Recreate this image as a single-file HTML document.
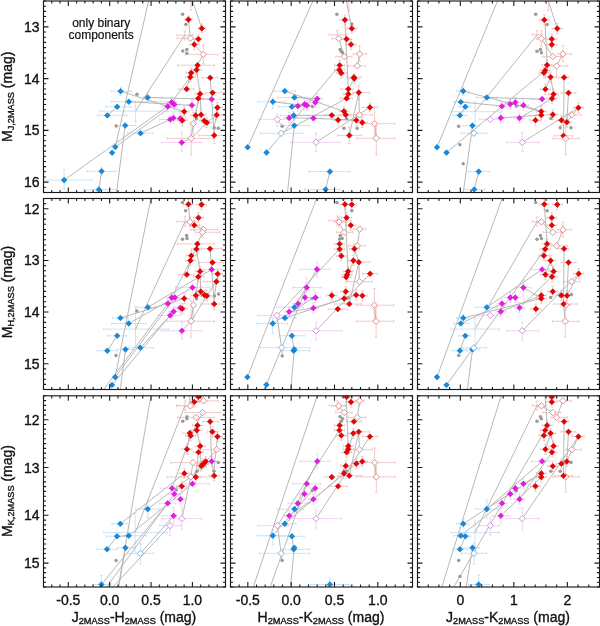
<!DOCTYPE html>
<html><head><meta charset="utf-8"><style>
html,body{margin:0;padding:0;background:#fff;}
body{width:600px;height:626px;overflow:hidden;font-family:"Liberation Sans",sans-serif;}
svg{display:block;will-change:transform;filter:blur(0.3px);}
</style></head><body>
<svg width="600" height="626" viewBox="0 0 600 626">
<rect width="600" height="626" fill="#fff"/>
<clipPath id="c00"><rect x="43.5" y="1" width="182" height="191.5"/></clipPath>
<g clip-path="url(#c00)">
<path d="M191 0V10M189.7 0h2.6M189.7 10h2.6" stroke="#f3c4c4" stroke-width="0.9" fill="none"/>
<path d="M43 180.1H92M43 178.8v2.6M92 178.8v2.6M64.1 169.6V188.5M62.8 169.6h2.6M62.8 188.5h2.6" stroke="#c4e2f7" stroke-width="0.9" fill="none"/>
<path d="M84 189.6H116M84 188.3v2.6M116 188.3v2.6" stroke="#c4e2f7" stroke-width="0.9" fill="none"/>
<path d="M87 171.3H116M87 170v2.6M116 170v2.6M101.6 167V176M100.3 167h2.6M100.3 176h2.6" stroke="#c4e2f7" stroke-width="0.9" fill="none"/>
<path d="M116 125.5H136M116 124.2v2.6M136 124.2v2.6" stroke="#c4e2f7" stroke-width="0.9" fill="none"/>
<path d="M127.5 133.2H152.7M127.5 131.9v2.6M152.7 131.9v2.6" stroke="#c4e2f7" stroke-width="0.9" fill="none"/>
<path d="M98 115.4H127M98 114.1v2.6M127 114.1v2.6" stroke="#c4e2f7" stroke-width="0.9" fill="none"/>
<path d="M105.5 106.8H131M105.5 105.5v2.6M131 105.5v2.6" stroke="#c4e2f7" stroke-width="0.9" fill="none"/>
<path d="M111 101.7H175M111 100.4v2.6M175 100.4v2.6" stroke="#c4e2f7" stroke-width="0.9" fill="none"/>
<path d="M111.6 91.2H131.4M111.6 89.9v2.6M131.4 89.9v2.6M120.6 87V95M119.3 87h2.6M119.3 95h2.6" stroke="#c4e2f7" stroke-width="0.9" fill="none"/>
<path d="M143 97.5H163M143 96.2v2.6M163 96.2v2.6M147.7 93V102M146.4 93h2.6M146.4 102h2.6" stroke="#c4e2f7" stroke-width="0.9" fill="none"/>
<path d="M100 111.2H185M100 109.9v2.6M185 109.9v2.6M135.6 101.5V121.8M134.3 101.5h2.6M134.3 121.8h2.6" stroke="#c4e2f7" stroke-width="0.9" fill="none"/>
<path d="M185 19.6H192M185 18.3v2.6M192 18.3v2.6M188.4 16V23M187.1 16h2.6M187.1 23h2.6" stroke="#f3c4c4" stroke-width="0.9" fill="none"/>
<path d="M198 28.4H206M198 27.1v2.6M206 27.1v2.6M201.8 24V33M200.5 24h2.6M200.5 33h2.6" stroke="#f3c4c4" stroke-width="0.9" fill="none"/>
<path d="M177 38.3H197M177 37v2.6M197 37v2.6" stroke="#f3c4c4" stroke-width="0.9" fill="none"/>
<path d="M177 35.3H193M177 34v2.6M193 34v2.6M184.6 31V40M183.3 31h2.6M183.3 40h2.6" stroke="#f3c4c4" stroke-width="0.9" fill="none"/>
<path d="M195 39.1H202M195 37.8v2.6M202 37.8v2.6M198.4 35V43M197.1 35h2.6M197.1 43h2.6" stroke="#f3c4c4" stroke-width="0.9" fill="none"/>
<path d="M189.3 44.5H199.3M189.3 43.2v2.6M199.3 43.2v2.6M194.3 39.5V49.5M193 39.5h2.6M193 49.5h2.6" stroke="#f3c4c4" stroke-width="0.9" fill="none"/>
<path d="M185.4 54.4H218M185.4 53.1v2.6M218 53.1v2.6M203.3 45V64M202 45h2.6M202 64h2.6" stroke="#f3c4c4" stroke-width="0.9" fill="none"/>
<path d="M177.7 65.2H214.5M177.7 63.9v2.6M214.5 63.9v2.6" stroke="#f3c4c4" stroke-width="0.9" fill="none"/>
<path d="M191.6 69.9H201.6M191.6 68.6v2.6M201.6 68.6v2.6M196.6 64.9V74.9M195.3 64.9h2.6M195.3 74.9h2.6" stroke="#f3c4c4" stroke-width="0.9" fill="none"/>
<path d="M186.1 72.9H196.1M186.1 71.6v2.6M196.1 71.6v2.6M191.1 67.9V77.9M189.8 67.9h2.6M189.8 77.9h2.6" stroke="#f3c4c4" stroke-width="0.9" fill="none"/>
<path d="M185.3 77.1H195.3M185.3 75.8v2.6M195.3 75.8v2.6M190.3 72.1V82.1M189 72.1h2.6M189 82.1h2.6" stroke="#f3c4c4" stroke-width="0.9" fill="none"/>
<path d="M202 77.8H218M202 76.5v2.6M218 76.5v2.6" stroke="#f3c4c4" stroke-width="0.9" fill="none"/>
<path d="M178.5 89.1H194M178.5 87.8v2.6M194 87.8v2.6" stroke="#f3c4c4" stroke-width="0.9" fill="none"/>
<path d="M195.1 93.9H205.1M195.1 92.6v2.6M205.1 92.6v2.6M200.1 88.9V98.9M198.8 88.9h2.6M198.8 98.9h2.6" stroke="#f3c4c4" stroke-width="0.9" fill="none"/>
<path d="M206 92.7H226M206 91.4v2.6M226 91.4v2.6" stroke="#f3c4c4" stroke-width="0.9" fill="none"/>
<path d="M193.3 98.4H203.3M193.3 97.1v2.6M203.3 97.1v2.6M198.3 93.4V103.4M197 93.4h2.6M197 103.4h2.6" stroke="#f3c4c4" stroke-width="0.9" fill="none"/>
<path d="M202.4 99.3H226M202.4 98v2.6M226 98v2.6" stroke="#f4cdf4" stroke-width="0.9" fill="none"/>
<path d="M166.6 102.3H176.6M166.6 101v2.6M176.6 101v2.6M171.6 97.3V107.3M170.3 97.3h2.6M170.3 107.3h2.6" stroke="#f4cdf4" stroke-width="0.9" fill="none"/>
<path d="M169.3 104.5H179.3M169.3 103.2v2.6M179.3 103.2v2.6M174.3 99.5V109.5M173 99.5h2.6M173 109.5h2.6" stroke="#f4cdf4" stroke-width="0.9" fill="none"/>
<path d="M162.7 106.4H172.7M162.7 105.1v2.6M172.7 105.1v2.6M167.7 101.4V111.4M166.4 101.4h2.6M166.4 111.4h2.6" stroke="#f4cdf4" stroke-width="0.9" fill="none"/>
<path d="M186.9 105.3H196.9M186.9 104v2.6M196.9 104v2.6M191.9 100.3V110.3M190.6 100.3h2.6M190.6 110.3h2.6" stroke="#f4cdf4" stroke-width="0.9" fill="none"/>
<path d="M212.4 107.6H222.4M212.4 106.3v2.6M222.4 106.3v2.6M217.4 102.6V112.6M216.1 102.6h2.6M216.1 112.6h2.6" stroke="#f3c4c4" stroke-width="0.9" fill="none"/>
<path d="M179.2 111.6H189.2M179.2 110.3v2.6M189.2 110.3v2.6M184.2 106.6V116.6M182.9 106.6h2.6M182.9 116.6h2.6" stroke="#f3c4c4" stroke-width="0.9" fill="none"/>
<path d="M190.7 115.4H200.7M190.7 114.1v2.6M200.7 114.1v2.6M195.7 110.4V120.4M194.4 110.4h2.6M194.4 120.4h2.6" stroke="#f3c4c4" stroke-width="0.9" fill="none"/>
<path d="M196.1 114.8H206.1M196.1 113.5v2.6M206.1 113.5v2.6M201.1 109.8V119.8M199.8 109.8h2.6M199.8 119.8h2.6" stroke="#f3c4c4" stroke-width="0.9" fill="none"/>
<path d="M211.7 115H221.7M211.7 113.7v2.6M221.7 113.7v2.6M216.7 110V120M215.4 110h2.6M215.4 120h2.6" stroke="#f3c4c4" stroke-width="0.9" fill="none"/>
<path d="M159.6 119.5H185.8M159.6 118.2v2.6M185.8 118.2v2.6" stroke="#f4cdf4" stroke-width="0.9" fill="none"/>
<path d="M168.4 118H178.4M168.4 116.7v2.6M178.4 116.7v2.6M173.4 113V123M172.1 113h2.6M172.1 123h2.6" stroke="#f4cdf4" stroke-width="0.9" fill="none"/>
<path d="M175.3 118.5H185.3M175.3 117.2v2.6M185.3 117.2v2.6M180.3 113.5V123.5M179 113.5h2.6M179 123.5h2.6" stroke="#f4cdf4" stroke-width="0.9" fill="none"/>
<path d="M177.2 120.5H187.2M177.2 119.2v2.6M187.2 119.2v2.6M182.2 115.5V125.5M180.9 115.5h2.6M180.9 125.5h2.6" stroke="#f3c4c4" stroke-width="0.9" fill="none"/>
<path d="M199.3 120.8H209.3M199.3 119.5v2.6M209.3 119.5v2.6M204.3 115.8V125.8M203 115.8h2.6M203 125.8h2.6" stroke="#f3c4c4" stroke-width="0.9" fill="none"/>
<path d="M201.8 122.7H211.8M201.8 121.4v2.6M211.8 121.4v2.6M206.8 117.7V127.7M205.5 117.7h2.6M205.5 127.7h2.6" stroke="#f3c4c4" stroke-width="0.9" fill="none"/>
<path d="M193.4 112.5V138.6M192.1 112.5h2.6M192.1 138.6h2.6" stroke="#f3c4c4" stroke-width="0.9" fill="none"/>
<path d="M199 135.4H226M199 134.1v2.6M226 134.1v2.6M214.2 129V143.7M212.9 129h2.6M212.9 143.7h2.6" stroke="#f3c4c4" stroke-width="0.9" fill="none"/>
<path d="M167.2 138.4H213.9M167.2 137.1v2.6M213.9 137.1v2.6M191.1 123.3V155.2M189.8 123.3h2.6M189.8 155.2h2.6" stroke="#f3c4c4" stroke-width="0.9" fill="none"/>
<path d="M161.5 142.5H201.7M161.5 141.2v2.6M201.7 141.2v2.6M181.7 132.3V151.4M180.4 132.3h2.6M180.4 151.4h2.6" stroke="#f4cdf4" stroke-width="0.9" fill="none"/>
<path d="M148.8 0L115.3 147M125.2 125.5L116.5 193M64.1 180.1L167.6 106.3M115.3 147L174.3 104.5M171.6 102.3L190.3 77.1M140.5 133.2L170.2 119.5M135.6 111.2L184.6 35.3M120.6 91.2L184.2 111.6M147.7 97.5L211.7 99.3M128.8 101.7L192.5 105.4M101.6 171.3L98.8 189.6M107.3 115.4L117.2 106.8M192.3 0L201.8 28.4M188.4 19.6L190.4 38.3M194.3 44.5L203.3 54.4M203.3 54.4L190.3 77.1M191.1 72.9L186.6 89.1M196.6 69.9L200.1 93.9M210.2 77.8L211.7 99.3M211.7 99.3L214.2 135.4M193.4 123.6L191.1 138.4M191.1 138.4L206.8 122.7M181.7 142.5L191.1 138.4M200.1 93.9L201.1 114.8M198.3 98.4L195.7 115.4M216.7 115L206.8 122.7M217.4 107.6L214.2 127.8" stroke="#b4b4b4" stroke-width="0.95" fill="none"/>
<circle cx="137" cy="94.3" r="1.75" fill="#9a9a9a"/>
<circle cx="116.2" cy="126" r="1.75" fill="#9a9a9a"/>
<circle cx="182.6" cy="14.3" r="1.75" fill="#9a9a9a"/>
<circle cx="185.8" cy="24.5" r="1.75" fill="#9a9a9a"/>
<circle cx="182.8" cy="50.9" r="1.75" fill="#9a9a9a"/>
<circle cx="186.9" cy="49.4" r="1.75" fill="#9a9a9a"/>
<circle cx="186.9" cy="53.2" r="1.75" fill="#9a9a9a"/>
<circle cx="196.4" cy="118.8" r="1.75" fill="#9a9a9a"/>
<circle cx="214.2" cy="127.8" r="1.75" fill="#9a9a9a"/>
<circle cx="218.3" cy="128.2" r="1.75" fill="#9a9a9a"/>
<polygon points="64.1,177.3 66.9,180.1 64.1,182.9 61.3,180.1" fill="#0d8ce6" stroke="#0a6fc0" stroke-width="0.6"/>
<polygon points="98.8,186.8 101.6,189.6 98.8,192.4 96,189.6" fill="#0d8ce6" stroke="#0a6fc0" stroke-width="0.6"/>
<polygon points="101.6,168.5 104.4,171.3 101.6,174.1 98.8,171.3" fill="#0d8ce6" stroke="#0a6fc0" stroke-width="0.6"/>
<polygon points="112.1,149.9 114.9,152.7 112.1,155.5 109.3,152.7" fill="#0d8ce6" stroke="#0a6fc0" stroke-width="0.6"/>
<polygon points="115.3,144.2 118.1,147 115.3,149.8 112.5,147" fill="#0d8ce6" stroke="#0a6fc0" stroke-width="0.6"/>
<polygon points="125.2,122.7 128,125.5 125.2,128.3 122.4,125.5" fill="#0d8ce6" stroke="#0a6fc0" stroke-width="0.6"/>
<polygon points="140.5,130.4 143.3,133.2 140.5,136 137.7,133.2" fill="#0d8ce6" stroke="#0a6fc0" stroke-width="0.6"/>
<polygon points="107.3,112.6 110.1,115.4 107.3,118.2 104.5,115.4" fill="#0d8ce6" stroke="#0a6fc0" stroke-width="0.6"/>
<polygon points="117.2,104 120,106.8 117.2,109.6 114.4,106.8" fill="#0d8ce6" stroke="#0a6fc0" stroke-width="0.6"/>
<polygon points="128.8,98.9 131.6,101.7 128.8,104.5 126,101.7" fill="#0d8ce6" stroke="#0a6fc0" stroke-width="0.6"/>
<polygon points="120.6,88.4 123.4,91.2 120.6,94 117.8,91.2" fill="#0d8ce6" stroke="#0a6fc0" stroke-width="0.6"/>
<polygon points="147.7,94.7 150.5,97.5 147.7,100.3 144.9,97.5" fill="#0d8ce6" stroke="#0a6fc0" stroke-width="0.6"/>
<polygon points="188.4,16.8 191.2,19.6 188.4,22.4 185.6,19.6" fill="#ee0000" stroke="#b80000" stroke-width="0.6"/>
<polygon points="201.8,25.6 204.6,28.4 201.8,31.2 199,28.4" fill="#ee0000" stroke="#b80000" stroke-width="0.6"/>
<polygon points="190.4,35.1 193.6,38.3 190.4,41.5 187.2,38.3" fill="#fff" stroke="#e28e8e" stroke-width="1"/>
<polygon points="198.4,36.3 201.2,39.1 198.4,41.9 195.6,39.1" fill="#ee0000" stroke="#b80000" stroke-width="0.6"/>
<polygon points="194.3,41.7 197.1,44.5 194.3,47.3 191.5,44.5" fill="#ee0000" stroke="#b80000" stroke-width="0.6"/>
<polygon points="203.3,51.2 206.5,54.4 203.3,57.6 200.1,54.4" fill="#fff" stroke="#e28e8e" stroke-width="1"/>
<polygon points="197.6,62.4 200.4,65.2 197.6,68 194.8,65.2" fill="#ee0000" stroke="#b80000" stroke-width="0.6"/>
<polygon points="196.6,67.1 199.4,69.9 196.6,72.7 193.8,69.9" fill="#ee0000" stroke="#b80000" stroke-width="0.6"/>
<polygon points="191.1,70.1 193.9,72.9 191.1,75.7 188.3,72.9" fill="#ee0000" stroke="#b80000" stroke-width="0.6"/>
<polygon points="190.3,74.3 193.1,77.1 190.3,79.9 187.5,77.1" fill="#ee0000" stroke="#b80000" stroke-width="0.6"/>
<polygon points="210.2,75 213,77.8 210.2,80.6 207.4,77.8" fill="#ee0000" stroke="#b80000" stroke-width="0.6"/>
<polygon points="186.6,86.3 189.4,89.1 186.6,91.9 183.8,89.1" fill="#ee0000" stroke="#b80000" stroke-width="0.6"/>
<polygon points="200.1,91.1 202.9,93.9 200.1,96.7 197.3,93.9" fill="#ee0000" stroke="#b80000" stroke-width="0.6"/>
<polygon points="212.6,89.9 215.4,92.7 212.6,95.5 209.8,92.7" fill="#ee0000" stroke="#b80000" stroke-width="0.6"/>
<polygon points="198.3,95.6 201.1,98.4 198.3,101.2 195.5,98.4" fill="#ee0000" stroke="#b80000" stroke-width="0.6"/>
<polygon points="211.7,96.5 214.5,99.3 211.7,102.1 208.9,99.3" fill="#ee14ee" stroke="#c010c0" stroke-width="0.6"/>
<polygon points="171.6,99.5 174.4,102.3 171.6,105.1 168.8,102.3" fill="#ee14ee" stroke="#c010c0" stroke-width="0.6"/>
<polygon points="174.3,101.7 177.1,104.5 174.3,107.3 171.5,104.5" fill="#ee14ee" stroke="#c010c0" stroke-width="0.6"/>
<polygon points="167.7,103.6 170.5,106.4 167.7,109.2 164.9,106.4" fill="#ee14ee" stroke="#c010c0" stroke-width="0.6"/>
<polygon points="191.9,102.5 194.7,105.3 191.9,108.1 189.1,105.3" fill="#ee14ee" stroke="#c010c0" stroke-width="0.6"/>
<polygon points="217.4,104.8 220.2,107.6 217.4,110.4 214.6,107.6" fill="#ee0000" stroke="#b80000" stroke-width="0.6"/>
<polygon points="184.2,108.8 187,111.6 184.2,114.4 181.4,111.6" fill="#ee0000" stroke="#b80000" stroke-width="0.6"/>
<polygon points="195.7,112.6 198.5,115.4 195.7,118.2 192.9,115.4" fill="#ee0000" stroke="#b80000" stroke-width="0.6"/>
<polygon points="201.1,112 203.9,114.8 201.1,117.6 198.3,114.8" fill="#ee0000" stroke="#b80000" stroke-width="0.6"/>
<polygon points="216.7,112.2 219.5,115 216.7,117.8 213.9,115" fill="#ee0000" stroke="#b80000" stroke-width="0.6"/>
<polygon points="170.2,116.7 173,119.5 170.2,122.3 167.4,119.5" fill="#ee14ee" stroke="#c010c0" stroke-width="0.6"/>
<polygon points="173.4,115.2 176.2,118 173.4,120.8 170.6,118" fill="#ee14ee" stroke="#c010c0" stroke-width="0.6"/>
<polygon points="180.3,115.7 183.1,118.5 180.3,121.3 177.5,118.5" fill="#ee14ee" stroke="#c010c0" stroke-width="0.6"/>
<polygon points="182.2,117.7 185,120.5 182.2,123.3 179.4,120.5" fill="#ee0000" stroke="#b80000" stroke-width="0.6"/>
<polygon points="204.3,118 207.1,120.8 204.3,123.6 201.5,120.8" fill="#ee0000" stroke="#b80000" stroke-width="0.6"/>
<polygon points="206.8,119.9 209.6,122.7 206.8,125.5 204,122.7" fill="#ee0000" stroke="#b80000" stroke-width="0.6"/>
<polygon points="193.4,120.4 196.6,123.6 193.4,126.8 190.2,123.6" fill="#fff" stroke="#e28e8e" stroke-width="1"/>
<polygon points="214.2,132.6 217,135.4 214.2,138.2 211.4,135.4" fill="#ee0000" stroke="#b80000" stroke-width="0.6"/>
<polygon points="191.1,135.2 194.3,138.4 191.1,141.6 187.9,138.4" fill="#fff" stroke="#e28e8e" stroke-width="1"/>
<polygon points="181.7,139.7 184.5,142.5 181.7,145.3 178.9,142.5" fill="#ee14ee" stroke="#c010c0" stroke-width="0.6"/>
</g>
<clipPath id="c01"><rect x="230.5" y="1" width="182" height="191.5"/></clipPath>
<g clip-path="url(#c01)">
<path d="M348.9 1V10.5M347.6 1h2.6M347.6 10.5h2.6" stroke="#f3c4c4" stroke-width="0.9" fill="none"/>
<path d="M274 91.1H295.5M274 89.8v2.6M295.5 89.8v2.6" stroke="#c4e2f7" stroke-width="0.9" fill="none"/>
<path d="M277.6 97.5H307M277.6 96.2v2.6M307 96.2v2.6" stroke="#c4e2f7" stroke-width="0.9" fill="none"/>
<path d="M258 101.8H285.7M258 100.5v2.6M285.7 100.5v2.6M272.8 97.9V108.6M271.5 97.9h2.6M271.5 108.6h2.6" stroke="#c4e2f7" stroke-width="0.9" fill="none"/>
<path d="M278.5 106.8H307M278.5 105.5v2.6M307 105.5v2.6" stroke="#c4e2f7" stroke-width="0.9" fill="none"/>
<path d="M280.3 115.4H309M280.3 114.1v2.6M309 114.1v2.6M293.7 111.3V120M292.4 111.3h2.6M292.4 120h2.6" stroke="#c4e2f7" stroke-width="0.9" fill="none"/>
<path d="M283.9 125.6H309.8M283.9 124.3v2.6M309.8 124.3v2.6" stroke="#c4e2f7" stroke-width="0.9" fill="none"/>
<path d="M260.3 133.3H302.7M260.3 132v2.6M302.7 132v2.6" stroke="#c4e2f7" stroke-width="0.9" fill="none"/>
<path d="M308.9 171.6H350M308.9 170.3v2.6M350 170.3v2.6" stroke="#c4e2f7" stroke-width="0.9" fill="none"/>
<path d="M304.5 189.5H340M304.5 188.2v2.6M340 188.2v2.6" stroke="#c4e2f7" stroke-width="0.9" fill="none"/>
<path d="M312.3 98.8H322.3M312.3 97.5v2.6M322.3 97.5v2.6M317.3 93.8V103.8M316 93.8h2.6M316 103.8h2.6" stroke="#f4cdf4" stroke-width="0.9" fill="none"/>
<path d="M310.2 102.4H320.2M310.2 101.1v2.6M320.2 101.1v2.6M315.2 97.4V107.4M313.9 97.4h2.6M313.9 107.4h2.6" stroke="#f4cdf4" stroke-width="0.9" fill="none"/>
<path d="M292.8 106.1H302.8M292.8 104.8v2.6M302.8 104.8v2.6M297.8 101.1V111.1M296.5 101.1h2.6M296.5 111.1h2.6" stroke="#f4cdf4" stroke-width="0.9" fill="none"/>
<path d="M299.5 104.2H309.5M299.5 102.9v2.6M309.5 102.9v2.6M304.5 99.2V109.2M303.2 99.2h2.6M303.2 109.2h2.6" stroke="#f4cdf4" stroke-width="0.9" fill="none"/>
<path d="M301.8 105.4H311.8M301.8 104.1v2.6M311.8 104.1v2.6M306.8 100.4V110.4M305.5 100.4h2.6M305.5 110.4h2.6" stroke="#f4cdf4" stroke-width="0.9" fill="none"/>
<path d="M284.2 117.9H294.2M284.2 116.6v2.6M294.2 116.6v2.6M289.2 112.9V122.9M287.9 112.9h2.6M287.9 122.9h2.6" stroke="#f4cdf4" stroke-width="0.9" fill="none"/>
<path d="M307 118.3H321.4M307 117v2.6M321.4 117v2.6" stroke="#f4cdf4" stroke-width="0.9" fill="none"/>
<path d="M258.8 119.4H289.2M258.8 118.1v2.6M289.2 118.1v2.6M277.3 114.3V126.5M276 114.3h2.6M276 126.5h2.6" stroke="#f4cdf4" stroke-width="0.9" fill="none"/>
<path d="M291 142.3H340M291 141v2.6M340 141v2.6M316.1 132.8V151.6M314.8 132.8h2.6M314.8 151.6h2.6" stroke="#f4cdf4" stroke-width="0.9" fill="none"/>
<path d="M339.9 19.9H349.9M339.9 18.6v2.6M349.9 18.6v2.6M344.9 14.9V24.9M343.6 14.9h2.6M343.6 24.9h2.6" stroke="#f3c4c4" stroke-width="0.9" fill="none"/>
<path d="M346.8 28.5H356.8M346.8 27.2v2.6M356.8 27.2v2.6M351.8 23.5V33.5M350.5 23.5h2.6M350.5 33.5h2.6" stroke="#f3c4c4" stroke-width="0.9" fill="none"/>
<path d="M329.1 34.8H345.7M329.1 33.5v2.6M345.7 33.5v2.6M337.3 30.6V38.8M336 30.6h2.6M336 38.8h2.6" stroke="#f3c4c4" stroke-width="0.9" fill="none"/>
<path d="M331.9 38.6H345.1M331.9 37.3v2.6M345.1 37.3v2.6" stroke="#f3c4c4" stroke-width="0.9" fill="none"/>
<path d="M341.6 39.1H351.6M341.6 37.8v2.6M351.6 37.8v2.6M346.6 34.1V44.1M345.3 34.1h2.6M345.3 44.1h2.6" stroke="#f3c4c4" stroke-width="0.9" fill="none"/>
<path d="M346 44.5H356M346 43.2v2.6M356 43.2v2.6M351 39.5V49.5M349.7 39.5h2.6M349.7 49.5h2.6" stroke="#f3c4c4" stroke-width="0.9" fill="none"/>
<path d="M335.7 56.7H352M335.7 55.4v2.6M352 55.4v2.6" stroke="#f3c4c4" stroke-width="0.9" fill="none"/>
<path d="M353.3 54H366.5M353.3 52.7v2.6M366.5 52.7v2.6M359.6 45.8V61.5M358.3 45.8h2.6M358.3 61.5h2.6" stroke="#f3c4c4" stroke-width="0.9" fill="none"/>
<path d="M348.3 65.9H365.7M348.3 64.6v2.6M365.7 64.6v2.6" stroke="#f3c4c4" stroke-width="0.9" fill="none"/>
<path d="M334.7 65.3H344.7M334.7 64v2.6M344.7 64v2.6M339.7 60.3V70.3M338.4 60.3h2.6M338.4 70.3h2.6" stroke="#f3c4c4" stroke-width="0.9" fill="none"/>
<path d="M334.4 70.1H344.4M334.4 68.8v2.6M344.4 68.8v2.6M339.4 65.1V75.1M338.1 65.1h2.6M338.1 75.1h2.6" stroke="#f3c4c4" stroke-width="0.9" fill="none"/>
<path d="M336.3 73.1H346.3M336.3 71.8v2.6M346.3 71.8v2.6M341.3 68.1V78.1M340 68.1h2.6M340 78.1h2.6" stroke="#f3c4c4" stroke-width="0.9" fill="none"/>
<path d="M346.4 77.3H361.5M346.4 76v2.6M361.5 76v2.6" stroke="#f3c4c4" stroke-width="0.9" fill="none"/>
<path d="M349.2 78.6H359.2M349.2 77.3v2.6M359.2 77.3v2.6M354.2 73.6V83.6M352.9 73.6h2.6M352.9 83.6h2.6" stroke="#f3c4c4" stroke-width="0.9" fill="none"/>
<path d="M340.8 89.1H353M340.8 87.8v2.6M353 87.8v2.6" stroke="#f3c4c4" stroke-width="0.9" fill="none"/>
<path d="M353 92.6H369.3M353 91.3v2.6M369.3 91.3v2.6M358.8 85.6V99.6M357.5 85.6h2.6M357.5 99.6h2.6" stroke="#f3c4c4" stroke-width="0.9" fill="none"/>
<path d="M343.3 94.1H353.3M343.3 92.8v2.6M353.3 92.8v2.6M348.3 89.1V99.1M347 89.1h2.6M347 99.1h2.6" stroke="#f3c4c4" stroke-width="0.9" fill="none"/>
<path d="M340.2 98.4H352.4M340.2 97.1v2.6M352.4 97.1v2.6" stroke="#f3c4c4" stroke-width="0.9" fill="none"/>
<path d="M362.3 107.4H377.5M362.3 106.1v2.6M377.5 106.1v2.6M369.9 103V111.8M368.6 103h2.6M368.6 111.8h2.6" stroke="#f3c4c4" stroke-width="0.9" fill="none"/>
<path d="M338.9 111.3H348.9M338.9 110v2.6M348.9 110v2.6M343.9 106.3V116.3M342.6 106.3h2.6M342.6 116.3h2.6" stroke="#f3c4c4" stroke-width="0.9" fill="none"/>
<path d="M340.8 114.8H350.8M340.8 113.5v2.6M350.8 113.5v2.6M345.8 109.8V119.8M344.5 109.8h2.6M344.5 119.8h2.6" stroke="#f3c4c4" stroke-width="0.9" fill="none"/>
<path d="M325 115.3H341.3M325 114v2.6M341.3 114v2.6" stroke="#f3c4c4" stroke-width="0.9" fill="none"/>
<path d="M349.5 114.8H372.3M349.5 113.5v2.6M372.3 113.5v2.6" stroke="#f3c4c4" stroke-width="0.9" fill="none"/>
<path d="M333.1 120H343.1M333.1 118.7v2.6M343.1 118.7v2.6M338.1 115V125M336.8 115h2.6M336.8 125h2.6" stroke="#f3c4c4" stroke-width="0.9" fill="none"/>
<path d="M351.3 120.2H361.3M351.3 118.9v2.6M361.3 118.9v2.6M356.3 115.2V125.2M355 115.2h2.6M355 125.2h2.6" stroke="#f3c4c4" stroke-width="0.9" fill="none"/>
<path d="M357.3 122.6H367.3M357.3 121.3v2.6M367.3 121.3v2.6M362.3 117.6V127.6M361 117.6h2.6M361 127.6h2.6" stroke="#f3c4c4" stroke-width="0.9" fill="none"/>
<path d="M365.8 123.7H395M365.8 122.4v2.6M395 122.4v2.6M374.6 107V138M373.3 107h2.6M373.3 138h2.6" stroke="#f3c4c4" stroke-width="0.9" fill="none"/>
<path d="M337.3 135.4H361.8M337.3 134.1v2.6M361.8 134.1v2.6M349.3 127V143.3M348 127h2.6M348 143.3h2.6" stroke="#f3c4c4" stroke-width="0.9" fill="none"/>
<path d="M356.5 138.3H395M356.5 137v2.6M395 137v2.6M376.3 126V155M375 126h2.6M375 155h2.6" stroke="#f3c4c4" stroke-width="0.9" fill="none"/>
<path d="M247.6 147.3L312.9 1M266.5 152.6L339.7 65.3M287.5 193L294.3 125.6M325.6 189.5L329.9 171.6M284.8 91.1L343.9 111.3M272.8 101.8L312.5 106.5M294.4 97.5L317.3 98.8M293.7 115.4L331.8 115.3M291.9 106.8L304.5 104.2M281.2 133.3L346.6 98.4M316.1 142.3L369.9 107.4M277.3 119.4L282.1 126.2M289.2 117.9L313.4 118.3M346.4 1L351.8 28.5M344.9 19.9L348.3 89.1M338.8 38.6L344.2 56.7M359.6 54L357.3 65.9M354.2 78.6L348.3 89.1M358.8 92.6L349.3 135.4M358.8 92.6L359.4 114.8M374.6 123.7L376.3 138.3M313.4 118.3L356.3 120.2" stroke="#b4b4b4" stroke-width="0.95" fill="none"/>
<circle cx="312.5" cy="106.5" r="1.75" fill="#9a9a9a"/>
<circle cx="282.1" cy="126.2" r="1.75" fill="#9a9a9a"/>
<circle cx="336.9" cy="14.2" r="1.75" fill="#9a9a9a"/>
<circle cx="351.8" cy="24.1" r="1.75" fill="#9a9a9a"/>
<circle cx="340.1" cy="49.5" r="1.75" fill="#9a9a9a"/>
<circle cx="341.3" cy="51.4" r="1.75" fill="#9a9a9a"/>
<circle cx="342.6" cy="52.7" r="1.75" fill="#9a9a9a"/>
<circle cx="346.6" cy="118.8" r="1.75" fill="#9a9a9a"/>
<circle cx="343.9" cy="128.2" r="1.75" fill="#9a9a9a"/>
<circle cx="357.1" cy="128.2" r="1.75" fill="#9a9a9a"/>
<polygon points="284.8,88.3 287.6,91.1 284.8,93.9 282,91.1" fill="#0d8ce6" stroke="#0a6fc0" stroke-width="0.6"/>
<polygon points="294.4,94.7 297.2,97.5 294.4,100.3 291.6,97.5" fill="#0d8ce6" stroke="#0a6fc0" stroke-width="0.6"/>
<polygon points="272.8,99 275.6,101.8 272.8,104.6 270,101.8" fill="#0d8ce6" stroke="#0a6fc0" stroke-width="0.6"/>
<polygon points="291.9,104 294.7,106.8 291.9,109.6 289.1,106.8" fill="#0d8ce6" stroke="#0a6fc0" stroke-width="0.6"/>
<polygon points="293.7,112.6 296.5,115.4 293.7,118.2 290.9,115.4" fill="#0d8ce6" stroke="#0a6fc0" stroke-width="0.6"/>
<polygon points="294.3,122.8 297.1,125.6 294.3,128.4 291.5,125.6" fill="#0d8ce6" stroke="#0a6fc0" stroke-width="0.6"/>
<polygon points="281.2,130.1 284.4,133.3 281.2,136.5 278,133.3" fill="#fff" stroke="#7fb4de" stroke-width="1"/>
<polygon points="247.6,144.5 250.4,147.3 247.6,150.1 244.8,147.3" fill="#0d8ce6" stroke="#0a6fc0" stroke-width="0.6"/>
<polygon points="266.5,149.8 269.3,152.6 266.5,155.4 263.7,152.6" fill="#0d8ce6" stroke="#0a6fc0" stroke-width="0.6"/>
<polygon points="329.9,168.8 332.7,171.6 329.9,174.4 327.1,171.6" fill="#0d8ce6" stroke="#0a6fc0" stroke-width="0.6"/>
<polygon points="325.6,186.7 328.4,189.5 325.6,192.3 322.8,189.5" fill="#0d8ce6" stroke="#0a6fc0" stroke-width="0.6"/>
<polygon points="317.3,96 320.1,98.8 317.3,101.6 314.5,98.8" fill="#ee14ee" stroke="#c010c0" stroke-width="0.6"/>
<polygon points="315.2,99.6 318,102.4 315.2,105.2 312.4,102.4" fill="#ee14ee" stroke="#c010c0" stroke-width="0.6"/>
<polygon points="297.8,103.3 300.6,106.1 297.8,108.9 295,106.1" fill="#ee14ee" stroke="#c010c0" stroke-width="0.6"/>
<polygon points="304.5,101.4 307.3,104.2 304.5,107 301.7,104.2" fill="#ee14ee" stroke="#c010c0" stroke-width="0.6"/>
<polygon points="306.8,102.6 309.6,105.4 306.8,108.2 304,105.4" fill="#ee14ee" stroke="#c010c0" stroke-width="0.6"/>
<polygon points="289.2,115.1 292,117.9 289.2,120.7 286.4,117.9" fill="#ee14ee" stroke="#c010c0" stroke-width="0.6"/>
<polygon points="313.4,115.5 316.2,118.3 313.4,121.1 310.6,118.3" fill="#ee14ee" stroke="#c010c0" stroke-width="0.6"/>
<polygon points="277.3,116.2 280.5,119.4 277.3,122.6 274.1,119.4" fill="#fff" stroke="#d890e2" stroke-width="1"/>
<polygon points="316.1,139.1 319.3,142.3 316.1,145.5 312.9,142.3" fill="#fff" stroke="#d890e2" stroke-width="1"/>
<polygon points="344.9,17.1 347.7,19.9 344.9,22.7 342.1,19.9" fill="#ee0000" stroke="#b80000" stroke-width="0.6"/>
<polygon points="351.8,25.7 354.6,28.5 351.8,31.3 349,28.5" fill="#ee0000" stroke="#b80000" stroke-width="0.6"/>
<polygon points="338.8,35.4 342,38.6 338.8,41.8 335.6,38.6" fill="#fff" stroke="#e28e8e" stroke-width="1"/>
<polygon points="346.6,36.3 349.4,39.1 346.6,41.9 343.8,39.1" fill="#ee0000" stroke="#b80000" stroke-width="0.6"/>
<polygon points="351,41.7 353.8,44.5 351,47.3 348.2,44.5" fill="#ee0000" stroke="#b80000" stroke-width="0.6"/>
<polygon points="344.2,53.5 347.4,56.7 344.2,59.9 341,56.7" fill="#fff" stroke="#e28e8e" stroke-width="1"/>
<polygon points="359.6,50.8 362.8,54 359.6,57.2 356.4,54" fill="#fff" stroke="#e28e8e" stroke-width="1"/>
<polygon points="357.3,62.7 360.5,65.9 357.3,69.1 354.1,65.9" fill="#fff" stroke="#e28e8e" stroke-width="1"/>
<polygon points="339.7,62.5 342.5,65.3 339.7,68.1 336.9,65.3" fill="#ee0000" stroke="#b80000" stroke-width="0.6"/>
<polygon points="339.4,67.3 342.2,70.1 339.4,72.9 336.6,70.1" fill="#ee0000" stroke="#b80000" stroke-width="0.6"/>
<polygon points="341.3,70.3 344.1,73.1 341.3,75.9 338.5,73.1" fill="#ee0000" stroke="#b80000" stroke-width="0.6"/>
<polygon points="353.9,74.5 356.7,77.3 353.9,80.1 351.1,77.3" fill="#ee0000" stroke="#b80000" stroke-width="0.6"/>
<polygon points="354.2,75.8 357,78.6 354.2,81.4 351.4,78.6" fill="#ee0000" stroke="#b80000" stroke-width="0.6"/>
<polygon points="348.3,86.3 351.1,89.1 348.3,91.9 345.5,89.1" fill="#ee0000" stroke="#b80000" stroke-width="0.6"/>
<polygon points="358.8,89.8 361.6,92.6 358.8,95.4 356,92.6" fill="#ee0000" stroke="#b80000" stroke-width="0.6"/>
<polygon points="348.3,91.3 351.1,94.1 348.3,96.9 345.5,94.1" fill="#ee0000" stroke="#b80000" stroke-width="0.6"/>
<polygon points="346.6,95.6 349.4,98.4 346.6,101.2 343.8,98.4" fill="#ee0000" stroke="#b80000" stroke-width="0.6"/>
<polygon points="369.9,104.6 372.7,107.4 369.9,110.2 367.1,107.4" fill="#ee0000" stroke="#b80000" stroke-width="0.6"/>
<polygon points="343.9,108.5 346.7,111.3 343.9,114.1 341.1,111.3" fill="#ee0000" stroke="#b80000" stroke-width="0.6"/>
<polygon points="345.8,112 348.6,114.8 345.8,117.6 343,114.8" fill="#ee0000" stroke="#b80000" stroke-width="0.6"/>
<polygon points="331.8,112.5 334.6,115.3 331.8,118.1 329,115.3" fill="#ee0000" stroke="#b80000" stroke-width="0.6"/>
<polygon points="359.4,111.6 362.6,114.8 359.4,118 356.2,114.8" fill="#fff" stroke="#e28e8e" stroke-width="1"/>
<polygon points="338.1,117.2 340.9,120 338.1,122.8 335.3,120" fill="#ee0000" stroke="#b80000" stroke-width="0.6"/>
<polygon points="356.3,117.4 359.1,120.2 356.3,123 353.5,120.2" fill="#ee0000" stroke="#b80000" stroke-width="0.6"/>
<polygon points="362.3,119.8 365.1,122.6 362.3,125.4 359.5,122.6" fill="#ee0000" stroke="#b80000" stroke-width="0.6"/>
<polygon points="374.6,120.5 377.8,123.7 374.6,126.9 371.4,123.7" fill="#fff" stroke="#e28e8e" stroke-width="1"/>
<polygon points="349.3,132.6 352.1,135.4 349.3,138.2 346.5,135.4" fill="#ee0000" stroke="#b80000" stroke-width="0.6"/>
<polygon points="376.3,135.1 379.5,138.3 376.3,141.5 373.1,138.3" fill="#fff" stroke="#e28e8e" stroke-width="1"/>
</g>
<clipPath id="c02"><rect x="417.5" y="1" width="182" height="191.5"/></clipPath>
<g clip-path="url(#c02)">
<path d="M548.4 1V10.5M547.1 1h2.6M547.1 10.5h2.6" stroke="#f3c4c4" stroke-width="0.9" fill="none"/>
<path d="M456.7 91.1H468.9M456.7 89.8v2.6M468.9 89.8v2.6M463.2 87.2V95.2M461.9 87.2h2.6M461.9 95.2h2.6" stroke="#c4e2f7" stroke-width="0.9" fill="none"/>
<path d="M476 97.5H497.5M476 96.2v2.6M497.5 96.2v2.6" stroke="#c4e2f7" stroke-width="0.9" fill="none"/>
<path d="M453.7 102H468.9M453.7 100.7v2.6M468.9 100.7v2.6" stroke="#c4e2f7" stroke-width="0.9" fill="none"/>
<path d="M458.5 106.8H470.7M458.5 105.5v2.6M470.7 105.5v2.6" stroke="#c4e2f7" stroke-width="0.9" fill="none"/>
<path d="M452.8 115.4H467.1M452.8 114.1v2.6M467.1 114.1v2.6" stroke="#c4e2f7" stroke-width="0.9" fill="none"/>
<path d="M451 111.7H499.3M451 110.4v2.6M499.3 110.4v2.6M475.1 101.5V122M473.8 101.5h2.6M473.8 122h2.6" stroke="#c4e2f7" stroke-width="0.9" fill="none"/>
<path d="M463.5 125.6H479.6M463.5 124.3v2.6M479.6 124.3v2.6" stroke="#c4e2f7" stroke-width="0.9" fill="none"/>
<path d="M461.4 133.3H486.4M461.4 132v2.6M486.4 132v2.6" stroke="#c4e2f7" stroke-width="0.9" fill="none"/>
<path d="M468.5 171.6H489.5M468.5 170.3v2.6M489.5 170.3v2.6" stroke="#c4e2f7" stroke-width="0.9" fill="none"/>
<path d="M465.3 189.5H485M465.3 188.2v2.6M485 188.2v2.6" stroke="#c4e2f7" stroke-width="0.9" fill="none"/>
<path d="M497 106.3H507M497 105v2.6M507 105v2.6M502 101.3V111.3M500.7 101.3h2.6M500.7 111.3h2.6" stroke="#f4cdf4" stroke-width="0.9" fill="none"/>
<path d="M505.2 104.1H515.2M505.2 102.8v2.6M515.2 102.8v2.6M510.2 99.1V109.1M508.9 99.1h2.6M508.9 109.1h2.6" stroke="#f4cdf4" stroke-width="0.9" fill="none"/>
<path d="M510.3 102.4H520.3M510.3 101.1v2.6M520.3 101.1v2.6M515.3 97.4V107.4M514 97.4h2.6M514 107.4h2.6" stroke="#f4cdf4" stroke-width="0.9" fill="none"/>
<path d="M518.4 105.2H528.4M518.4 103.9v2.6M528.4 103.9v2.6M523.4 100.2V110.2M522.1 100.2h2.6M522.1 110.2h2.6" stroke="#f4cdf4" stroke-width="0.9" fill="none"/>
<path d="M531.4 99.1H549.5M531.4 97.8v2.6M549.5 97.8v2.6" stroke="#f4cdf4" stroke-width="0.9" fill="none"/>
<path d="M495.8 117.9H505.8M495.8 116.6v2.6M505.8 116.6v2.6M500.8 112.9V122.9M499.5 112.9h2.6M499.5 122.9h2.6" stroke="#f4cdf4" stroke-width="0.9" fill="none"/>
<path d="M514.5 118.1H524.5M514.5 116.8v2.6M524.5 116.8v2.6M519.5 113.1V123.1M518.2 113.1h2.6M518.2 123.1h2.6" stroke="#f4cdf4" stroke-width="0.9" fill="none"/>
<path d="M479.6 119.4H499.3M479.6 118.1v2.6M499.3 118.1v2.6" stroke="#f4cdf4" stroke-width="0.9" fill="none"/>
<path d="M506.6 142.4H538.8M506.6 141.1v2.6M538.8 141.1v2.6M522.3 132.5V151.4M521 132.5h2.6M521 151.4h2.6" stroke="#f4cdf4" stroke-width="0.9" fill="none"/>
<path d="M539.3 19.9H549.3M539.3 18.6v2.6M549.3 18.6v2.6M544.3 14.9V24.9M543 14.9h2.6M543 24.9h2.6" stroke="#f3c4c4" stroke-width="0.9" fill="none"/>
<path d="M552.2 28.5H562.2M552.2 27.2v2.6M562.2 27.2v2.6M557.2 23.5V33.5M555.9 23.5h2.6M555.9 33.5h2.6" stroke="#f3c4c4" stroke-width="0.9" fill="none"/>
<path d="M532.6 34.8H542M532.6 33.5v2.6M542 33.5v2.6M537 30.7V38.9M535.7 30.7h2.6M535.7 38.9h2.6" stroke="#f3c4c4" stroke-width="0.9" fill="none"/>
<path d="M537 38.6H545.8M537 37.3v2.6M545.8 37.3v2.6M541.4 30.7V46.5M540.1 30.7h2.6M540.1 46.5h2.6" stroke="#f3c4c4" stroke-width="0.9" fill="none"/>
<path d="M546.8 39.1H556.8M546.8 37.8v2.6M556.8 37.8v2.6M551.8 34.1V44.1M550.5 34.1h2.6M550.5 44.1h2.6" stroke="#f3c4c4" stroke-width="0.9" fill="none"/>
<path d="M546.8 44.6H556.8M546.8 43.3v2.6M556.8 43.3v2.6M551.8 39.6V49.6M550.5 39.6h2.6M550.5 49.6h2.6" stroke="#f3c4c4" stroke-width="0.9" fill="none"/>
<path d="M542.7 56.6H560.4M542.7 55.3v2.6M560.4 55.3v2.6" stroke="#f3c4c4" stroke-width="0.9" fill="none"/>
<path d="M557.2 54H571.7M557.2 52.7v2.6M571.7 52.7v2.6M562.9 45.8V61.6M561.6 45.8h2.6M561.6 61.6h2.6" stroke="#f3c4c4" stroke-width="0.9" fill="none"/>
<path d="M550.9 66H567.3M550.9 64.7v2.6M567.3 64.7v2.6M556.6 66V78M555.3 66h2.6M555.3 78h2.6" stroke="#f3c4c4" stroke-width="0.9" fill="none"/>
<path d="M542.1 65.1H552.1M542.1 63.8v2.6M552.1 63.8v2.6M547.1 60.1V70.1M545.8 60.1h2.6M545.8 70.1h2.6" stroke="#f3c4c4" stroke-width="0.9" fill="none"/>
<path d="M540.2 70.4H550.2M540.2 69.1v2.6M550.2 69.1v2.6M545.2 65.4V75.4M543.9 65.4h2.6M543.9 75.4h2.6" stroke="#f3c4c4" stroke-width="0.9" fill="none"/>
<path d="M538.9 72.7H548.9M538.9 71.4v2.6M548.9 71.4v2.6M543.9 67.7V77.7M542.6 67.7h2.6M542.6 77.7h2.6" stroke="#f3c4c4" stroke-width="0.9" fill="none"/>
<path d="M545.6 77.1H555.6M545.6 75.8v2.6M555.6 75.8v2.6M550.6 72.1V82.1M549.3 72.1h2.6M549.3 82.1h2.6" stroke="#f3c4c4" stroke-width="0.9" fill="none"/>
<path d="M558.5 77.4H568.6M558.5 76.1v2.6M568.6 76.1v2.6" stroke="#f3c4c4" stroke-width="0.9" fill="none"/>
<path d="M540.4 89.2H550.4M540.4 87.9v2.6M550.4 87.9v2.6M545.4 84.2V94.2M544.1 84.2h2.6M544.1 94.2h2.6" stroke="#f3c4c4" stroke-width="0.9" fill="none"/>
<path d="M561 92.9H575.9M561 91.6v2.6M575.9 91.6v2.6" stroke="#f3c4c4" stroke-width="0.9" fill="none"/>
<path d="M548.6 94.2H558.6M548.6 92.9v2.6M558.6 92.9v2.6M553.6 89.2V99.2M552.3 89.2h2.6M552.3 99.2h2.6" stroke="#f3c4c4" stroke-width="0.9" fill="none"/>
<path d="M547 98.6H557M547 97.3v2.6M557 97.3v2.6M552 93.6V103.6M550.7 93.6h2.6M550.7 103.6h2.6" stroke="#f3c4c4" stroke-width="0.9" fill="none"/>
<path d="M573.4 107.7H583.4M573.4 106.4v2.6M583.4 106.4v2.6M578.4 102.7V112.7M577.1 102.7h2.6M577.1 112.7h2.6" stroke="#f3c4c4" stroke-width="0.9" fill="none"/>
<path d="M536.3 111.5H546.3M536.3 110.2v2.6M546.3 110.2v2.6M541.3 106.5V116.5M540 106.5h2.6M540 116.5h2.6" stroke="#f3c4c4" stroke-width="0.9" fill="none"/>
<path d="M536.3 115.1H546.3M536.3 113.8v2.6M546.3 113.8v2.6M541.3 110.1V120.1M540 110.1h2.6M540 120.1h2.6" stroke="#f3c4c4" stroke-width="0.9" fill="none"/>
<path d="M547.8 114.6H557.8M547.8 113.3v2.6M557.8 113.3v2.6M552.8 109.6V119.6M551.5 109.6h2.6M551.5 119.6h2.6" stroke="#f3c4c4" stroke-width="0.9" fill="none"/>
<path d="M566 114.8H580.9M566 113.5v2.6M580.9 113.5v2.6" stroke="#f3c4c4" stroke-width="0.9" fill="none"/>
<path d="M530.5 120.2H540.5M530.5 118.9v2.6M540.5 118.9v2.6M535.5 115.2V125.2M534.2 115.2h2.6M534.2 125.2h2.6" stroke="#f3c4c4" stroke-width="0.9" fill="none"/>
<path d="M556.4 120.2H566.4M556.4 118.9v2.6M566.4 118.9v2.6M561.4 115.2V125.2M560.1 115.2h2.6M560.1 125.2h2.6" stroke="#f3c4c4" stroke-width="0.9" fill="none"/>
<path d="M561.8 122.2H571.8M561.8 120.9v2.6M571.8 120.9v2.6M566.8 117.2V127.2M565.5 117.2h2.6M565.5 127.2h2.6" stroke="#f3c4c4" stroke-width="0.9" fill="none"/>
<path d="M554.5 135.8H572.6M554.5 134.5v2.6M572.6 134.5v2.6" stroke="#f3c4c4" stroke-width="0.9" fill="none"/>
<path d="M552.8 138.7H579.2M552.8 137.4v2.6M579.2 137.4v2.6M565.7 125.9V154.7M564.4 125.9h2.6M564.4 154.7h2.6" stroke="#f3c4c4" stroke-width="0.9" fill="none"/>
<path d="M437 147.3L497.5 1M446.5 152.6L545.2 70.4M475.1 111.7L537 34.8M474.2 189.5L478.7 171.6M463.2 193L472.5 125.6M463.2 91.1L541.3 111.5M460.8 102L502 106M486.8 97.5L542.1 99.1M459.9 115.4L465.3 106.8M500.8 117.9L541.3 115.1M519.5 118.1L552 98.6M522.3 142.4L578.4 107.7M523.4 105.2L541.3 111.5M548.4 1L557.2 28.5M545.2 23.7L547.1 65.1M541.4 38.6L552.8 56.6M562.9 54L556.6 66M550.6 77.1L553.6 94.2M545.4 89.2L550.6 77.1M564.1 77.4L563.5 135.8M568.5 92.9L566.8 122.2M578.4 107.7L566.8 122.2M563.5 135.8L565.7 138.7" stroke="#b4b4b4" stroke-width="0.95" fill="none"/>
<circle cx="458.7" cy="126.2" r="1.75" fill="#9a9a9a"/>
<circle cx="459.9" cy="144.8" r="1.75" fill="#9a9a9a"/>
<circle cx="463.2" cy="163.7" r="1.75" fill="#9a9a9a"/>
<circle cx="516.5" cy="106" r="1.75" fill="#9a9a9a"/>
<circle cx="535.7" cy="14.3" r="1.75" fill="#9a9a9a"/>
<circle cx="547.1" cy="24.4" r="1.75" fill="#9a9a9a"/>
<circle cx="537" cy="51.3" r="1.75" fill="#9a9a9a"/>
<circle cx="540.4" cy="49.4" r="1.75" fill="#9a9a9a"/>
<circle cx="541.4" cy="52.8" r="1.75" fill="#9a9a9a"/>
<circle cx="550.8" cy="118.4" r="1.75" fill="#9a9a9a"/>
<circle cx="560.2" cy="127.8" r="1.75" fill="#9a9a9a"/>
<circle cx="571" cy="127.8" r="1.75" fill="#9a9a9a"/>
<polygon points="463.2,88.3 466,91.1 463.2,93.9 460.4,91.1" fill="#0d8ce6" stroke="#0a6fc0" stroke-width="0.6"/>
<polygon points="486.8,94.7 489.6,97.5 486.8,100.3 484,97.5" fill="#0d8ce6" stroke="#0a6fc0" stroke-width="0.6"/>
<polygon points="460.8,99.2 463.6,102 460.8,104.8 458,102" fill="#0d8ce6" stroke="#0a6fc0" stroke-width="0.6"/>
<polygon points="465.3,104 468.1,106.8 465.3,109.6 462.5,106.8" fill="#0d8ce6" stroke="#0a6fc0" stroke-width="0.6"/>
<polygon points="459.9,112.6 462.7,115.4 459.9,118.2 457.1,115.4" fill="#0d8ce6" stroke="#0a6fc0" stroke-width="0.6"/>
<polygon points="472.5,122.8 475.3,125.6 472.5,128.4 469.7,125.6" fill="#0d8ce6" stroke="#0a6fc0" stroke-width="0.6"/>
<polygon points="473.9,130.1 477.1,133.3 473.9,136.5 470.7,133.3" fill="#fff" stroke="#7fb4de" stroke-width="1"/>
<polygon points="437,144.5 439.8,147.3 437,150.1 434.2,147.3" fill="#0d8ce6" stroke="#0a6fc0" stroke-width="0.6"/>
<polygon points="446.5,149.8 449.3,152.6 446.5,155.4 443.7,152.6" fill="#0d8ce6" stroke="#0a6fc0" stroke-width="0.6"/>
<polygon points="478.7,168.8 481.5,171.6 478.7,174.4 475.9,171.6" fill="#0d8ce6" stroke="#0a6fc0" stroke-width="0.6"/>
<polygon points="474.2,186.7 477,189.5 474.2,192.3 471.4,189.5" fill="#0d8ce6" stroke="#0a6fc0" stroke-width="0.6"/>
<polygon points="502,103.5 504.8,106.3 502,109.1 499.2,106.3" fill="#ee14ee" stroke="#c010c0" stroke-width="0.6"/>
<polygon points="510.2,101.3 513,104.1 510.2,106.9 507.4,104.1" fill="#ee14ee" stroke="#c010c0" stroke-width="0.6"/>
<polygon points="515.3,99.6 518.1,102.4 515.3,105.2 512.5,102.4" fill="#ee14ee" stroke="#c010c0" stroke-width="0.6"/>
<polygon points="523.4,102.4 526.2,105.2 523.4,108 520.6,105.2" fill="#ee14ee" stroke="#c010c0" stroke-width="0.6"/>
<polygon points="542.1,96.3 544.9,99.1 542.1,101.9 539.3,99.1" fill="#ee14ee" stroke="#c010c0" stroke-width="0.6"/>
<polygon points="500.8,115.1 503.6,117.9 500.8,120.7 498,117.9" fill="#ee14ee" stroke="#c010c0" stroke-width="0.6"/>
<polygon points="519.5,115.3 522.3,118.1 519.5,120.9 516.7,118.1" fill="#ee14ee" stroke="#c010c0" stroke-width="0.6"/>
<polygon points="490.3,116.2 493.5,119.4 490.3,122.6 487.1,119.4" fill="#fff" stroke="#d890e2" stroke-width="1"/>
<polygon points="522.3,139.2 525.5,142.4 522.3,145.6 519.1,142.4" fill="#fff" stroke="#d890e2" stroke-width="1"/>
<polygon points="544.3,17.1 547.1,19.9 544.3,22.7 541.5,19.9" fill="#ee0000" stroke="#b80000" stroke-width="0.6"/>
<polygon points="557.2,25.7 560,28.5 557.2,31.3 554.4,28.5" fill="#ee0000" stroke="#b80000" stroke-width="0.6"/>
<polygon points="541.4,35.4 544.6,38.6 541.4,41.8 538.2,38.6" fill="#fff" stroke="#e28e8e" stroke-width="1"/>
<polygon points="551.8,36.3 554.6,39.1 551.8,41.9 549,39.1" fill="#ee0000" stroke="#b80000" stroke-width="0.6"/>
<polygon points="551.8,41.8 554.6,44.6 551.8,47.4 549,44.6" fill="#ee0000" stroke="#b80000" stroke-width="0.6"/>
<polygon points="552.8,53.4 556,56.6 552.8,59.8 549.6,56.6" fill="#fff" stroke="#e28e8e" stroke-width="1"/>
<polygon points="562.9,50.8 566.1,54 562.9,57.2 559.7,54" fill="#fff" stroke="#e28e8e" stroke-width="1"/>
<polygon points="556.6,62.8 559.8,66 556.6,69.2 553.4,66" fill="#fff" stroke="#e28e8e" stroke-width="1"/>
<polygon points="547.1,62.3 549.9,65.1 547.1,67.9 544.3,65.1" fill="#ee0000" stroke="#b80000" stroke-width="0.6"/>
<polygon points="545.2,67.6 548,70.4 545.2,73.2 542.4,70.4" fill="#ee0000" stroke="#b80000" stroke-width="0.6"/>
<polygon points="543.9,69.9 546.7,72.7 543.9,75.5 541.1,72.7" fill="#ee0000" stroke="#b80000" stroke-width="0.6"/>
<polygon points="550.6,74.3 553.4,77.1 550.6,79.9 547.8,77.1" fill="#ee0000" stroke="#b80000" stroke-width="0.6"/>
<polygon points="564.1,74.6 566.9,77.4 564.1,80.2 561.3,77.4" fill="#ee0000" stroke="#b80000" stroke-width="0.6"/>
<polygon points="545.4,86.4 548.2,89.2 545.4,92 542.6,89.2" fill="#ee0000" stroke="#b80000" stroke-width="0.6"/>
<polygon points="568.5,90.1 571.3,92.9 568.5,95.7 565.7,92.9" fill="#ee0000" stroke="#b80000" stroke-width="0.6"/>
<polygon points="553.6,91.4 556.4,94.2 553.6,97 550.8,94.2" fill="#ee0000" stroke="#b80000" stroke-width="0.6"/>
<polygon points="552,95.8 554.8,98.6 552,101.4 549.2,98.6" fill="#ee0000" stroke="#b80000" stroke-width="0.6"/>
<polygon points="578.4,104.9 581.2,107.7 578.4,110.5 575.6,107.7" fill="#ee0000" stroke="#b80000" stroke-width="0.6"/>
<polygon points="541.3,108.7 544.1,111.5 541.3,114.3 538.5,111.5" fill="#ee0000" stroke="#b80000" stroke-width="0.6"/>
<polygon points="541.3,112.3 544.1,115.1 541.3,117.9 538.5,115.1" fill="#ee0000" stroke="#b80000" stroke-width="0.6"/>
<polygon points="552.8,111.8 555.6,114.6 552.8,117.4 550,114.6" fill="#ee0000" stroke="#b80000" stroke-width="0.6"/>
<polygon points="571.8,111.6 575,114.8 571.8,118 568.6,114.8" fill="#fff" stroke="#e28e8e" stroke-width="1"/>
<polygon points="535.5,117.4 538.3,120.2 535.5,123 532.7,120.2" fill="#ee0000" stroke="#b80000" stroke-width="0.6"/>
<polygon points="561.4,117.4 564.2,120.2 561.4,123 558.6,120.2" fill="#ee0000" stroke="#b80000" stroke-width="0.6"/>
<polygon points="566.8,119.4 569.6,122.2 566.8,125 564,122.2" fill="#ee0000" stroke="#b80000" stroke-width="0.6"/>
<polygon points="563.5,133 566.3,135.8 563.5,138.6 560.7,135.8" fill="#ee0000" stroke="#b80000" stroke-width="0.6"/>
<polygon points="565.7,135.5 568.9,138.7 565.7,141.9 562.5,138.7" fill="#fff" stroke="#e28e8e" stroke-width="1"/>
</g>
<clipPath id="c10"><rect x="43.5" y="198.5" width="182" height="191"/></clipPath>
<g clip-path="url(#c10)">
<path d="M136.3 307.3H154.7M136.3 306v2.6M154.7 306v2.6" stroke="#c4e2f7" stroke-width="0.9" fill="none"/>
<path d="M112.4 318H128.3M112.4 316.7v2.6M128.3 316.7v2.6" stroke="#c4e2f7" stroke-width="0.9" fill="none"/>
<path d="M111.6 323.5H145.9M111.6 322.2v2.6M145.9 322.2v2.6" stroke="#c4e2f7" stroke-width="0.9" fill="none"/>
<path d="M107.6 335.8H126.7M107.6 334.5v2.6M126.7 334.5v2.6" stroke="#c4e2f7" stroke-width="0.9" fill="none"/>
<path d="M97.2 350.7H117.2M97.2 349.4v2.6M117.2 349.4v2.6" stroke="#c4e2f7" stroke-width="0.9" fill="none"/>
<path d="M117.2 349.4H133.1M117.2 348.1v2.6M133.1 348.1v2.6" stroke="#c4e2f7" stroke-width="0.9" fill="none"/>
<path d="M128.3 347.8H153.1M128.3 346.5v2.6M153.1 346.5v2.6" stroke="#c4e2f7" stroke-width="0.9" fill="none"/>
<path d="M103.6 329.1H168.3M103.6 327.8v2.6M168.3 327.8v2.6M135.5 306.8V347.5M134.2 306.8h2.6M134.2 347.5h2.6" stroke="#c4e2f7" stroke-width="0.9" fill="none"/>
<path d="M183.4 204.3H193.4M183.4 203v2.6M193.4 203v2.6M188.4 199.3V209.3M187.1 199.3h2.6M187.1 209.3h2.6" stroke="#f3c4c4" stroke-width="0.9" fill="none"/>
<path d="M196.5 204.6H206.5M196.5 203.3v2.6M206.5 203.3v2.6M201.5 199.6V209.6M200.2 199.6h2.6M200.2 209.6h2.6" stroke="#f3c4c4" stroke-width="0.9" fill="none"/>
<path d="M193.5 217.7H203.5M193.5 216.4v2.6M203.5 216.4v2.6M198.5 212.7V222.7M197.2 212.7h2.6M197.2 222.7h2.6" stroke="#f3c4c4" stroke-width="0.9" fill="none"/>
<path d="M176.9 221.6H189.3M176.9 220.3v2.6M189.3 220.3v2.6M185.1 216.3V226.2M183.8 216.3h2.6M183.8 226.2h2.6" stroke="#f3c4c4" stroke-width="0.9" fill="none"/>
<path d="M185 221.9H195M185 220.6v2.6M195 220.6v2.6M190 216.9V226.9M188.7 216.9h2.6M188.7 226.9h2.6" stroke="#f3c4c4" stroke-width="0.9" fill="none"/>
<path d="M189.3 225.3H199.3M189.3 224v2.6M199.3 224v2.6M194.3 220.3V230.3M193 220.3h2.6M193 230.3h2.6" stroke="#f3c4c4" stroke-width="0.9" fill="none"/>
<path d="M190.6 229.7H218.2M190.6 228.4v2.6M218.2 228.4v2.6" stroke="#f3c4c4" stroke-width="0.9" fill="none"/>
<path d="M195.2 232.3H220.1M195.2 231v2.6M220.1 231v2.6M202.4 226.2V237.3M201.1 226.2h2.6M201.1 237.3h2.6" stroke="#f3c4c4" stroke-width="0.9" fill="none"/>
<path d="M177.5 243.9H214.2M177.5 242.6v2.6M214.2 242.6v2.6" stroke="#f3c4c4" stroke-width="0.9" fill="none"/>
<path d="M191.5 249.1H201.5M191.5 247.8v2.6M201.5 247.8v2.6M196.5 244.1V254.1M195.2 244.1h2.6M195.2 254.1h2.6" stroke="#f3c4c4" stroke-width="0.9" fill="none"/>
<path d="M201.1 248.7H222.1M201.1 247.4v2.6M222.1 247.4v2.6" stroke="#f3c4c4" stroke-width="0.9" fill="none"/>
<path d="M186.3 255.7H196.3M186.3 254.4v2.6M196.3 254.4v2.6M191.3 250.7V260.7M190 250.7h2.6M190 260.7h2.6" stroke="#f3c4c4" stroke-width="0.9" fill="none"/>
<path d="M185.4 260.6H195.4M185.4 259.3v2.6M195.4 259.3v2.6M190.4 255.6V265.6M189.1 255.6h2.6M189.1 265.6h2.6" stroke="#f3c4c4" stroke-width="0.9" fill="none"/>
<path d="M199.1 262.5H223.4M199.1 261.2v2.6M223.4 261.2v2.6" stroke="#f3c4c4" stroke-width="0.9" fill="none"/>
<path d="M203.7 269.5H226M203.7 268.2v2.6M226 268.2v2.6" stroke="#f4cdf4" stroke-width="0.9" fill="none"/>
<path d="M195.1 271.4H205.1M195.1 270.1v2.6M205.1 270.1v2.6M200.1 266.4V276.4M198.8 266.4h2.6M198.8 276.4h2.6" stroke="#f3c4c4" stroke-width="0.9" fill="none"/>
<path d="M178.7 274.6H194.1M178.7 273.3v2.6M194.1 273.3v2.6" stroke="#f3c4c4" stroke-width="0.9" fill="none"/>
<path d="M193.3 276.7H203.3M193.3 275.4v2.6M203.3 275.4v2.6M198.3 271.7V281.7M197 271.7h2.6M197 281.7h2.6" stroke="#f3c4c4" stroke-width="0.9" fill="none"/>
<path d="M212.7 273.9H222.7M212.7 272.6v2.6M222.7 272.6v2.6M217.7 268.9V278.9M216.4 268.9h2.6M216.4 278.9h2.6" stroke="#f3c4c4" stroke-width="0.9" fill="none"/>
<path d="M203 281.6H224M203 280.3v2.6M224 280.3v2.6" stroke="#f3c4c4" stroke-width="0.9" fill="none"/>
<path d="M175.5 287.6H210M175.5 286.3v2.6M210 286.3v2.6" stroke="#f4cdf4" stroke-width="0.9" fill="none"/>
<path d="M195.8 291.6H205.8M195.8 290.3v2.6M205.8 290.3v2.6M200.8 286.6V296.6M199.5 286.6h2.6M199.5 296.6h2.6" stroke="#f3c4c4" stroke-width="0.9" fill="none"/>
<path d="M191 295.4H201M191 294.1v2.6M201 294.1v2.6M196 290.4V300.4M194.7 290.4h2.6M194.7 300.4h2.6" stroke="#f3c4c4" stroke-width="0.9" fill="none"/>
<path d="M199.3 295H209.3M199.3 293.7v2.6M209.3 293.7v2.6M204.3 290V300M203 290h2.6M203 300h2.6" stroke="#f3c4c4" stroke-width="0.9" fill="none"/>
<path d="M201.8 295.9H211.8M201.8 294.6v2.6M211.8 294.6v2.6M206.8 290.9V300.9M205.5 290.9h2.6M205.5 300.9h2.6" stroke="#f3c4c4" stroke-width="0.9" fill="none"/>
<path d="M166.7 297.6H176.7M166.7 296.3v2.6M176.7 296.3v2.6M171.7 292.6V302.6M170.4 292.6h2.6M170.4 302.6h2.6" stroke="#f4cdf4" stroke-width="0.9" fill="none"/>
<path d="M169.9 297.6H179.9M169.9 296.3v2.6M179.9 296.3v2.6M174.9 292.6V302.6M173.6 292.6h2.6M173.6 302.6h2.6" stroke="#f4cdf4" stroke-width="0.9" fill="none"/>
<path d="M179.2 298.5H189.2M179.2 297.2v2.6M189.2 297.2v2.6M184.2 293.5V303.5M182.9 293.5h2.6M182.9 303.5h2.6" stroke="#f3c4c4" stroke-width="0.9" fill="none"/>
<path d="M162.9 303.6H172.9M162.9 302.3v2.6M172.9 302.3v2.6M167.9 298.6V308.6M166.6 298.6h2.6M166.6 308.6h2.6" stroke="#f4cdf4" stroke-width="0.9" fill="none"/>
<path d="M193.4 294V318M192.1 294h2.6M192.1 318h2.6" stroke="#f3c4c4" stroke-width="0.9" fill="none"/>
<path d="M201 304H224M201 302.7v2.6M224 302.7v2.6M214.2 298V309.7M212.9 298h2.6M212.9 309.7h2.6" stroke="#f3c4c4" stroke-width="0.9" fill="none"/>
<path d="M175.3 307.8H185.3M175.3 306.5v2.6M185.3 306.5v2.6M180.3 302.8V312.8M179 302.8h2.6M179 312.8h2.6" stroke="#f4cdf4" stroke-width="0.9" fill="none"/>
<path d="M177.2 308.8H187.2M177.2 307.5v2.6M187.2 307.5v2.6M182.2 303.8V313.8M180.9 303.8h2.6M180.9 313.8h2.6" stroke="#f3c4c4" stroke-width="0.9" fill="none"/>
<path d="M168.6 311.6H178.6M168.6 310.3v2.6M178.6 310.3v2.6M173.6 306.6V316.6M172.3 306.6h2.6M172.3 316.6h2.6" stroke="#f4cdf4" stroke-width="0.9" fill="none"/>
<path d="M158.3 315.4H180.7M158.3 314.1v2.6M180.7 314.1v2.6" stroke="#f4cdf4" stroke-width="0.9" fill="none"/>
<path d="M167.2 321.2H214.5M167.2 319.9v2.6M214.5 319.9v2.6M191.1 300.8V337.8M189.8 300.8h2.6M189.8 337.8h2.6" stroke="#f3c4c4" stroke-width="0.9" fill="none"/>
<path d="M161.5 330.8H201.7M161.5 329.5v2.6M201.7 329.5v2.6M181.9 322.5V339.1M180.6 322.5h2.6M180.6 339.1h2.6" stroke="#f4cdf4" stroke-width="0.9" fill="none"/>
<path d="M104 389L167.9 303.6M115.2 377.1L174.9 297.6M112 385L170.2 315.4M140.3 347.8L173.6 311.6M151 198L115.2 377.1M125.5 349.4L120 392M135.5 329.1L185.1 221.6M120.4 318L184.2 298.5M147.8 307.3L211.7 269.5M128.7 323.5L192.5 287.6M107.3 350.7L117.2 335.8M171.7 297.6L190.4 260.6M188.4 204.3L190 221.9M194.3 225.3L203.5 229.7M202.4 232.3L190.4 260.6M191.3 255.7L186.8 274.6M196.5 249.1L200.1 271.4M210 248.7L211.7 269.5M211.7 269.5L214.2 304M193.4 305.2L191.1 321.2M191.1 321.2L206.8 295.9M181.9 330.8L191.1 321.2M200.1 271.4L200.8 291.6M198.3 276.7L196 295.4M216.4 281.6L206.8 295.9M217.7 273.9L214.5 296" stroke="#b4b4b4" stroke-width="0.95" fill="none"/>
<circle cx="136.8" cy="311.1" r="1.75" fill="#9a9a9a"/>
<circle cx="116" cy="355.5" r="1.75" fill="#9a9a9a"/>
<circle cx="182.5" cy="202.6" r="1.75" fill="#9a9a9a"/>
<circle cx="185.6" cy="210.7" r="1.75" fill="#9a9a9a"/>
<circle cx="186.7" cy="235.4" r="1.75" fill="#9a9a9a"/>
<circle cx="187" cy="238.4" r="1.75" fill="#9a9a9a"/>
<circle cx="182.5" cy="239.3" r="1.75" fill="#9a9a9a"/>
<circle cx="214.5" cy="296" r="1.75" fill="#9a9a9a"/>
<circle cx="218.6" cy="294.1" r="1.75" fill="#9a9a9a"/>
<circle cx="196.6" cy="298.5" r="1.75" fill="#9a9a9a"/>
<polygon points="147.8,304.5 150.6,307.3 147.8,310.1 145,307.3" fill="#0d8ce6" stroke="#0a6fc0" stroke-width="0.6"/>
<polygon points="120.4,315.2 123.2,318 120.4,320.8 117.6,318" fill="#0d8ce6" stroke="#0a6fc0" stroke-width="0.6"/>
<polygon points="128.7,320.7 131.5,323.5 128.7,326.3 125.9,323.5" fill="#0d8ce6" stroke="#0a6fc0" stroke-width="0.6"/>
<polygon points="117.2,333 120,335.8 117.2,338.6 114.4,335.8" fill="#0d8ce6" stroke="#0a6fc0" stroke-width="0.6"/>
<polygon points="107.3,347.9 110.1,350.7 107.3,353.5 104.5,350.7" fill="#0d8ce6" stroke="#0a6fc0" stroke-width="0.6"/>
<polygon points="125.5,346.6 128.3,349.4 125.5,352.2 122.7,349.4" fill="#0d8ce6" stroke="#0a6fc0" stroke-width="0.6"/>
<polygon points="140.3,345 143.1,347.8 140.3,350.6 137.5,347.8" fill="#0d8ce6" stroke="#0a6fc0" stroke-width="0.6"/>
<polygon points="115.2,374.3 118,377.1 115.2,379.9 112.4,377.1" fill="#0d8ce6" stroke="#0a6fc0" stroke-width="0.6"/>
<polygon points="112,382.2 114.8,385 112,387.8 109.2,385" fill="#0d8ce6" stroke="#0a6fc0" stroke-width="0.6"/>
<polygon points="188.4,201.5 191.2,204.3 188.4,207.1 185.6,204.3" fill="#ee0000" stroke="#b80000" stroke-width="0.6"/>
<polygon points="201.5,201.8 204.3,204.6 201.5,207.4 198.7,204.6" fill="#ee0000" stroke="#b80000" stroke-width="0.6"/>
<polygon points="198.5,214.9 201.3,217.7 198.5,220.5 195.7,217.7" fill="#ee0000" stroke="#b80000" stroke-width="0.6"/>
<polygon points="190,218.7 193.2,221.9 190,225.1 186.8,221.9" fill="#fff" stroke="#e28e8e" stroke-width="1"/>
<polygon points="194.3,222.5 197.1,225.3 194.3,228.1 191.5,225.3" fill="#ee0000" stroke="#b80000" stroke-width="0.6"/>
<polygon points="203.5,226.5 206.7,229.7 203.5,232.9 200.3,229.7" fill="#fff" stroke="#e28e8e" stroke-width="1"/>
<polygon points="202.4,229.1 205.6,232.3 202.4,235.5 199.2,232.3" fill="#fff" stroke="#e28e8e" stroke-width="1"/>
<polygon points="197.4,241.1 200.2,243.9 197.4,246.7 194.6,243.9" fill="#ee0000" stroke="#b80000" stroke-width="0.6"/>
<polygon points="196.5,246.3 199.3,249.1 196.5,251.9 193.7,249.1" fill="#ee0000" stroke="#b80000" stroke-width="0.6"/>
<polygon points="210,245.9 212.8,248.7 210,251.5 207.2,248.7" fill="#ee0000" stroke="#b80000" stroke-width="0.6"/>
<polygon points="191.3,252.9 194.1,255.7 191.3,258.5 188.5,255.7" fill="#ee0000" stroke="#b80000" stroke-width="0.6"/>
<polygon points="190.4,257.8 193.2,260.6 190.4,263.4 187.6,260.6" fill="#ee0000" stroke="#b80000" stroke-width="0.6"/>
<polygon points="212.5,259.7 215.3,262.5 212.5,265.3 209.7,262.5" fill="#ee0000" stroke="#b80000" stroke-width="0.6"/>
<polygon points="211.7,266.7 214.5,269.5 211.7,272.3 208.9,269.5" fill="#ee14ee" stroke="#c010c0" stroke-width="0.6"/>
<polygon points="200.1,268.6 202.9,271.4 200.1,274.2 197.3,271.4" fill="#ee0000" stroke="#b80000" stroke-width="0.6"/>
<polygon points="186.8,271.8 189.6,274.6 186.8,277.4 184,274.6" fill="#ee0000" stroke="#b80000" stroke-width="0.6"/>
<polygon points="198.3,273.9 201.1,276.7 198.3,279.5 195.5,276.7" fill="#ee0000" stroke="#b80000" stroke-width="0.6"/>
<polygon points="217.7,271.1 220.5,273.9 217.7,276.7 214.9,273.9" fill="#ee0000" stroke="#b80000" stroke-width="0.6"/>
<polygon points="216.4,278.8 219.2,281.6 216.4,284.4 213.6,281.6" fill="#ee0000" stroke="#b80000" stroke-width="0.6"/>
<polygon points="192.5,284.8 195.3,287.6 192.5,290.4 189.7,287.6" fill="#ee14ee" stroke="#c010c0" stroke-width="0.6"/>
<polygon points="200.8,288.8 203.6,291.6 200.8,294.4 198,291.6" fill="#ee0000" stroke="#b80000" stroke-width="0.6"/>
<polygon points="196,292.6 198.8,295.4 196,298.2 193.2,295.4" fill="#ee0000" stroke="#b80000" stroke-width="0.6"/>
<polygon points="204.3,292.2 207.1,295 204.3,297.8 201.5,295" fill="#ee0000" stroke="#b80000" stroke-width="0.6"/>
<polygon points="206.8,293.1 209.6,295.9 206.8,298.7 204,295.9" fill="#ee0000" stroke="#b80000" stroke-width="0.6"/>
<polygon points="171.7,294.8 174.5,297.6 171.7,300.4 168.9,297.6" fill="#ee14ee" stroke="#c010c0" stroke-width="0.6"/>
<polygon points="174.9,294.8 177.7,297.6 174.9,300.4 172.1,297.6" fill="#ee14ee" stroke="#c010c0" stroke-width="0.6"/>
<polygon points="184.2,295.7 187,298.5 184.2,301.3 181.4,298.5" fill="#ee0000" stroke="#b80000" stroke-width="0.6"/>
<polygon points="167.9,300.8 170.7,303.6 167.9,306.4 165.1,303.6" fill="#ee14ee" stroke="#c010c0" stroke-width="0.6"/>
<polygon points="193.4,302 196.6,305.2 193.4,308.4 190.2,305.2" fill="#fff" stroke="#e28e8e" stroke-width="1"/>
<polygon points="214.2,301.2 217,304 214.2,306.8 211.4,304" fill="#ee0000" stroke="#b80000" stroke-width="0.6"/>
<polygon points="180.3,305 183.1,307.8 180.3,310.6 177.5,307.8" fill="#ee14ee" stroke="#c010c0" stroke-width="0.6"/>
<polygon points="182.2,306 185,308.8 182.2,311.6 179.4,308.8" fill="#ee0000" stroke="#b80000" stroke-width="0.6"/>
<polygon points="173.6,308.8 176.4,311.6 173.6,314.4 170.8,311.6" fill="#ee14ee" stroke="#c010c0" stroke-width="0.6"/>
<polygon points="170.2,312.6 173,315.4 170.2,318.2 167.4,315.4" fill="#ee14ee" stroke="#c010c0" stroke-width="0.6"/>
<polygon points="191.1,318 194.3,321.2 191.1,324.4 187.9,321.2" fill="#fff" stroke="#e28e8e" stroke-width="1"/>
<polygon points="181.9,328 184.7,330.8 181.9,333.6 179.1,330.8" fill="#ee14ee" stroke="#c010c0" stroke-width="0.6"/>
</g>
<clipPath id="c11"><rect x="230.5" y="198.5" width="182" height="191"/></clipPath>
<g clip-path="url(#c11)">
<path d="M276.9 307.3H303.3M276.9 306v2.6M303.3 306v2.6" stroke="#c4e2f7" stroke-width="0.9" fill="none"/>
<path d="M276 318H296M276 316.7v2.6M296 316.7v2.6" stroke="#c4e2f7" stroke-width="0.9" fill="none"/>
<path d="M256.9 323.5H287.5M256.9 322.2v2.6M287.5 322.2v2.6M272.7 318V333.8M271.4 318h2.6M271.4 333.8h2.6" stroke="#c4e2f7" stroke-width="0.9" fill="none"/>
<path d="M279 335.8H304.3M279 334.5v2.6M304.3 334.5v2.6" stroke="#c4e2f7" stroke-width="0.9" fill="none"/>
<path d="M282.2 350.7H309.6M282.2 349.4v2.6M309.6 349.4v2.6" stroke="#c4e2f7" stroke-width="0.9" fill="none"/>
<path d="M260 347.6H309.6M260 346.3v2.6M309.6 346.3v2.6" stroke="#c4e2f7" stroke-width="0.9" fill="none"/>
<path d="M300.1 269.3H329.7M300.1 268v2.6M329.7 268v2.6M317 262.1V276.9M315.7 262.1h2.6M315.7 276.9h2.6" stroke="#f4cdf4" stroke-width="0.9" fill="none"/>
<path d="M292.7 287.5H321.2M292.7 286.2v2.6M321.2 286.2v2.6M306.7 277.9V295.9M305.4 277.9h2.6M305.4 295.9h2.6" stroke="#f4cdf4" stroke-width="0.9" fill="none"/>
<path d="M300 297.6H310M300 296.3v2.6M310 296.3v2.6M305 292.6V302.6M303.7 292.6h2.6M303.7 302.6h2.6" stroke="#f4cdf4" stroke-width="0.9" fill="none"/>
<path d="M310.5 297.6H320.5M310.5 296.3v2.6M320.5 296.3v2.6M315.5 292.6V302.6M314.2 292.6h2.6M314.2 302.6h2.6" stroke="#f4cdf4" stroke-width="0.9" fill="none"/>
<path d="M293 303.7H303M293 302.4v2.6M303 302.4v2.6M298 298.7V308.7M296.7 298.7h2.6M296.7 308.7h2.6" stroke="#f4cdf4" stroke-width="0.9" fill="none"/>
<path d="M308.4 308.1H318.4M308.4 306.8v2.6M318.4 306.8v2.6M313.4 303.1V313.1M312.1 303.1h2.6M312.1 313.1h2.6" stroke="#f4cdf4" stroke-width="0.9" fill="none"/>
<path d="M284.2 311.7H294.2M284.2 310.4v2.6M294.2 310.4v2.6M289.2 306.7V316.7M287.9 306.7h2.6M287.9 316.7h2.6" stroke="#f4cdf4" stroke-width="0.9" fill="none"/>
<path d="M257.9 315.5H288.5M257.9 314.2v2.6M288.5 314.2v2.6" stroke="#f4cdf4" stroke-width="0.9" fill="none"/>
<path d="M290.6 330.8H341.6M290.6 329.5v2.6M341.6 329.5v2.6M316.1 322.2V339.7M314.8 322.2h2.6M314.8 339.7h2.6" stroke="#f4cdf4" stroke-width="0.9" fill="none"/>
<path d="M339.9 204.3H349.9M339.9 203v2.6M349.9 203v2.6M344.9 199.3V209.3M343.6 199.3h2.6M343.6 209.3h2.6" stroke="#f3c4c4" stroke-width="0.9" fill="none"/>
<path d="M346.8 204.6H356.8M346.8 203.3v2.6M356.8 203.3v2.6M351.8 199.6V209.6M350.5 199.6h2.6M350.5 209.6h2.6" stroke="#f3c4c4" stroke-width="0.9" fill="none"/>
<path d="M341.6 217.7H351.6M341.6 216.4v2.6M351.6 216.4v2.6M346.6 212.7V222.7M345.3 212.7h2.6M345.3 222.7h2.6" stroke="#f3c4c4" stroke-width="0.9" fill="none"/>
<path d="M329.1 220.5H345M329.1 219.2v2.6M345 219.2v2.6M337.3 216V225M336 216h2.6M336 225h2.6" stroke="#f3c4c4" stroke-width="0.9" fill="none"/>
<path d="M334 221.9H344M334 220.6v2.6M344 220.6v2.6M339 216.9V226.9M337.7 216.9h2.6M337.7 226.9h2.6" stroke="#f3c4c4" stroke-width="0.9" fill="none"/>
<path d="M345.8 225.3H355.8M345.8 224v2.6M355.8 224v2.6M350.8 220.3V230.3M349.5 220.3h2.6M349.5 230.3h2.6" stroke="#f3c4c4" stroke-width="0.9" fill="none"/>
<path d="M353.4 229.2H365.8M353.4 227.9v2.6M365.8 227.9v2.6" stroke="#f3c4c4" stroke-width="0.9" fill="none"/>
<path d="M336.3 232.3H352.7M336.3 231v2.6M352.7 231v2.6" stroke="#f3c4c4" stroke-width="0.9" fill="none"/>
<path d="M334.6 243.9H344.6M334.6 242.6v2.6M344.6 242.6v2.6M339.6 238.9V248.9M338.3 238.9h2.6M338.3 248.9h2.6" stroke="#f3c4c4" stroke-width="0.9" fill="none"/>
<path d="M334.6 249.1H344.6M334.6 247.8v2.6M344.6 247.8v2.6M339.6 244.1V254.1M338.3 244.1h2.6M338.3 254.1h2.6" stroke="#f3c4c4" stroke-width="0.9" fill="none"/>
<path d="M348.8 245.8H365.2M348.8 244.5v2.6M365.2 244.5v2.6" stroke="#f3c4c4" stroke-width="0.9" fill="none"/>
<path d="M349.4 248.9H359.4M349.4 247.6v2.6M359.4 247.6v2.6M354.4 243.9V253.9M353.1 243.9h2.6M353.1 253.9h2.6" stroke="#f3c4c4" stroke-width="0.9" fill="none"/>
<path d="M336.3 255.9H346.3M336.3 254.6v2.6M346.3 254.6v2.6M341.3 250.9V260.9M340 250.9h2.6M340 260.9h2.6" stroke="#f3c4c4" stroke-width="0.9" fill="none"/>
<path d="M348.4 260.6H358.4M348.4 259.3v2.6M358.4 259.3v2.6M353.4 255.6V265.6M352.1 255.6h2.6M352.1 265.6h2.6" stroke="#f3c4c4" stroke-width="0.9" fill="none"/>
<path d="M363.9 262.2H369.8M363.9 260.9v2.6M369.8 260.9v2.6" stroke="#f3c4c4" stroke-width="0.9" fill="none"/>
<path d="M343.1 271.4H353.1M343.1 270.1v2.6M353.1 270.1v2.6M348.1 266.4V276.4M346.8 266.4h2.6M346.8 276.4h2.6" stroke="#f3c4c4" stroke-width="0.9" fill="none"/>
<path d="M342.1 274.8H352.1M342.1 273.5v2.6M352.1 273.5v2.6M347.1 269.8V279.8M345.8 269.8h2.6M345.8 279.8h2.6" stroke="#f3c4c4" stroke-width="0.9" fill="none"/>
<path d="M341.2 277.1H351.2M341.2 275.8v2.6M351.2 275.8v2.6M346.2 272.1V282.1M344.9 272.1h2.6M344.9 282.1h2.6" stroke="#f3c4c4" stroke-width="0.9" fill="none"/>
<path d="M362.7 273.7H377.4M362.7 272.4v2.6M377.4 272.4v2.6" stroke="#f3c4c4" stroke-width="0.9" fill="none"/>
<path d="M347.4 281.6H372.3M347.4 280.3v2.6M372.3 280.3v2.6" stroke="#f3c4c4" stroke-width="0.9" fill="none"/>
<path d="M340.8 291.6H350.8M340.8 290.3v2.6M350.8 290.3v2.6M345.8 286.6V296.6M344.5 286.6h2.6M344.5 296.6h2.6" stroke="#f3c4c4" stroke-width="0.9" fill="none"/>
<path d="M326.8 295.4H336.8M326.8 294.1v2.6M336.8 294.1v2.6M331.8 290.4V300.4M330.5 290.4h2.6M330.5 300.4h2.6" stroke="#f3c4c4" stroke-width="0.9" fill="none"/>
<path d="M351.1 295H361.1M351.1 293.7v2.6M361.1 293.7v2.6M356.1 290V300M354.8 290h2.6M354.8 300h2.6" stroke="#f3c4c4" stroke-width="0.9" fill="none"/>
<path d="M357.4 295.7H367.4M357.4 294.4v2.6M367.4 294.4v2.6M362.4 290.7V300.7M361.1 290.7h2.6M361.1 300.7h2.6" stroke="#f3c4c4" stroke-width="0.9" fill="none"/>
<path d="M339.2 298.5H349.2M339.2 297.2v2.6M349.2 297.2v2.6M344.2 293.5V303.5M342.9 293.5h2.6M342.9 303.5h2.6" stroke="#f3c4c4" stroke-width="0.9" fill="none"/>
<path d="M334.6 304H361.4M334.6 302.7v2.6M361.4 302.7v2.6" stroke="#f3c4c4" stroke-width="0.9" fill="none"/>
<path d="M328.2 309.1H347.4M328.2 307.8v2.6M347.4 307.8v2.6" stroke="#f3c4c4" stroke-width="0.9" fill="none"/>
<path d="M356.3 305.2H394M356.3 303.9v2.6M394 303.9v2.6M374.4 288.6V321.8M373.1 288.6h2.6M373.1 321.8h2.6" stroke="#f3c4c4" stroke-width="0.9" fill="none"/>
<path d="M356.3 321.2H394M356.3 319.9v2.6M394 319.9v2.6M376.1 307.1V337.2M374.8 307.1h2.6M374.8 337.2h2.6" stroke="#f3c4c4" stroke-width="0.9" fill="none"/>
<path d="M247.4 377.1L316.9 198M266.4 384.8L306.7 287.5M294.3 349.4L290.6 392M291.9 335.8L294.2 350.3M284.9 318L343.9 298.5M272.7 323.5L312.4 298.6M294.4 307.3L317 269.3M276.9 315.5L281.6 347.6M281.6 347.6L282.2 356M276.9 315.5L339.6 249.1M289.2 311.7L313.4 308.1M316.1 330.8L370.1 273.7M344.9 204.3L348.3 274.6M338.8 221.9L344.2 232.3M359.7 229.2L357.3 245.8M353.4 260.6L348.3 274.6M358.9 262.2L349.3 304M358.9 262.2L359.4 281.6M374.4 305.2L376.1 321.2M313.4 308.1L356.3 295M354.4 248.9L358.9 262.2" stroke="#b4b4b4" stroke-width="0.95" fill="none"/>
<circle cx="282.2" cy="356" r="1.75" fill="#9a9a9a"/>
<circle cx="312.4" cy="298.6" r="1.75" fill="#9a9a9a"/>
<circle cx="337" cy="202.6" r="1.75" fill="#9a9a9a"/>
<circle cx="351.8" cy="210.7" r="1.75" fill="#9a9a9a"/>
<circle cx="340.3" cy="235.4" r="1.75" fill="#9a9a9a"/>
<circle cx="339.6" cy="238.9" r="1.75" fill="#9a9a9a"/>
<circle cx="342.2" cy="238.4" r="1.75" fill="#9a9a9a"/>
<circle cx="348" cy="298" r="1.75" fill="#9a9a9a"/>
<polygon points="294.4,304.5 297.2,307.3 294.4,310.1 291.6,307.3" fill="#0d8ce6" stroke="#0a6fc0" stroke-width="0.6"/>
<polygon points="284.9,315.2 287.7,318 284.9,320.8 282.1,318" fill="#0d8ce6" stroke="#0a6fc0" stroke-width="0.6"/>
<polygon points="272.7,320.7 275.5,323.5 272.7,326.3 269.9,323.5" fill="#0d8ce6" stroke="#0a6fc0" stroke-width="0.6"/>
<polygon points="291.9,333 294.7,335.8 291.9,338.6 289.1,335.8" fill="#0d8ce6" stroke="#0a6fc0" stroke-width="0.6"/>
<polygon points="293.7,347.9 296.5,350.7 293.7,353.5 290.9,350.7" fill="#0d8ce6" stroke="#0a6fc0" stroke-width="0.6"/>
<polygon points="294.3,346.6 297.1,349.4 294.3,352.2 291.5,349.4" fill="#0d8ce6" stroke="#0a6fc0" stroke-width="0.6"/>
<polygon points="281.6,344.4 284.8,347.6 281.6,350.8 278.4,347.6" fill="#fff" stroke="#7fb4de" stroke-width="1"/>
<polygon points="247.4,374.3 250.2,377.1 247.4,379.9 244.6,377.1" fill="#0d8ce6" stroke="#0a6fc0" stroke-width="0.6"/>
<polygon points="266.4,382 269.2,384.8 266.4,387.6 263.6,384.8" fill="#0d8ce6" stroke="#0a6fc0" stroke-width="0.6"/>
<polygon points="317,266.5 319.8,269.3 317,272.1 314.2,269.3" fill="#ee14ee" stroke="#c010c0" stroke-width="0.6"/>
<polygon points="306.7,284.7 309.5,287.5 306.7,290.3 303.9,287.5" fill="#ee14ee" stroke="#c010c0" stroke-width="0.6"/>
<polygon points="305,294.8 307.8,297.6 305,300.4 302.2,297.6" fill="#ee14ee" stroke="#c010c0" stroke-width="0.6"/>
<polygon points="315.5,294.8 318.3,297.6 315.5,300.4 312.7,297.6" fill="#ee14ee" stroke="#c010c0" stroke-width="0.6"/>
<polygon points="298,300.9 300.8,303.7 298,306.5 295.2,303.7" fill="#ee14ee" stroke="#c010c0" stroke-width="0.6"/>
<polygon points="313.4,305.3 316.2,308.1 313.4,310.9 310.6,308.1" fill="#ee14ee" stroke="#c010c0" stroke-width="0.6"/>
<polygon points="289.2,308.9 292,311.7 289.2,314.5 286.4,311.7" fill="#ee14ee" stroke="#c010c0" stroke-width="0.6"/>
<polygon points="276.9,312.3 280.1,315.5 276.9,318.7 273.7,315.5" fill="#fff" stroke="#d890e2" stroke-width="1"/>
<polygon points="316.1,327.6 319.3,330.8 316.1,334 312.9,330.8" fill="#fff" stroke="#d890e2" stroke-width="1"/>
<polygon points="344.9,201.5 347.7,204.3 344.9,207.1 342.1,204.3" fill="#ee0000" stroke="#b80000" stroke-width="0.6"/>
<polygon points="351.8,201.8 354.6,204.6 351.8,207.4 349,204.6" fill="#ee0000" stroke="#b80000" stroke-width="0.6"/>
<polygon points="346.6,214.9 349.4,217.7 346.6,220.5 343.8,217.7" fill="#ee0000" stroke="#b80000" stroke-width="0.6"/>
<polygon points="339,218.7 342.2,221.9 339,225.1 335.8,221.9" fill="#fff" stroke="#e28e8e" stroke-width="1"/>
<polygon points="350.8,222.5 353.6,225.3 350.8,228.1 348,225.3" fill="#ee0000" stroke="#b80000" stroke-width="0.6"/>
<polygon points="359.7,226 362.9,229.2 359.7,232.4 356.5,229.2" fill="#fff" stroke="#e28e8e" stroke-width="1"/>
<polygon points="344.2,229.1 347.4,232.3 344.2,235.5 341,232.3" fill="#fff" stroke="#e28e8e" stroke-width="1"/>
<polygon points="339.6,241.1 342.4,243.9 339.6,246.7 336.8,243.9" fill="#ee0000" stroke="#b80000" stroke-width="0.6"/>
<polygon points="339.6,246.3 342.4,249.1 339.6,251.9 336.8,249.1" fill="#ee0000" stroke="#b80000" stroke-width="0.6"/>
<polygon points="357.3,242.6 360.5,245.8 357.3,249 354.1,245.8" fill="#fff" stroke="#e28e8e" stroke-width="1"/>
<polygon points="354.4,246.1 357.2,248.9 354.4,251.7 351.6,248.9" fill="#ee0000" stroke="#b80000" stroke-width="0.6"/>
<polygon points="341.3,253.1 344.1,255.9 341.3,258.7 338.5,255.9" fill="#ee0000" stroke="#b80000" stroke-width="0.6"/>
<polygon points="353.4,257.8 356.2,260.6 353.4,263.4 350.6,260.6" fill="#ee0000" stroke="#b80000" stroke-width="0.6"/>
<polygon points="358.9,259.4 361.7,262.2 358.9,265 356.1,262.2" fill="#ee0000" stroke="#b80000" stroke-width="0.6"/>
<polygon points="348.1,268.6 350.9,271.4 348.1,274.2 345.3,271.4" fill="#ee0000" stroke="#b80000" stroke-width="0.6"/>
<polygon points="347.1,272 349.9,274.8 347.1,277.6 344.3,274.8" fill="#ee0000" stroke="#b80000" stroke-width="0.6"/>
<polygon points="346.2,274.3 349,277.1 346.2,279.9 343.4,277.1" fill="#ee0000" stroke="#b80000" stroke-width="0.6"/>
<polygon points="370.1,270.9 372.9,273.7 370.1,276.5 367.3,273.7" fill="#ee0000" stroke="#b80000" stroke-width="0.6"/>
<polygon points="359.5,278.4 362.7,281.6 359.5,284.8 356.3,281.6" fill="#fff" stroke="#e28e8e" stroke-width="1"/>
<polygon points="345.8,288.8 348.6,291.6 345.8,294.4 343,291.6" fill="#ee0000" stroke="#b80000" stroke-width="0.6"/>
<polygon points="331.8,292.6 334.6,295.4 331.8,298.2 329,295.4" fill="#ee0000" stroke="#b80000" stroke-width="0.6"/>
<polygon points="356.1,292.2 358.9,295 356.1,297.8 353.3,295" fill="#ee0000" stroke="#b80000" stroke-width="0.6"/>
<polygon points="362.4,292.9 365.2,295.7 362.4,298.5 359.6,295.7" fill="#ee0000" stroke="#b80000" stroke-width="0.6"/>
<polygon points="344.2,295.7 347,298.5 344.2,301.3 341.4,298.5" fill="#ee0000" stroke="#b80000" stroke-width="0.6"/>
<polygon points="349.3,301.2 352.1,304 349.3,306.8 346.5,304" fill="#ee0000" stroke="#b80000" stroke-width="0.6"/>
<polygon points="337.8,306.3 340.6,309.1 337.8,311.9 335,309.1" fill="#ee0000" stroke="#b80000" stroke-width="0.6"/>
<polygon points="374.4,302 377.6,305.2 374.4,308.4 371.2,305.2" fill="#fff" stroke="#e28e8e" stroke-width="1"/>
<polygon points="376.1,318 379.3,321.2 376.1,324.4 372.9,321.2" fill="#fff" stroke="#e28e8e" stroke-width="1"/>
</g>
<clipPath id="c12"><rect x="417.5" y="198.5" width="182" height="191"/></clipPath>
<g clip-path="url(#c12)">
<path d="M456.7 318H468.9M456.7 316.7v2.6M468.9 316.7v2.6M463.2 314V322M461.9 314h2.6M461.9 322h2.6" stroke="#c4e2f7" stroke-width="0.9" fill="none"/>
<path d="M476 307.3H497.5M476 306v2.6M497.5 306v2.6" stroke="#c4e2f7" stroke-width="0.9" fill="none"/>
<path d="M453.7 323.5H468.9M453.7 322.2v2.6M468.9 322.2v2.6" stroke="#c4e2f7" stroke-width="0.9" fill="none"/>
<path d="M458.5 335.8H470.7M458.5 334.5v2.6M470.7 334.5v2.6" stroke="#c4e2f7" stroke-width="0.9" fill="none"/>
<path d="M452.8 350.7H467.1M452.8 349.4v2.6M467.1 349.4v2.6" stroke="#c4e2f7" stroke-width="0.9" fill="none"/>
<path d="M451 329.1H499.3M451 327.8v2.6M499.3 327.8v2.6M475.1 318V348M473.8 318h2.6M473.8 348h2.6" stroke="#c4e2f7" stroke-width="0.9" fill="none"/>
<path d="M463.5 349.4H479.6M463.5 348.1v2.6M479.6 348.1v2.6" stroke="#c4e2f7" stroke-width="0.9" fill="none"/>
<path d="M461.4 347.8H486.4M461.4 346.5v2.6M486.4 346.5v2.6" stroke="#c4e2f7" stroke-width="0.9" fill="none"/>
<path d="M497 303.6H507M497 302.3v2.6M507 302.3v2.6M502 298.6V308.6M500.7 298.6h2.6M500.7 308.6h2.6" stroke="#f4cdf4" stroke-width="0.9" fill="none"/>
<path d="M505.2 297.6H515.2M505.2 296.3v2.6M515.2 296.3v2.6M510.2 292.6V302.6M508.9 292.6h2.6M508.9 302.6h2.6" stroke="#f4cdf4" stroke-width="0.9" fill="none"/>
<path d="M510.3 297.6H520.3M510.3 296.3v2.6M520.3 296.3v2.6M515.3 292.6V302.6M514 292.6h2.6M514 302.6h2.6" stroke="#f4cdf4" stroke-width="0.9" fill="none"/>
<path d="M515 287.6H531M515 286.3v2.6M531 286.3v2.6M523.4 280V296M522.1 280h2.6M522.1 296h2.6" stroke="#f4cdf4" stroke-width="0.9" fill="none"/>
<path d="M531.4 269.5H549.5M531.4 268.2v2.6M549.5 268.2v2.6" stroke="#f4cdf4" stroke-width="0.9" fill="none"/>
<path d="M495.8 311.6H505.8M495.8 310.3v2.6M505.8 310.3v2.6M500.8 306.6V316.6M499.5 306.6h2.6M499.5 316.6h2.6" stroke="#f4cdf4" stroke-width="0.9" fill="none"/>
<path d="M514.5 307.8H524.5M514.5 306.5v2.6M524.5 306.5v2.6M519.5 302.8V312.8M518.2 302.8h2.6M518.2 312.8h2.6" stroke="#f4cdf4" stroke-width="0.9" fill="none"/>
<path d="M479.6 315.4H499.3M479.6 314.1v2.6M499.3 314.1v2.6" stroke="#f4cdf4" stroke-width="0.9" fill="none"/>
<path d="M506.6 330.8H538.8M506.6 329.5v2.6M538.8 329.5v2.6M522.3 322V340M521 322h2.6M521 340h2.6" stroke="#f4cdf4" stroke-width="0.9" fill="none"/>
<path d="M539.3 204.3H549.3M539.3 203v2.6M549.3 203v2.6M544.3 199.3V209.3M543 199.3h2.6M543 209.3h2.6" stroke="#f3c4c4" stroke-width="0.9" fill="none"/>
<path d="M552.2 204.6H562.2M552.2 203.3v2.6M562.2 203.3v2.6M557.2 199.6V209.6M555.9 199.6h2.6M555.9 209.6h2.6" stroke="#f3c4c4" stroke-width="0.9" fill="none"/>
<path d="M532.6 221.6H542M532.6 220.3v2.6M542 220.3v2.6M537 217V226M535.7 217h2.6M535.7 226h2.6" stroke="#f3c4c4" stroke-width="0.9" fill="none"/>
<path d="M537 221.9H545.8M537 220.6v2.6M545.8 220.6v2.6" stroke="#f3c4c4" stroke-width="0.9" fill="none"/>
<path d="M546.8 217.7H556.8M546.8 216.4v2.6M556.8 216.4v2.6M551.8 212.7V222.7M550.5 212.7h2.6M550.5 222.7h2.6" stroke="#f3c4c4" stroke-width="0.9" fill="none"/>
<path d="M546.8 225.3H556.8M546.8 224v2.6M556.8 224v2.6M551.8 220.3V230.3M550.5 220.3h2.6M550.5 230.3h2.6" stroke="#f3c4c4" stroke-width="0.9" fill="none"/>
<path d="M557.2 229.7H571.7M557.2 228.4v2.6M571.7 228.4v2.6M562.9 222V237M561.6 222h2.6M561.6 237h2.6" stroke="#f3c4c4" stroke-width="0.9" fill="none"/>
<path d="M542.7 232.3H560.4M542.7 231v2.6M560.4 231v2.6" stroke="#f3c4c4" stroke-width="0.9" fill="none"/>
<path d="M550.9 245.8H567.3M550.9 244.5v2.6M567.3 244.5v2.6" stroke="#f3c4c4" stroke-width="0.9" fill="none"/>
<path d="M542.1 243.9H552.1M542.1 242.6v2.6M552.1 242.6v2.6M547.1 238.9V248.9M545.8 238.9h2.6M545.8 248.9h2.6" stroke="#f3c4c4" stroke-width="0.9" fill="none"/>
<path d="M540.2 249.1H550.2M540.2 247.8v2.6M550.2 247.8v2.6M545.2 244.1V254.1M543.9 244.1h2.6M543.9 254.1h2.6" stroke="#f3c4c4" stroke-width="0.9" fill="none"/>
<path d="M538.9 255.7H548.9M538.9 254.4v2.6M548.9 254.4v2.6M543.9 250.7V260.7M542.6 250.7h2.6M542.6 260.7h2.6" stroke="#f3c4c4" stroke-width="0.9" fill="none"/>
<path d="M545.6 260.6H555.6M545.6 259.3v2.6M555.6 259.3v2.6M550.6 255.6V265.6M549.3 255.6h2.6M549.3 265.6h2.6" stroke="#f3c4c4" stroke-width="0.9" fill="none"/>
<path d="M558.5 248.7H568.6M558.5 247.4v2.6M568.6 247.4v2.6" stroke="#f3c4c4" stroke-width="0.9" fill="none"/>
<path d="M540.4 274.6H550.4M540.4 273.3v2.6M550.4 273.3v2.6M545.4 269.6V279.6M544.1 269.6h2.6M544.1 279.6h2.6" stroke="#f3c4c4" stroke-width="0.9" fill="none"/>
<path d="M561 262.5H575.9M561 261.2v2.6M575.9 261.2v2.6" stroke="#f3c4c4" stroke-width="0.9" fill="none"/>
<path d="M548.6 271.4H558.6M548.6 270.1v2.6M558.6 270.1v2.6M553.6 266.4V276.4M552.3 266.4h2.6M552.3 276.4h2.6" stroke="#f3c4c4" stroke-width="0.9" fill="none"/>
<path d="M547 276.7H557M547 275.4v2.6M557 275.4v2.6M552 271.7V281.7M550.7 271.7h2.6M550.7 281.7h2.6" stroke="#f3c4c4" stroke-width="0.9" fill="none"/>
<path d="M573.7 273.7H583.7M573.7 272.4v2.6M583.7 272.4v2.6M578.7 268.7V278.7M577.4 268.7h2.6M577.4 278.7h2.6" stroke="#f3c4c4" stroke-width="0.9" fill="none"/>
<path d="M536.3 298.5H546.3M536.3 297.2v2.6M546.3 297.2v2.6M541.3 293.5V303.5M540 293.5h2.6M540 303.5h2.6" stroke="#f3c4c4" stroke-width="0.9" fill="none"/>
<path d="M547.8 291.6H557.8M547.8 290.3v2.6M557.8 290.3v2.6M552.8 286.6V296.6M551.5 286.6h2.6M551.5 296.6h2.6" stroke="#f3c4c4" stroke-width="0.9" fill="none"/>
<path d="M563.4 281.6H580M563.4 280.3v2.6M580 280.3v2.6" stroke="#f3c4c4" stroke-width="0.9" fill="none"/>
<path d="M536.3 295.4H546.3M536.3 294.1v2.6M546.3 294.1v2.6M541.3 290.4V300.4M540 290.4h2.6M540 300.4h2.6" stroke="#f3c4c4" stroke-width="0.9" fill="none"/>
<path d="M530.9 308.9H540.9M530.9 307.6v2.6M540.9 307.6v2.6M535.9 303.9V313.9M534.6 303.9h2.6M534.6 313.9h2.6" stroke="#f3c4c4" stroke-width="0.9" fill="none"/>
<path d="M556.4 295.3H566.4M556.4 294v2.6M566.4 294v2.6M561.4 290.3V300.3M560.1 290.3h2.6M560.1 300.3h2.6" stroke="#f3c4c4" stroke-width="0.9" fill="none"/>
<path d="M562 295.7H572M562 294.4v2.6M572 294.4v2.6M567 290.7V300.7M565.7 290.7h2.6M565.7 300.7h2.6" stroke="#f3c4c4" stroke-width="0.9" fill="none"/>
<path d="M560.9 304.9H570.9M560.9 303.6v2.6M570.9 303.6v2.6M565.9 299.9V309.9M564.6 299.9h2.6M564.6 309.9h2.6" stroke="#f3c4c4" stroke-width="0.9" fill="none"/>
<path d="M553.8 304H577.4M553.8 302.7v2.6M577.4 302.7v2.6" stroke="#f3c4c4" stroke-width="0.9" fill="none"/>
<path d="M552.5 321.3H578.7M552.5 320v2.6M578.7 320v2.6M565.3 303.4V337.2M564 303.4h2.6M564 337.2h2.6" stroke="#f3c4c4" stroke-width="0.9" fill="none"/>
<path d="M437 377.1L502.4 198M446.5 385L545.2 249.1M475.1 329.1L537 221.6M472.5 349.4L467 392M463.2 318L541.3 298.5M460.8 323.5L502 303.6M486.8 307.3L542.1 269.5M459.9 350.7L465.3 335.8M500.8 311.6L541.3 295.4M519.5 307.8L552 276.7M522.3 330.8L578.7 273.7M523.4 287.6L541.3 298.5M544.3 204.3L547.1 243.9M541.4 221.9L552.8 232.3M562.9 229.7L556.6 245.8M550.6 260.6L553.6 271.4M545.4 274.6L550.6 260.6M564.1 248.7L563.5 304M568.5 262.5L566.8 295.9M578.7 273.7L566.8 295.9M563.5 304L565.3 321.3" stroke="#b4b4b4" stroke-width="0.95" fill="none"/>
<circle cx="458.7" cy="355.5" r="1.75" fill="#9a9a9a"/>
<circle cx="535.7" cy="202.6" r="1.75" fill="#9a9a9a"/>
<circle cx="547.1" cy="210.7" r="1.75" fill="#9a9a9a"/>
<circle cx="540.4" cy="235.4" r="1.75" fill="#9a9a9a"/>
<circle cx="537" cy="239.3" r="1.75" fill="#9a9a9a"/>
<circle cx="541.4" cy="238.4" r="1.75" fill="#9a9a9a"/>
<circle cx="550.6" cy="297.6" r="1.75" fill="#9a9a9a"/>
<circle cx="560.2" cy="296" r="1.75" fill="#9a9a9a"/>
<circle cx="571.3" cy="294.4" r="1.75" fill="#9a9a9a"/>
<polygon points="463.2,315.2 466,318 463.2,320.8 460.4,318" fill="#0d8ce6" stroke="#0a6fc0" stroke-width="0.6"/>
<polygon points="486.8,304.5 489.6,307.3 486.8,310.1 484,307.3" fill="#0d8ce6" stroke="#0a6fc0" stroke-width="0.6"/>
<polygon points="460.8,320.7 463.6,323.5 460.8,326.3 458,323.5" fill="#0d8ce6" stroke="#0a6fc0" stroke-width="0.6"/>
<polygon points="465.3,333 468.1,335.8 465.3,338.6 462.5,335.8" fill="#0d8ce6" stroke="#0a6fc0" stroke-width="0.6"/>
<polygon points="459.9,347.9 462.7,350.7 459.9,353.5 457.1,350.7" fill="#0d8ce6" stroke="#0a6fc0" stroke-width="0.6"/>
<polygon points="472.5,346.6 475.3,349.4 472.5,352.2 469.7,349.4" fill="#0d8ce6" stroke="#0a6fc0" stroke-width="0.6"/>
<polygon points="473.9,344.6 477.1,347.8 473.9,351 470.7,347.8" fill="#fff" stroke="#7fb4de" stroke-width="1"/>
<polygon points="437,374.3 439.8,377.1 437,379.9 434.2,377.1" fill="#0d8ce6" stroke="#0a6fc0" stroke-width="0.6"/>
<polygon points="446.5,382.2 449.3,385 446.5,387.8 443.7,385" fill="#0d8ce6" stroke="#0a6fc0" stroke-width="0.6"/>
<polygon points="502,300.8 504.8,303.6 502,306.4 499.2,303.6" fill="#ee14ee" stroke="#c010c0" stroke-width="0.6"/>
<polygon points="510.2,294.8 513,297.6 510.2,300.4 507.4,297.6" fill="#ee14ee" stroke="#c010c0" stroke-width="0.6"/>
<polygon points="515.3,294.8 518.1,297.6 515.3,300.4 512.5,297.6" fill="#ee14ee" stroke="#c010c0" stroke-width="0.6"/>
<polygon points="523.4,284.8 526.2,287.6 523.4,290.4 520.6,287.6" fill="#ee14ee" stroke="#c010c0" stroke-width="0.6"/>
<polygon points="542.1,266.7 544.9,269.5 542.1,272.3 539.3,269.5" fill="#ee14ee" stroke="#c010c0" stroke-width="0.6"/>
<polygon points="500.8,308.8 503.6,311.6 500.8,314.4 498,311.6" fill="#ee14ee" stroke="#c010c0" stroke-width="0.6"/>
<polygon points="519.5,305 522.3,307.8 519.5,310.6 516.7,307.8" fill="#ee14ee" stroke="#c010c0" stroke-width="0.6"/>
<polygon points="490.3,312.2 493.5,315.4 490.3,318.6 487.1,315.4" fill="#fff" stroke="#d890e2" stroke-width="1"/>
<polygon points="522.3,327.6 525.5,330.8 522.3,334 519.1,330.8" fill="#fff" stroke="#d890e2" stroke-width="1"/>
<polygon points="544.3,201.5 547.1,204.3 544.3,207.1 541.5,204.3" fill="#ee0000" stroke="#b80000" stroke-width="0.6"/>
<polygon points="557.2,201.8 560,204.6 557.2,207.4 554.4,204.6" fill="#ee0000" stroke="#b80000" stroke-width="0.6"/>
<polygon points="541.4,218.7 544.6,221.9 541.4,225.1 538.2,221.9" fill="#fff" stroke="#e28e8e" stroke-width="1"/>
<polygon points="551.8,214.9 554.6,217.7 551.8,220.5 549,217.7" fill="#ee0000" stroke="#b80000" stroke-width="0.6"/>
<polygon points="551.8,222.5 554.6,225.3 551.8,228.1 549,225.3" fill="#ee0000" stroke="#b80000" stroke-width="0.6"/>
<polygon points="562.9,226.5 566.1,229.7 562.9,232.9 559.7,229.7" fill="#fff" stroke="#e28e8e" stroke-width="1"/>
<polygon points="552.8,229.1 556,232.3 552.8,235.5 549.6,232.3" fill="#fff" stroke="#e28e8e" stroke-width="1"/>
<polygon points="556.6,242.6 559.8,245.8 556.6,249 553.4,245.8" fill="#fff" stroke="#e28e8e" stroke-width="1"/>
<polygon points="547.1,241.1 549.9,243.9 547.1,246.7 544.3,243.9" fill="#ee0000" stroke="#b80000" stroke-width="0.6"/>
<polygon points="545.2,246.3 548,249.1 545.2,251.9 542.4,249.1" fill="#ee0000" stroke="#b80000" stroke-width="0.6"/>
<polygon points="543.9,252.9 546.7,255.7 543.9,258.5 541.1,255.7" fill="#ee0000" stroke="#b80000" stroke-width="0.6"/>
<polygon points="550.6,257.8 553.4,260.6 550.6,263.4 547.8,260.6" fill="#ee0000" stroke="#b80000" stroke-width="0.6"/>
<polygon points="564.1,245.9 566.9,248.7 564.1,251.5 561.3,248.7" fill="#ee0000" stroke="#b80000" stroke-width="0.6"/>
<polygon points="545.4,271.8 548.2,274.6 545.4,277.4 542.6,274.6" fill="#ee0000" stroke="#b80000" stroke-width="0.6"/>
<polygon points="568.5,259.7 571.3,262.5 568.5,265.3 565.7,262.5" fill="#ee0000" stroke="#b80000" stroke-width="0.6"/>
<polygon points="553.6,268.6 556.4,271.4 553.6,274.2 550.8,271.4" fill="#ee0000" stroke="#b80000" stroke-width="0.6"/>
<polygon points="552,273.9 554.8,276.7 552,279.5 549.2,276.7" fill="#ee0000" stroke="#b80000" stroke-width="0.6"/>
<polygon points="578.7,270.9 581.5,273.7 578.7,276.5 575.9,273.7" fill="#ee0000" stroke="#b80000" stroke-width="0.6"/>
<polygon points="541.3,295.7 544.1,298.5 541.3,301.3 538.5,298.5" fill="#ee0000" stroke="#b80000" stroke-width="0.6"/>
<polygon points="552.8,288.8 555.6,291.6 552.8,294.4 550,291.6" fill="#ee0000" stroke="#b80000" stroke-width="0.6"/>
<polygon points="571.7,278.4 574.9,281.6 571.7,284.8 568.5,281.6" fill="#fff" stroke="#e28e8e" stroke-width="1"/>
<polygon points="541.3,292.6 544.1,295.4 541.3,298.2 538.5,295.4" fill="#ee0000" stroke="#b80000" stroke-width="0.6"/>
<polygon points="535.9,306.1 538.7,308.9 535.9,311.7 533.1,308.9" fill="#ee0000" stroke="#b80000" stroke-width="0.6"/>
<polygon points="561.4,292.5 564.2,295.3 561.4,298.1 558.6,295.3" fill="#ee0000" stroke="#b80000" stroke-width="0.6"/>
<polygon points="567,292.9 569.8,295.7 567,298.5 564.2,295.7" fill="#ee0000" stroke="#b80000" stroke-width="0.6"/>
<polygon points="565.9,301.7 569.1,304.9 565.9,308.1 562.7,304.9" fill="#fff" stroke="#e28e8e" stroke-width="1"/>
<polygon points="563.6,301.2 566.4,304 563.6,306.8 560.8,304" fill="#ee0000" stroke="#b80000" stroke-width="0.6"/>
<polygon points="565.3,318.1 568.5,321.3 565.3,324.5 562.1,321.3" fill="#fff" stroke="#e28e8e" stroke-width="1"/>
</g>
<clipPath id="c20"><rect x="43.5" y="395.8" width="182" height="191.2"/></clipPath>
<g clip-path="url(#c20)">
<path d="M135.5 509.1H159M135.5 507.8v2.6M159 507.8v2.6M147.7 499.6V517.8M146.4 499.6h2.6M146.4 517.8h2.6" stroke="#c4e2f7" stroke-width="0.9" fill="none"/>
<path d="M112 523.8H127.2M112 522.5v2.6M127.2 522.5v2.6" stroke="#c4e2f7" stroke-width="0.9" fill="none"/>
<path d="M106.7 536.3H127.2M106.7 535v2.6M127.2 535v2.6" stroke="#c4e2f7" stroke-width="0.9" fill="none"/>
<path d="M124.1 535.7H146.1M124.1 534.4v2.6M146.1 534.4v2.6" stroke="#c4e2f7" stroke-width="0.9" fill="none"/>
<path d="M96.8 549.3H117.3M96.8 548v2.6M117.3 548v2.6" stroke="#c4e2f7" stroke-width="0.9" fill="none"/>
<path d="M117.3 547.8H134M117.3 546.5v2.6M134 546.5v2.6" stroke="#c4e2f7" stroke-width="0.9" fill="none"/>
<path d="M127.9 553.4H153M127.9 552.1v2.6M153 552.1v2.6M140.4 543.6V564M139.1 543.6h2.6M139.1 564h2.6" stroke="#c4e2f7" stroke-width="0.9" fill="none"/>
<path d="M92 584.5H111M92 583.2v2.6M111 583.2v2.6M101.4 575.4V590M100.1 575.4h2.6M100.1 590h2.6" stroke="#c4e2f7" stroke-width="0.9" fill="none"/>
<path d="M103.7 532.6H167.4M103.7 531.3v2.6M167.4 531.3v2.6M135.2 513.2V551.9M133.9 513.2h2.6M133.9 551.9h2.6" stroke="#c4e2f7" stroke-width="0.9" fill="none"/>
<path d="M160.2 488.3H185M160.2 487v2.6M185 487v2.6" stroke="#f4cdf4" stroke-width="0.9" fill="none"/>
<path d="M169.3 494H179.3M169.3 492.7v2.6M179.3 492.7v2.6M174.3 489V499M173 489h2.6M173 499h2.6" stroke="#f4cdf4" stroke-width="0.9" fill="none"/>
<path d="M185 483.8H209.4M185 482.5v2.6M209.4 482.5v2.6" stroke="#f4cdf4" stroke-width="0.9" fill="none"/>
<path d="M175.4 499.2H185.4M175.4 497.9v2.6M185.4 497.9v2.6M180.4 494.2V504.2M179.1 494.2h2.6M179.1 504.2h2.6" stroke="#f4cdf4" stroke-width="0.9" fill="none"/>
<path d="M159.6 503.3H175.5M159.6 502v2.6M175.5 502v2.6" stroke="#f4cdf4" stroke-width="0.9" fill="none"/>
<path d="M161.5 515.8H176.8M161.5 514.5v2.6M176.8 514.5v2.6M173.6 507.5V523.4M172.3 507.5h2.6M172.3 523.4h2.6" stroke="#f4cdf4" stroke-width="0.9" fill="none"/>
<path d="M162.1 518.6H201.7M162.1 517.3v2.6M201.7 517.3v2.6M181.9 506.8V529.8M180.6 506.8h2.6M180.6 529.8h2.6" stroke="#f4cdf4" stroke-width="0.9" fill="none"/>
<path d="M159.6 525.6H181.3M159.6 524.3v2.6M181.3 524.3v2.6M170 518.3V535.6M168.7 518.3h2.6M168.7 535.6h2.6" stroke="#f4cdf4" stroke-width="0.9" fill="none"/>
<path d="M176.8 486.3H186.8M176.8 485v2.6M186.8 485v2.6M181.8 481.3V491.3M180.5 481.3h2.6M180.5 491.3h2.6" stroke="#f3c4c4" stroke-width="0.9" fill="none"/>
<path d="M193.4 396.9H203.4M193.4 395.6v2.6M203.4 395.6v2.6M198.4 391.9V401.9M197.1 391.9h2.6M197.1 401.9h2.6" stroke="#f3c4c4" stroke-width="0.9" fill="none"/>
<path d="M189.3 402H199.3M189.3 400.7v2.6M199.3 400.7v2.6M194.3 397V407M193 397h2.6M193 407h2.6" stroke="#f3c4c4" stroke-width="0.9" fill="none"/>
<path d="M193.2 400.8H218.2M193.2 399.5v2.6M218.2 399.5v2.6" stroke="#f3c4c4" stroke-width="0.9" fill="none"/>
<path d="M176.6 405.5H191M176.6 404.2v2.6M191 404.2v2.6M185 401V410M183.7 401h2.6M183.7 410h2.6" stroke="#f3c4c4" stroke-width="0.9" fill="none"/>
<path d="M176.6 405.9H190.7M176.6 404.6v2.6M190.7 404.6v2.6" stroke="#f3c4c4" stroke-width="0.9" fill="none"/>
<path d="M185 412.5H220.1M185 411.2v2.6M220.1 411.2v2.6" stroke="#f3c4c4" stroke-width="0.9" fill="none"/>
<path d="M177.9 417.4H214.3M177.9 416.1v2.6M214.3 416.1v2.6" stroke="#f3c4c4" stroke-width="0.9" fill="none"/>
<path d="M202.8 421.6H218.2M202.8 420.3v2.6M218.2 420.3v2.6" stroke="#f3c4c4" stroke-width="0.9" fill="none"/>
<path d="M192.5 425.4H202.5M192.5 424.1v2.6M202.5 424.1v2.6M197.5 420.4V430.4M196.2 420.4h2.6M196.2 430.4h2.6" stroke="#f3c4c4" stroke-width="0.9" fill="none"/>
<path d="M191.7 430.2H201.7M191.7 428.9v2.6M201.7 428.9v2.6M196.7 425.2V435.2M195.4 425.2h2.6M195.4 435.2h2.6" stroke="#f3c4c4" stroke-width="0.9" fill="none"/>
<path d="M207.4 431.8H217.4M207.4 430.5v2.6M217.4 430.5v2.6M212.4 426.8V436.8M211.1 426.8h2.6M211.1 436.8h2.6" stroke="#f3c4c4" stroke-width="0.9" fill="none"/>
<path d="M182.4 433.1H198.4M182.4 431.8v2.6M198.4 431.8v2.6" stroke="#f3c4c4" stroke-width="0.9" fill="none"/>
<path d="M185.7 435.7H195.7M185.7 434.4v2.6M195.7 434.4v2.6M190.7 430.7V440.7M189.4 430.7h2.6M189.4 440.7h2.6" stroke="#f3c4c4" stroke-width="0.9" fill="none"/>
<path d="M212.5 436.6H222.5M212.5 435.3v2.6M222.5 435.3v2.6M217.5 431.6V441.6M216.2 431.6h2.6M216.2 441.6h2.6" stroke="#f3c4c4" stroke-width="0.9" fill="none"/>
<path d="M195.2 446.1H205.2M195.2 444.8v2.6M205.2 444.8v2.6M200.2 441.1V451.1M198.9 441.1h2.6M198.9 451.1h2.6" stroke="#f3c4c4" stroke-width="0.9" fill="none"/>
<path d="M182 449.2H192M182 447.9v2.6M192 447.9v2.6M187 444.2V454.2M185.7 444.2h2.6M185.7 454.2h2.6" stroke="#f3c4c4" stroke-width="0.9" fill="none"/>
<path d="M193.5 452.2H203.5M193.5 450.9v2.6M203.5 450.9v2.6M198.5 447.2V457.2M197.2 447.2h2.6M197.2 457.2h2.6" stroke="#f3c4c4" stroke-width="0.9" fill="none"/>
<path d="M202.2 449.6H223.9M202.2 448.3v2.6M223.9 448.3v2.6" stroke="#f3c4c4" stroke-width="0.9" fill="none"/>
<path d="M200.7 461.5H210.7M200.7 460.2v2.6M210.7 460.2v2.6M205.7 456.5V466.5M204.4 456.5h2.6M204.4 466.5h2.6" stroke="#f3c4c4" stroke-width="0.9" fill="none"/>
<path d="M198.5 463.7H208.5M198.5 462.4v2.6M208.5 462.4v2.6M203.5 458.7V468.7M202.2 458.7h2.6M202.2 468.7h2.6" stroke="#f3c4c4" stroke-width="0.9" fill="none"/>
<path d="M196.3 465.9H206.3M196.3 464.6v2.6M206.3 464.6v2.6M201.3 460.9V470.9M200 460.9h2.6M200 470.9h2.6" stroke="#f3c4c4" stroke-width="0.9" fill="none"/>
<path d="M206.7 461.3H216.7M206.7 460v2.6M216.7 460v2.6M211.7 456.3V466.3M210.4 456.3h2.6M210.4 466.3h2.6" stroke="#f4cdf4" stroke-width="0.9" fill="none"/>
<path d="M171 462.6H199.6M171 461.3v2.6M199.6 461.3v2.6" stroke="#f3c4c4" stroke-width="0.9" fill="none"/>
<path d="M179.4 473.4H189.4M179.4 472.1v2.6M189.4 472.1v2.6M184.4 468.4V478.4M183.1 468.4h2.6M183.1 478.4h2.6" stroke="#f3c4c4" stroke-width="0.9" fill="none"/>
<path d="M167.2 476.9H211.7M167.2 475.6v2.6M211.7 475.6v2.6" stroke="#f3c4c4" stroke-width="0.9" fill="none"/>
<path d="M190.8 477.1H200.8M190.8 475.8v2.6M200.8 475.8v2.6M195.8 472.1V482.1M194.5 472.1h2.6M194.5 482.1h2.6" stroke="#f3c4c4" stroke-width="0.9" fill="none"/>
<path d="M209.2 475.8H219.2M209.2 474.5v2.6M219.2 474.5v2.6M214.2 470.8V480.8M212.9 470.8h2.6M212.9 480.8h2.6" stroke="#f3c4c4" stroke-width="0.9" fill="none"/>
<path d="M151 395L118.2 588M125.4 547.8L118.5 588M101.4 584.5L167.7 503.3M106 588L174.3 494M112 588L170 525.6M140.4 553.4L173.6 515.8M135.2 532.6L185 405.5M120.3 523.8L184.4 473.4M147.7 509.1L211.7 461.3M128.7 535.7L192.5 483.8M101.4 584.5L100.5 590M107 549.3L117 536.3M172 488.3L190.7 435.7M189.5 394L190.3 405.9M194.3 402L203.5 400.8M202.6 412.5L190.7 435.7M189.8 433.1L187 449.2M196.7 430.2L200.2 446.1M210.1 421.6L211.7 461.3M211.7 461.3L214.2 475.8M193 462.6L190.8 476.9M190.8 476.9L205.7 461.5M181.9 518.6L190.8 476.9M200.2 446.1L201.3 465.9M198.5 452.2L195.8 477.1M216.7 449.6L205.7 461.5M217.5 436.6L213.9 471.2M117 536.3L128.7 535.7" stroke="#b4b4b4" stroke-width="0.95" fill="none"/>
<circle cx="116.1" cy="560.6" r="1.75" fill="#9a9a9a"/>
<circle cx="176.3" cy="490.1" r="1.75" fill="#9a9a9a"/>
<circle cx="186.9" cy="416.7" r="1.75" fill="#9a9a9a"/>
<circle cx="186.9" cy="418.7" r="1.75" fill="#9a9a9a"/>
<circle cx="182.8" cy="421.2" r="1.75" fill="#9a9a9a"/>
<circle cx="218.3" cy="462.4" r="1.75" fill="#9a9a9a"/>
<circle cx="196.9" cy="471.2" r="1.75" fill="#9a9a9a"/>
<circle cx="213.9" cy="471.2" r="1.75" fill="#9a9a9a"/>
<polygon points="147.7,506.3 150.5,509.1 147.7,511.9 144.9,509.1" fill="#0d8ce6" stroke="#0a6fc0" stroke-width="0.6"/>
<polygon points="120.3,521 123.1,523.8 120.3,526.6 117.5,523.8" fill="#0d8ce6" stroke="#0a6fc0" stroke-width="0.6"/>
<polygon points="117,533.5 119.8,536.3 117,539.1 114.2,536.3" fill="#0d8ce6" stroke="#0a6fc0" stroke-width="0.6"/>
<polygon points="128.7,532.9 131.5,535.7 128.7,538.5 125.9,535.7" fill="#0d8ce6" stroke="#0a6fc0" stroke-width="0.6"/>
<polygon points="107,546.5 109.8,549.3 107,552.1 104.2,549.3" fill="#0d8ce6" stroke="#0a6fc0" stroke-width="0.6"/>
<polygon points="125.4,545 128.2,547.8 125.4,550.6 122.6,547.8" fill="#0d8ce6" stroke="#0a6fc0" stroke-width="0.6"/>
<polygon points="140.4,550.2 143.6,553.4 140.4,556.6 137.2,553.4" fill="#fff" stroke="#7fb4de" stroke-width="1"/>
<polygon points="101.4,581.7 104.2,584.5 101.4,587.3 98.6,584.5" fill="#0d8ce6" stroke="#0a6fc0" stroke-width="0.6"/>
<polygon points="172,485.5 174.8,488.3 172,491.1 169.2,488.3" fill="#ee14ee" stroke="#c010c0" stroke-width="0.6"/>
<polygon points="174.3,491.2 177.1,494 174.3,496.8 171.5,494" fill="#ee14ee" stroke="#c010c0" stroke-width="0.6"/>
<polygon points="192.5,481 195.3,483.8 192.5,486.6 189.7,483.8" fill="#ee14ee" stroke="#c010c0" stroke-width="0.6"/>
<polygon points="180.4,496.4 183.2,499.2 180.4,502 177.6,499.2" fill="#ee14ee" stroke="#c010c0" stroke-width="0.6"/>
<polygon points="167.7,500.5 170.5,503.3 167.7,506.1 164.9,503.3" fill="#ee14ee" stroke="#c010c0" stroke-width="0.6"/>
<polygon points="173.6,513 176.4,515.8 173.6,518.6 170.8,515.8" fill="#ee14ee" stroke="#c010c0" stroke-width="0.6"/>
<polygon points="181.9,515.4 185.1,518.6 181.9,521.8 178.7,518.6" fill="#fff" stroke="#d890e2" stroke-width="1"/>
<polygon points="170,522.4 173.2,525.6 170,528.8 166.8,525.6" fill="#fff" stroke="#d890e2" stroke-width="1"/>
<polygon points="181.8,483.5 184.6,486.3 181.8,489.1 179,486.3" fill="#ee0000" stroke="#b80000" stroke-width="0.6"/>
<polygon points="198.4,394.1 201.2,396.9 198.4,399.7 195.6,396.9" fill="#ee0000" stroke="#b80000" stroke-width="0.6"/>
<polygon points="194.3,399.2 197.1,402 194.3,404.8 191.5,402" fill="#ee0000" stroke="#b80000" stroke-width="0.6"/>
<polygon points="203.5,397.6 206.7,400.8 203.5,404 200.3,400.8" fill="#fff" stroke="#e28e8e" stroke-width="1"/>
<polygon points="190.3,402.7 193.5,405.9 190.3,409.1 187.1,405.9" fill="#fff" stroke="#e28e8e" stroke-width="1"/>
<polygon points="202.6,409.3 205.8,412.5 202.6,415.7 199.4,412.5" fill="#fff" stroke="#e28e8e" stroke-width="1"/>
<polygon points="196.1,414.2 199.3,417.4 196.1,420.6 192.9,417.4" fill="#fff" stroke="#e28e8e" stroke-width="1"/>
<polygon points="210.1,418.8 212.9,421.6 210.1,424.4 207.3,421.6" fill="#ee0000" stroke="#b80000" stroke-width="0.6"/>
<polygon points="197.5,422.6 200.3,425.4 197.5,428.2 194.7,425.4" fill="#ee0000" stroke="#b80000" stroke-width="0.6"/>
<polygon points="196.7,427.4 199.5,430.2 196.7,433 193.9,430.2" fill="#ee0000" stroke="#b80000" stroke-width="0.6"/>
<polygon points="212.4,429 215.2,431.8 212.4,434.6 209.6,431.8" fill="#ee0000" stroke="#b80000" stroke-width="0.6"/>
<polygon points="189.8,430.3 192.6,433.1 189.8,435.9 187,433.1" fill="#ee0000" stroke="#b80000" stroke-width="0.6"/>
<polygon points="190.7,432.9 193.5,435.7 190.7,438.5 187.9,435.7" fill="#ee0000" stroke="#b80000" stroke-width="0.6"/>
<polygon points="217.5,433.8 220.3,436.6 217.5,439.4 214.7,436.6" fill="#ee0000" stroke="#b80000" stroke-width="0.6"/>
<polygon points="200.2,443.3 203,446.1 200.2,448.9 197.4,446.1" fill="#ee0000" stroke="#b80000" stroke-width="0.6"/>
<polygon points="187,446.4 189.8,449.2 187,452 184.2,449.2" fill="#ee0000" stroke="#b80000" stroke-width="0.6"/>
<polygon points="198.5,449.4 201.3,452.2 198.5,455 195.7,452.2" fill="#ee0000" stroke="#b80000" stroke-width="0.6"/>
<polygon points="216.7,446.4 219.9,449.6 216.7,452.8 213.5,449.6" fill="#fff" stroke="#e28e8e" stroke-width="1"/>
<polygon points="205.7,458.7 208.5,461.5 205.7,464.3 202.9,461.5" fill="#ee0000" stroke="#b80000" stroke-width="0.6"/>
<polygon points="203.5,460.9 206.3,463.7 203.5,466.5 200.7,463.7" fill="#ee0000" stroke="#b80000" stroke-width="0.6"/>
<polygon points="201.3,463.1 204.1,465.9 201.3,468.7 198.5,465.9" fill="#ee0000" stroke="#b80000" stroke-width="0.6"/>
<polygon points="211.7,458.5 214.5,461.3 211.7,464.1 208.9,461.3" fill="#ee14ee" stroke="#c010c0" stroke-width="0.6"/>
<polygon points="193,459.4 196.2,462.6 193,465.8 189.8,462.6" fill="#fff" stroke="#e28e8e" stroke-width="1"/>
<polygon points="184.4,470.6 187.2,473.4 184.4,476.2 181.6,473.4" fill="#ee0000" stroke="#b80000" stroke-width="0.6"/>
<polygon points="190.8,473.7 194,476.9 190.8,480.1 187.6,476.9" fill="#fff" stroke="#e28e8e" stroke-width="1"/>
<polygon points="195.8,474.3 198.6,477.1 195.8,479.9 193,477.1" fill="#ee0000" stroke="#b80000" stroke-width="0.6"/>
<polygon points="214.2,473 217,475.8 214.2,478.6 211.4,475.8" fill="#ee0000" stroke="#b80000" stroke-width="0.6"/>
</g>
<clipPath id="c21"><rect x="230.5" y="395.8" width="182" height="191.2"/></clipPath>
<g clip-path="url(#c21)">
<path d="M276.9 509.1H303.3M276.9 507.8v2.6M303.3 507.8v2.6" stroke="#c4e2f7" stroke-width="0.9" fill="none"/>
<path d="M276 523.8H296M276 522.5v2.6M296 522.5v2.6" stroke="#c4e2f7" stroke-width="0.9" fill="none"/>
<path d="M256.9 535.7H287.5M256.9 534.4v2.6M287.5 534.4v2.6M272.8 530V545M271.5 530h2.6M271.5 545h2.6" stroke="#c4e2f7" stroke-width="0.9" fill="none"/>
<path d="M279 536.3H304.3M279 535v2.6M304.3 535v2.6" stroke="#c4e2f7" stroke-width="0.9" fill="none"/>
<path d="M282.2 549.3H309.6M282.2 548v2.6M309.6 548v2.6" stroke="#c4e2f7" stroke-width="0.9" fill="none"/>
<path d="M260 553.4H309.6M260 552.1v2.6M309.6 552.1v2.6" stroke="#c4e2f7" stroke-width="0.9" fill="none"/>
<path d="M308.9 584.5H350M308.9 583.2v2.6M350 583.2v2.6M329.9 578V592M328.6 578h2.6M328.6 592h2.6" stroke="#c4e2f7" stroke-width="0.9" fill="none"/>
<path d="M300.1 461.3H329.7M300.1 460v2.6M329.7 460v2.6M317.3 454V468.5M316 454h2.6M316 468.5h2.6" stroke="#f4cdf4" stroke-width="0.9" fill="none"/>
<path d="M292.7 483.8H321.2M292.7 482.5v2.6M321.2 482.5v2.6" stroke="#f4cdf4" stroke-width="0.9" fill="none"/>
<path d="M310.2 488.3H320.2M310.2 487v2.6M320.2 487v2.6M315.2 483.3V493.3M313.9 483.3h2.6M313.9 493.3h2.6" stroke="#f4cdf4" stroke-width="0.9" fill="none"/>
<path d="M299.5 494H309.5M299.5 492.7v2.6M309.5 492.7v2.6M304.5 489V499M303.2 489h2.6M303.2 499h2.6" stroke="#f4cdf4" stroke-width="0.9" fill="none"/>
<path d="M308.4 499.2H318.4M308.4 497.9v2.6M318.4 497.9v2.6M313.4 494.2V504.2M312.1 494.2h2.6M312.1 504.2h2.6" stroke="#f4cdf4" stroke-width="0.9" fill="none"/>
<path d="M288 503.3H310M288 502v2.6M310 502v2.6" stroke="#f4cdf4" stroke-width="0.9" fill="none"/>
<path d="M284.2 515.8H294.2M284.2 514.5v2.6M294.2 514.5v2.6M289.2 510.8V520.8M287.9 510.8h2.6M287.9 520.8h2.6" stroke="#f4cdf4" stroke-width="0.9" fill="none"/>
<path d="M290.6 518.6H341.6M290.6 517.3v2.6M341.6 517.3v2.6M316.1 510V528M314.8 510h2.6M314.8 528h2.6" stroke="#f4cdf4" stroke-width="0.9" fill="none"/>
<path d="M257.9 525.6H288.5M257.9 524.3v2.6M288.5 524.3v2.6" stroke="#f4cdf4" stroke-width="0.9" fill="none"/>
<path d="M341.6 396.9H351.6M341.6 395.6v2.6M351.6 395.6v2.6M346.6 391.9V401.9M345.3 391.9h2.6M345.3 401.9h2.6" stroke="#f3c4c4" stroke-width="0.9" fill="none"/>
<path d="M346 402H356M346 400.7v2.6M356 400.7v2.6M351 397V407M349.7 397h2.6M349.7 407h2.6" stroke="#f3c4c4" stroke-width="0.9" fill="none"/>
<path d="M354.6 400.8H364.6M354.6 399.5v2.6M364.6 399.5v2.6M359.6 395.8V405.8M358.3 395.8h2.6M358.3 405.8h2.6" stroke="#f3c4c4" stroke-width="0.9" fill="none"/>
<path d="M329.1 405.5H345M329.1 404.2v2.6M345 404.2v2.6M337.3 401V410M336 401h2.6M336 410h2.6" stroke="#f3c4c4" stroke-width="0.9" fill="none"/>
<path d="M331.9 405.9H345.1M331.9 404.6v2.6M345.1 404.6v2.6" stroke="#f3c4c4" stroke-width="0.9" fill="none"/>
<path d="M335.7 412.5H352M335.7 411.2v2.6M352 411.2v2.6" stroke="#f3c4c4" stroke-width="0.9" fill="none"/>
<path d="M348.3 417.4H365.7M348.3 416.1v2.6M365.7 416.1v2.6" stroke="#f3c4c4" stroke-width="0.9" fill="none"/>
<path d="M346.4 421.6H361.5M346.4 420.3v2.6M361.5 420.3v2.6" stroke="#f3c4c4" stroke-width="0.9" fill="none"/>
<path d="M334.7 425.4H344.7M334.7 424.1v2.6M344.7 424.1v2.6M339.7 420.4V430.4M338.4 420.4h2.6M338.4 430.4h2.6" stroke="#f3c4c4" stroke-width="0.9" fill="none"/>
<path d="M334.4 430.2H344.4M334.4 428.9v2.6M344.4 428.9v2.6M339.4 425.2V435.2M338.1 425.2h2.6M338.1 435.2h2.6" stroke="#f3c4c4" stroke-width="0.9" fill="none"/>
<path d="M353 431.8H369.3M353 430.5v2.6M369.3 430.5v2.6" stroke="#f3c4c4" stroke-width="0.9" fill="none"/>
<path d="M336.3 435.5H346.3M336.3 434.2v2.6M346.3 434.2v2.6M341.3 430.5V440.5M340 430.5h2.6M340 440.5h2.6" stroke="#f3c4c4" stroke-width="0.9" fill="none"/>
<path d="M348.3 433.3H358.3M348.3 432v2.6M358.3 432v2.6M353.3 428.3V438.3M352 428.3h2.6M352 438.3h2.6" stroke="#f3c4c4" stroke-width="0.9" fill="none"/>
<path d="M362.3 436.6H377.5M362.3 435.3v2.6M377.5 435.3v2.6" stroke="#f3c4c4" stroke-width="0.9" fill="none"/>
<path d="M343.3 446.1H353.3M343.3 444.8v2.6M353.3 444.8v2.6M348.3 441.1V451.1M347 441.1h2.6M347 451.1h2.6" stroke="#f3c4c4" stroke-width="0.9" fill="none"/>
<path d="M343.3 449.2H353.3M343.3 447.9v2.6M353.3 447.9v2.6M348.3 444.2V454.2M347 444.2h2.6M347 454.2h2.6" stroke="#f3c4c4" stroke-width="0.9" fill="none"/>
<path d="M341.6 452.2H351.6M341.6 450.9v2.6M351.6 450.9v2.6M346.6 447.2V457.2M345.3 447.2h2.6M345.3 457.2h2.6" stroke="#f3c4c4" stroke-width="0.9" fill="none"/>
<path d="M349.5 449.6H372.3M349.5 448.3v2.6M372.3 448.3v2.6" stroke="#f3c4c4" stroke-width="0.9" fill="none"/>
<path d="M357.3 461.5H367.3M357.3 460.2v2.6M367.3 460.2v2.6M362.3 456.5V466.5M361 456.5h2.6M361 466.5h2.6" stroke="#f3c4c4" stroke-width="0.9" fill="none"/>
<path d="M351.3 463.7H361.3M351.3 462.4v2.6M361.3 462.4v2.6M356.3 458.7V468.7M355 458.7h2.6M355 468.7h2.6" stroke="#f3c4c4" stroke-width="0.9" fill="none"/>
<path d="M340.8 465.9H350.8M340.8 464.6v2.6M350.8 464.6v2.6M345.8 460.9V470.9M344.5 460.9h2.6M344.5 470.9h2.6" stroke="#f3c4c4" stroke-width="0.9" fill="none"/>
<path d="M365.8 462.6H395M365.8 461.3v2.6M395 461.3v2.6M374.6 448V478M373.3 448h2.6M373.3 478h2.6" stroke="#f3c4c4" stroke-width="0.9" fill="none"/>
<path d="M338.9 473.4H348.9M338.9 472.1v2.6M348.9 472.1v2.6M343.9 468.4V478.4M342.6 468.4h2.6M342.6 478.4h2.6" stroke="#f3c4c4" stroke-width="0.9" fill="none"/>
<path d="M356.5 476.9H395M356.5 475.6v2.6M395 475.6v2.6M376.3 466V492M375 466h2.6M375 492h2.6" stroke="#f3c4c4" stroke-width="0.9" fill="none"/>
<path d="M325 477.1H341.3M325 475.8v2.6M341.3 475.8v2.6" stroke="#f3c4c4" stroke-width="0.9" fill="none"/>
<path d="M337.3 475.8H361.8M337.3 474.5v2.6M361.8 474.5v2.6" stroke="#f3c4c4" stroke-width="0.9" fill="none"/>
<path d="M328.2 486.3H347.4M328.2 485v2.6M347.4 485v2.6" stroke="#f3c4c4" stroke-width="0.9" fill="none"/>
<path d="M253 588L317.4 395M269.9 588L306.8 483.8M294.3 547.8L290.4 588M329.9 584.5L329 590M284.8 523.8L343.9 473.4M272.8 535.7L312.2 490.7M294.4 509.1L317.3 461.3M316.1 518.6L369.9 436.6M277.3 525.6L281.2 553.4M281.2 553.4L282.1 560.6M277.3 525.6L339.4 430.2M289.2 515.8L313.4 499.2M346 394L348.3 449.2M338.8 405.9L344.2 412.5M359.6 400.8L357.3 417.4M353.3 433.3L348.3 449.2M358.8 431.8L349.3 475.8M358.8 431.8L359.4 449.6M374.6 462.6L376.3 476.9M313.4 499.2L356.3 463.7M291.9 536.3L293.7 549.3" stroke="#b4b4b4" stroke-width="0.95" fill="none"/>
<circle cx="282.1" cy="560.6" r="1.75" fill="#9a9a9a"/>
<circle cx="312.2" cy="490.7" r="1.75" fill="#9a9a9a"/>
<circle cx="340.1" cy="416.7" r="1.75" fill="#9a9a9a"/>
<circle cx="341.3" cy="421.2" r="1.75" fill="#9a9a9a"/>
<circle cx="342.6" cy="418.7" r="1.75" fill="#9a9a9a"/>
<circle cx="357.1" cy="462.4" r="1.75" fill="#9a9a9a"/>
<circle cx="346.6" cy="471.2" r="1.75" fill="#9a9a9a"/>
<circle cx="343.9" cy="471.2" r="1.75" fill="#9a9a9a"/>
<polygon points="294.4,506.3 297.2,509.1 294.4,511.9 291.6,509.1" fill="#0d8ce6" stroke="#0a6fc0" stroke-width="0.6"/>
<polygon points="284.8,521 287.6,523.8 284.8,526.6 282,523.8" fill="#0d8ce6" stroke="#0a6fc0" stroke-width="0.6"/>
<polygon points="272.8,532.9 275.6,535.7 272.8,538.5 270,535.7" fill="#0d8ce6" stroke="#0a6fc0" stroke-width="0.6"/>
<polygon points="291.9,533.5 294.7,536.3 291.9,539.1 289.1,536.3" fill="#0d8ce6" stroke="#0a6fc0" stroke-width="0.6"/>
<polygon points="293.7,546.5 296.5,549.3 293.7,552.1 290.9,549.3" fill="#0d8ce6" stroke="#0a6fc0" stroke-width="0.6"/>
<polygon points="294.3,545 297.1,547.8 294.3,550.6 291.5,547.8" fill="#0d8ce6" stroke="#0a6fc0" stroke-width="0.6"/>
<polygon points="281.2,550.2 284.4,553.4 281.2,556.6 278,553.4" fill="#fff" stroke="#7fb4de" stroke-width="1"/>
<polygon points="329.9,581.7 332.7,584.5 329.9,587.3 327.1,584.5" fill="#0d8ce6" stroke="#0a6fc0" stroke-width="0.6"/>
<polygon points="317.3,458.5 320.1,461.3 317.3,464.1 314.5,461.3" fill="#ee14ee" stroke="#c010c0" stroke-width="0.6"/>
<polygon points="306.8,481 309.6,483.8 306.8,486.6 304,483.8" fill="#ee14ee" stroke="#c010c0" stroke-width="0.6"/>
<polygon points="315.2,485.5 318,488.3 315.2,491.1 312.4,488.3" fill="#ee14ee" stroke="#c010c0" stroke-width="0.6"/>
<polygon points="304.5,491.2 307.3,494 304.5,496.8 301.7,494" fill="#ee14ee" stroke="#c010c0" stroke-width="0.6"/>
<polygon points="313.4,496.4 316.2,499.2 313.4,502 310.6,499.2" fill="#ee14ee" stroke="#c010c0" stroke-width="0.6"/>
<polygon points="297.8,500.5 300.6,503.3 297.8,506.1 295,503.3" fill="#ee14ee" stroke="#c010c0" stroke-width="0.6"/>
<polygon points="289.2,513 292,515.8 289.2,518.6 286.4,515.8" fill="#ee14ee" stroke="#c010c0" stroke-width="0.6"/>
<polygon points="316.1,515.4 319.3,518.6 316.1,521.8 312.9,518.6" fill="#fff" stroke="#d890e2" stroke-width="1"/>
<polygon points="277.3,522.4 280.5,525.6 277.3,528.8 274.1,525.6" fill="#fff" stroke="#d890e2" stroke-width="1"/>
<polygon points="346.6,394.1 349.4,396.9 346.6,399.7 343.8,396.9" fill="#ee0000" stroke="#b80000" stroke-width="0.6"/>
<polygon points="351,399.2 353.8,402 351,404.8 348.2,402" fill="#ee0000" stroke="#b80000" stroke-width="0.6"/>
<polygon points="359.6,397.6 362.8,400.8 359.6,404 356.4,400.8" fill="#fff" stroke="#e28e8e" stroke-width="1"/>
<polygon points="338.8,402.7 342,405.9 338.8,409.1 335.6,405.9" fill="#fff" stroke="#e28e8e" stroke-width="1"/>
<polygon points="344.2,409.3 347.4,412.5 344.2,415.7 341,412.5" fill="#fff" stroke="#e28e8e" stroke-width="1"/>
<polygon points="357.3,414.2 360.5,417.4 357.3,420.6 354.1,417.4" fill="#fff" stroke="#e28e8e" stroke-width="1"/>
<polygon points="353.9,418.8 356.7,421.6 353.9,424.4 351.1,421.6" fill="#ee0000" stroke="#b80000" stroke-width="0.6"/>
<polygon points="339.7,422.6 342.5,425.4 339.7,428.2 336.9,425.4" fill="#ee0000" stroke="#b80000" stroke-width="0.6"/>
<polygon points="339.4,427.4 342.2,430.2 339.4,433 336.6,430.2" fill="#ee0000" stroke="#b80000" stroke-width="0.6"/>
<polygon points="358.8,429 361.6,431.8 358.8,434.6 356,431.8" fill="#ee0000" stroke="#b80000" stroke-width="0.6"/>
<polygon points="341.3,432.7 344.1,435.5 341.3,438.3 338.5,435.5" fill="#ee0000" stroke="#b80000" stroke-width="0.6"/>
<polygon points="353.3,430.5 356.1,433.3 353.3,436.1 350.5,433.3" fill="#ee0000" stroke="#b80000" stroke-width="0.6"/>
<polygon points="369.9,433.8 372.7,436.6 369.9,439.4 367.1,436.6" fill="#ee0000" stroke="#b80000" stroke-width="0.6"/>
<polygon points="348.3,443.3 351.1,446.1 348.3,448.9 345.5,446.1" fill="#ee0000" stroke="#b80000" stroke-width="0.6"/>
<polygon points="348.3,446.4 351.1,449.2 348.3,452 345.5,449.2" fill="#ee0000" stroke="#b80000" stroke-width="0.6"/>
<polygon points="346.6,449.4 349.4,452.2 346.6,455 343.8,452.2" fill="#ee0000" stroke="#b80000" stroke-width="0.6"/>
<polygon points="359.4,446.4 362.6,449.6 359.4,452.8 356.2,449.6" fill="#fff" stroke="#e28e8e" stroke-width="1"/>
<polygon points="362.3,458.7 365.1,461.5 362.3,464.3 359.5,461.5" fill="#ee0000" stroke="#b80000" stroke-width="0.6"/>
<polygon points="356.3,460.9 359.1,463.7 356.3,466.5 353.5,463.7" fill="#ee0000" stroke="#b80000" stroke-width="0.6"/>
<polygon points="345.8,463.1 348.6,465.9 345.8,468.7 343,465.9" fill="#ee0000" stroke="#b80000" stroke-width="0.6"/>
<polygon points="374.6,459.4 377.8,462.6 374.6,465.8 371.4,462.6" fill="#fff" stroke="#e28e8e" stroke-width="1"/>
<polygon points="343.9,470.6 346.7,473.4 343.9,476.2 341.1,473.4" fill="#ee0000" stroke="#b80000" stroke-width="0.6"/>
<polygon points="376.3,473.7 379.5,476.9 376.3,480.1 373.1,476.9" fill="#fff" stroke="#e28e8e" stroke-width="1"/>
<polygon points="331.8,474.3 334.6,477.1 331.8,479.9 329,477.1" fill="#ee0000" stroke="#b80000" stroke-width="0.6"/>
<polygon points="349.3,473 352.1,475.8 349.3,478.6 346.5,475.8" fill="#ee0000" stroke="#b80000" stroke-width="0.6"/>
<polygon points="338.1,483.5 340.9,486.3 338.1,489.1 335.3,486.3" fill="#ee0000" stroke="#b80000" stroke-width="0.6"/>
</g>
<clipPath id="c22"><rect x="417.5" y="395.8" width="182" height="191.2"/></clipPath>
<g clip-path="url(#c22)">
<path d="M456.7 523.8H468.9M456.7 522.5v2.6M468.9 522.5v2.6M463.2 519V528M461.9 519h2.6M461.9 528h2.6" stroke="#c4e2f7" stroke-width="0.9" fill="none"/>
<path d="M476 509.1H497.5M476 507.8v2.6M497.5 507.8v2.6M486.8 500V518M485.5 500h2.6M485.5 518h2.6" stroke="#c4e2f7" stroke-width="0.9" fill="none"/>
<path d="M453.7 535.7H468.9M453.7 534.4v2.6M468.9 534.4v2.6" stroke="#c4e2f7" stroke-width="0.9" fill="none"/>
<path d="M458.5 536.3H470.7M458.5 535v2.6M470.7 535v2.6" stroke="#c4e2f7" stroke-width="0.9" fill="none"/>
<path d="M452.8 549.3H467.1M452.8 548v2.6M467.1 548v2.6" stroke="#c4e2f7" stroke-width="0.9" fill="none"/>
<path d="M451 532.6H499.3M451 531.3v2.6M499.3 531.3v2.6M475.1 521V552M473.8 521h2.6M473.8 552h2.6" stroke="#c4e2f7" stroke-width="0.9" fill="none"/>
<path d="M463.5 547.8H479.6M463.5 546.5v2.6M479.6 546.5v2.6" stroke="#c4e2f7" stroke-width="0.9" fill="none"/>
<path d="M461.4 553.4H486.4M461.4 552.1v2.6M486.4 552.1v2.6M473.9 543V564M472.6 543h2.6M472.6 564h2.6" stroke="#c4e2f7" stroke-width="0.9" fill="none"/>
<path d="M468.5 584.5H489.5M468.5 583.2v2.6M489.5 583.2v2.6M478.7 575V592M477.4 575h2.6M477.4 592h2.6" stroke="#c4e2f7" stroke-width="0.9" fill="none"/>
<path d="M497 503.3H507M497 502v2.6M507 502v2.6M502 498.3V508.3M500.7 498.3h2.6M500.7 508.3h2.6" stroke="#f4cdf4" stroke-width="0.9" fill="none"/>
<path d="M505.2 494H515.2M505.2 492.7v2.6M515.2 492.7v2.6M510.2 489V499M508.9 489h2.6M508.9 499h2.6" stroke="#f4cdf4" stroke-width="0.9" fill="none"/>
<path d="M510.3 488.3H520.3M510.3 487v2.6M520.3 487v2.6M515.3 483.3V493.3M514 483.3h2.6M514 493.3h2.6" stroke="#f4cdf4" stroke-width="0.9" fill="none"/>
<path d="M518.4 483.8H528.4M518.4 482.5v2.6M528.4 482.5v2.6M523.4 478.8V488.8M522.1 478.8h2.6M522.1 488.8h2.6" stroke="#f4cdf4" stroke-width="0.9" fill="none"/>
<path d="M531.4 461.3H549.5M531.4 460v2.6M549.5 460v2.6" stroke="#f4cdf4" stroke-width="0.9" fill="none"/>
<path d="M492 515.8H510M492 514.5v2.6M510 514.5v2.6M500.8 508V523M499.5 508h2.6M499.5 523h2.6" stroke="#f4cdf4" stroke-width="0.9" fill="none"/>
<path d="M514.5 499.2H524.5M514.5 497.9v2.6M524.5 497.9v2.6M519.5 494.2V504.2M518.2 494.2h2.6M518.2 504.2h2.6" stroke="#f4cdf4" stroke-width="0.9" fill="none"/>
<path d="M479.6 525.6H499.3M479.6 524.3v2.6M499.3 524.3v2.6M490.3 518V535M489 518h2.6M489 535h2.6" stroke="#f4cdf4" stroke-width="0.9" fill="none"/>
<path d="M506.6 518.6H538.8M506.6 517.3v2.6M538.8 517.3v2.6M522.3 508V530M521 508h2.6M521 530h2.6" stroke="#f4cdf4" stroke-width="0.9" fill="none"/>
<path d="M546.8 396.9H556.8M546.8 395.6v2.6M556.8 395.6v2.6M551.8 391.9V401.9M550.5 391.9h2.6M550.5 401.9h2.6" stroke="#f3c4c4" stroke-width="0.9" fill="none"/>
<path d="M546.8 402H556.8M546.8 400.7v2.6M556.8 400.7v2.6M551.8 397V407M550.5 397h2.6M550.5 407h2.6" stroke="#f3c4c4" stroke-width="0.9" fill="none"/>
<path d="M557.2 400.8H571.7M557.2 399.5v2.6M571.7 399.5v2.6" stroke="#f3c4c4" stroke-width="0.9" fill="none"/>
<path d="M532.6 405.5H542M532.6 404.2v2.6M542 404.2v2.6M537 401V410M535.7 401h2.6M535.7 410h2.6" stroke="#f3c4c4" stroke-width="0.9" fill="none"/>
<path d="M537 405.9H545.8M537 404.6v2.6M545.8 404.6v2.6" stroke="#f3c4c4" stroke-width="0.9" fill="none"/>
<path d="M542.7 412.5H560.4M542.7 411.2v2.6M560.4 411.2v2.6" stroke="#f3c4c4" stroke-width="0.9" fill="none"/>
<path d="M550.9 417.4H567.3M550.9 416.1v2.6M567.3 416.1v2.6" stroke="#f3c4c4" stroke-width="0.9" fill="none"/>
<path d="M558.5 421.6H568.6M558.5 420.3v2.6M568.6 420.3v2.6" stroke="#f3c4c4" stroke-width="0.9" fill="none"/>
<path d="M542.1 425.4H552.1M542.1 424.1v2.6M552.1 424.1v2.6M547.1 420.4V430.4M545.8 420.4h2.6M545.8 430.4h2.6" stroke="#f3c4c4" stroke-width="0.9" fill="none"/>
<path d="M540.2 430.2H550.2M540.2 428.9v2.6M550.2 428.9v2.6M545.2 425.2V435.2M543.9 425.2h2.6M543.9 435.2h2.6" stroke="#f3c4c4" stroke-width="0.9" fill="none"/>
<path d="M561 431.8H575.9M561 430.5v2.6M575.9 430.5v2.6" stroke="#f3c4c4" stroke-width="0.9" fill="none"/>
<path d="M538.9 435.5H548.9M538.9 434.2v2.6M548.9 434.2v2.6M543.9 430.5V440.5M542.6 430.5h2.6M542.6 440.5h2.6" stroke="#f3c4c4" stroke-width="0.9" fill="none"/>
<path d="M545.6 433.3H555.6M545.6 432v2.6M555.6 432v2.6M550.6 428.3V438.3M549.3 428.3h2.6M549.3 438.3h2.6" stroke="#f3c4c4" stroke-width="0.9" fill="none"/>
<path d="M572 436.6H584M572 435.3v2.6M584 435.3v2.6" stroke="#f3c4c4" stroke-width="0.9" fill="none"/>
<path d="M548.6 446.1H558.6M548.6 444.8v2.6M558.6 444.8v2.6M553.6 441.1V451.1M552.3 441.1h2.6M552.3 451.1h2.6" stroke="#f3c4c4" stroke-width="0.9" fill="none"/>
<path d="M540.4 449.2H550.4M540.4 447.9v2.6M550.4 447.9v2.6M545.4 444.2V454.2M544.1 444.2h2.6M544.1 454.2h2.6" stroke="#f3c4c4" stroke-width="0.9" fill="none"/>
<path d="M547 452.2H557M547 450.9v2.6M557 450.9v2.6M552 447.2V457.2M550.7 447.2h2.6M550.7 457.2h2.6" stroke="#f3c4c4" stroke-width="0.9" fill="none"/>
<path d="M566 449.6H580.9M566 448.3v2.6M580.9 448.3v2.6" stroke="#f3c4c4" stroke-width="0.9" fill="none"/>
<path d="M561.8 461.5H571.8M561.8 460.2v2.6M571.8 460.2v2.6M566.8 456.5V466.5M565.5 456.5h2.6M565.5 466.5h2.6" stroke="#f3c4c4" stroke-width="0.9" fill="none"/>
<path d="M556.4 463.7H566.4M556.4 462.4v2.6M566.4 462.4v2.6M561.4 458.7V468.7M560.1 458.7h2.6M560.1 468.7h2.6" stroke="#f3c4c4" stroke-width="0.9" fill="none"/>
<path d="M547.8 466.2H557.8M547.8 464.9v2.6M557.8 464.9v2.6M552.8 461.2V471.2M551.5 461.2h2.6M551.5 471.2h2.6" stroke="#f3c4c4" stroke-width="0.9" fill="none"/>
<path d="M536.3 473.4H546.3M536.3 472.1v2.6M546.3 472.1v2.6M541.3 468.4V478.4M540 468.4h2.6M540 478.4h2.6" stroke="#f3c4c4" stroke-width="0.9" fill="none"/>
<path d="M536.3 477.1H546.3M536.3 475.8v2.6M546.3 475.8v2.6M541.3 472.1V482.1M540 472.1h2.6M540 482.1h2.6" stroke="#f3c4c4" stroke-width="0.9" fill="none"/>
<path d="M552.8 476.9H579.2M552.8 475.6v2.6M579.2 475.6v2.6M565.7 464V492M564.4 464h2.6M564.4 492h2.6" stroke="#f3c4c4" stroke-width="0.9" fill="none"/>
<path d="M554.5 475.8H572.6M554.5 474.5v2.6M572.6 474.5v2.6" stroke="#f3c4c4" stroke-width="0.9" fill="none"/>
<path d="M530.5 486.3H540.5M530.5 485v2.6M540.5 485v2.6M535.5 481.3V491.3M534.2 481.3h2.6M534.2 491.3h2.6" stroke="#f3c4c4" stroke-width="0.9" fill="none"/>
<path d="M441.5 588L501.4 395M453.2 588L545.2 430.2M475.1 532.6L537 405.5M472.5 547.8L466 588M478.7 584.5L478 590M463.2 523.8L541.3 473.4M460.8 535.7L502 503.3M486.8 509.1L542.1 461.3M459.9 549.3L465.3 536.3M500.8 515.8L541.3 477.1M519.5 499.2L552 452.2M522.3 518.6L578.4 436.6M523.4 483.8L541.3 473.4M545 394L547.1 425.4M541.4 405.9L552.8 412.5M562.9 400.8L556.6 417.4M550.6 433.3L553.6 446.1M545.4 449.2L550.6 433.3M564.1 421.6L563.5 475.8M568.5 431.8L566.8 461.5M578.4 436.6L566.8 461.5" stroke="#b4b4b4" stroke-width="0.95" fill="none"/>
<circle cx="458.7" cy="560.6" r="1.75" fill="#9a9a9a"/>
<circle cx="460" cy="576.6" r="1.75" fill="#9a9a9a"/>
<circle cx="516.5" cy="490.7" r="1.75" fill="#9a9a9a"/>
<circle cx="540.4" cy="416.7" r="1.75" fill="#9a9a9a"/>
<circle cx="537" cy="421.2" r="1.75" fill="#9a9a9a"/>
<circle cx="541.4" cy="418.7" r="1.75" fill="#9a9a9a"/>
<circle cx="571" cy="462.4" r="1.75" fill="#9a9a9a"/>
<circle cx="550.8" cy="471.2" r="1.75" fill="#9a9a9a"/>
<circle cx="560.2" cy="471.2" r="1.75" fill="#9a9a9a"/>
<polygon points="463.2,521 466,523.8 463.2,526.6 460.4,523.8" fill="#0d8ce6" stroke="#0a6fc0" stroke-width="0.6"/>
<polygon points="486.8,506.3 489.6,509.1 486.8,511.9 484,509.1" fill="#0d8ce6" stroke="#0a6fc0" stroke-width="0.6"/>
<polygon points="460.8,532.9 463.6,535.7 460.8,538.5 458,535.7" fill="#0d8ce6" stroke="#0a6fc0" stroke-width="0.6"/>
<polygon points="465.3,533.5 468.1,536.3 465.3,539.1 462.5,536.3" fill="#0d8ce6" stroke="#0a6fc0" stroke-width="0.6"/>
<polygon points="459.9,546.5 462.7,549.3 459.9,552.1 457.1,549.3" fill="#0d8ce6" stroke="#0a6fc0" stroke-width="0.6"/>
<polygon points="472.5,545 475.3,547.8 472.5,550.6 469.7,547.8" fill="#0d8ce6" stroke="#0a6fc0" stroke-width="0.6"/>
<polygon points="473.9,550.2 477.1,553.4 473.9,556.6 470.7,553.4" fill="#fff" stroke="#7fb4de" stroke-width="1"/>
<polygon points="478.7,581.7 481.5,584.5 478.7,587.3 475.9,584.5" fill="#0d8ce6" stroke="#0a6fc0" stroke-width="0.6"/>
<polygon points="502,500.5 504.8,503.3 502,506.1 499.2,503.3" fill="#ee14ee" stroke="#c010c0" stroke-width="0.6"/>
<polygon points="510.2,491.2 513,494 510.2,496.8 507.4,494" fill="#ee14ee" stroke="#c010c0" stroke-width="0.6"/>
<polygon points="515.3,485.5 518.1,488.3 515.3,491.1 512.5,488.3" fill="#ee14ee" stroke="#c010c0" stroke-width="0.6"/>
<polygon points="523.4,481 526.2,483.8 523.4,486.6 520.6,483.8" fill="#ee14ee" stroke="#c010c0" stroke-width="0.6"/>
<polygon points="542.1,458.5 544.9,461.3 542.1,464.1 539.3,461.3" fill="#ee14ee" stroke="#c010c0" stroke-width="0.6"/>
<polygon points="500.8,513 503.6,515.8 500.8,518.6 498,515.8" fill="#ee14ee" stroke="#c010c0" stroke-width="0.6"/>
<polygon points="519.5,496.4 522.3,499.2 519.5,502 516.7,499.2" fill="#ee14ee" stroke="#c010c0" stroke-width="0.6"/>
<polygon points="490.3,522.4 493.5,525.6 490.3,528.8 487.1,525.6" fill="#fff" stroke="#d890e2" stroke-width="1"/>
<polygon points="522.3,515.4 525.5,518.6 522.3,521.8 519.1,518.6" fill="#fff" stroke="#d890e2" stroke-width="1"/>
<polygon points="551.8,394.1 554.6,396.9 551.8,399.7 549,396.9" fill="#ee0000" stroke="#b80000" stroke-width="0.6"/>
<polygon points="551.8,399.2 554.6,402 551.8,404.8 549,402" fill="#ee0000" stroke="#b80000" stroke-width="0.6"/>
<polygon points="562.9,397.6 566.1,400.8 562.9,404 559.7,400.8" fill="#fff" stroke="#e28e8e" stroke-width="1"/>
<polygon points="541.4,402.7 544.6,405.9 541.4,409.1 538.2,405.9" fill="#fff" stroke="#e28e8e" stroke-width="1"/>
<polygon points="552.8,409.3 556,412.5 552.8,415.7 549.6,412.5" fill="#fff" stroke="#e28e8e" stroke-width="1"/>
<polygon points="556.6,414.2 559.8,417.4 556.6,420.6 553.4,417.4" fill="#fff" stroke="#e28e8e" stroke-width="1"/>
<polygon points="564.1,418.8 566.9,421.6 564.1,424.4 561.3,421.6" fill="#ee0000" stroke="#b80000" stroke-width="0.6"/>
<polygon points="547.1,422.6 549.9,425.4 547.1,428.2 544.3,425.4" fill="#ee0000" stroke="#b80000" stroke-width="0.6"/>
<polygon points="545.2,427.4 548,430.2 545.2,433 542.4,430.2" fill="#ee0000" stroke="#b80000" stroke-width="0.6"/>
<polygon points="568.5,429 571.3,431.8 568.5,434.6 565.7,431.8" fill="#ee0000" stroke="#b80000" stroke-width="0.6"/>
<polygon points="543.9,432.7 546.7,435.5 543.9,438.3 541.1,435.5" fill="#ee0000" stroke="#b80000" stroke-width="0.6"/>
<polygon points="550.6,430.5 553.4,433.3 550.6,436.1 547.8,433.3" fill="#ee0000" stroke="#b80000" stroke-width="0.6"/>
<polygon points="578.4,433.8 581.2,436.6 578.4,439.4 575.6,436.6" fill="#ee0000" stroke="#b80000" stroke-width="0.6"/>
<polygon points="553.6,443.3 556.4,446.1 553.6,448.9 550.8,446.1" fill="#ee0000" stroke="#b80000" stroke-width="0.6"/>
<polygon points="545.4,446.4 548.2,449.2 545.4,452 542.6,449.2" fill="#ee0000" stroke="#b80000" stroke-width="0.6"/>
<polygon points="552,449.4 554.8,452.2 552,455 549.2,452.2" fill="#ee0000" stroke="#b80000" stroke-width="0.6"/>
<polygon points="571.8,446.4 575,449.6 571.8,452.8 568.6,449.6" fill="#fff" stroke="#e28e8e" stroke-width="1"/>
<polygon points="566.8,458.7 569.6,461.5 566.8,464.3 564,461.5" fill="#ee0000" stroke="#b80000" stroke-width="0.6"/>
<polygon points="561.4,460.9 564.2,463.7 561.4,466.5 558.6,463.7" fill="#ee0000" stroke="#b80000" stroke-width="0.6"/>
<polygon points="552.8,463.4 555.6,466.2 552.8,469 550,466.2" fill="#ee0000" stroke="#b80000" stroke-width="0.6"/>
<polygon points="541.3,470.6 544.1,473.4 541.3,476.2 538.5,473.4" fill="#ee0000" stroke="#b80000" stroke-width="0.6"/>
<polygon points="541.3,474.3 544.1,477.1 541.3,479.9 538.5,477.1" fill="#ee0000" stroke="#b80000" stroke-width="0.6"/>
<polygon points="565.7,473.7 568.9,476.9 565.7,480.1 562.5,476.9" fill="#fff" stroke="#e28e8e" stroke-width="1"/>
<polygon points="563.5,473 566.3,475.8 563.5,478.6 560.7,475.8" fill="#ee0000" stroke="#b80000" stroke-width="0.6"/>
<polygon points="535.5,483.5 538.3,486.3 535.5,489.1 532.7,486.3" fill="#ee0000" stroke="#b80000" stroke-width="0.6"/>
</g>
<path d="M43.5 192.5v-2.6M43.5 1v2.6M51.77 192.5v-2.6M51.77 1v2.6M60.05 192.5v-2.6M60.05 1v2.6M68.32 192.5v-5M68.32 1v5M76.59 192.5v-2.6M76.59 1v2.6M84.86 192.5v-2.6M84.86 1v2.6M93.14 192.5v-2.6M93.14 1v2.6M101.41 192.5v-2.6M101.41 1v2.6M109.68 192.5v-5M109.68 1v5M117.95 192.5v-2.6M117.95 1v2.6M126.23 192.5v-2.6M126.23 1v2.6M134.5 192.5v-2.6M134.5 1v2.6M142.77 192.5v-2.6M142.77 1v2.6M151.05 192.5v-5M151.05 1v5M159.32 192.5v-2.6M159.32 1v2.6M167.59 192.5v-2.6M167.59 1v2.6M175.86 192.5v-2.6M175.86 1v2.6M184.14 192.5v-2.6M184.14 1v2.6M192.41 192.5v-5M192.41 1v5M200.68 192.5v-2.6M200.68 1v2.6M208.95 192.5v-2.6M208.95 1v2.6M217.23 192.5v-2.6M217.23 1v2.6M225.5 192.5v-2.6M225.5 1v2.6M43.5 1h2.6M225.5 1h-2.6M43.5 6.18h2.6M225.5 6.18h-2.6M43.5 11.35h2.6M225.5 11.35h-2.6M43.5 16.53h2.6M225.5 16.53h-2.6M43.5 21.7h2.6M225.5 21.7h-2.6M43.5 26.88h5M225.5 26.88h-5M43.5 32.05h2.6M225.5 32.05h-2.6M43.5 37.23h2.6M225.5 37.23h-2.6M43.5 42.41h2.6M225.5 42.41h-2.6M43.5 47.58h2.6M225.5 47.58h-2.6M43.5 52.76h2.6M225.5 52.76h-2.6M43.5 57.93h2.6M225.5 57.93h-2.6M43.5 63.11h2.6M225.5 63.11h-2.6M43.5 68.28h2.6M225.5 68.28h-2.6M43.5 73.46h2.6M225.5 73.46h-2.6M43.5 78.64h5M225.5 78.64h-5M43.5 83.81h2.6M225.5 83.81h-2.6M43.5 88.99h2.6M225.5 88.99h-2.6M43.5 94.16h2.6M225.5 94.16h-2.6M43.5 99.34h2.6M225.5 99.34h-2.6M43.5 104.51h2.6M225.5 104.51h-2.6M43.5 109.69h2.6M225.5 109.69h-2.6M43.5 114.86h2.6M225.5 114.86h-2.6M43.5 120.04h2.6M225.5 120.04h-2.6M43.5 125.22h2.6M225.5 125.22h-2.6M43.5 130.39h5M225.5 130.39h-5M43.5 135.57h2.6M225.5 135.57h-2.6M43.5 140.74h2.6M225.5 140.74h-2.6M43.5 145.92h2.6M225.5 145.92h-2.6M43.5 151.09h2.6M225.5 151.09h-2.6M43.5 156.27h2.6M225.5 156.27h-2.6M43.5 161.45h2.6M225.5 161.45h-2.6M43.5 166.62h2.6M225.5 166.62h-2.6M43.5 171.8h2.6M225.5 171.8h-2.6M43.5 176.97h2.6M225.5 176.97h-2.6M43.5 182.15h5M225.5 182.15h-5M43.5 187.32h2.6M225.5 187.32h-2.6M43.5 192.5h2.6M225.5 192.5h-2.6" stroke="#1a1a1a" stroke-width="1.1" fill="none"/>
<rect x="43.5" y="1" width="182" height="191.5" stroke="#1a1a1a" stroke-width="1.15" fill="none"/>
<path d="M230.5 192.5v-2.6M230.5 1v2.6M239.17 192.5v-2.6M239.17 1v2.6M247.83 192.5v-5M247.83 1v5M256.5 192.5v-2.6M256.5 1v2.6M265.17 192.5v-2.6M265.17 1v2.6M273.83 192.5v-2.6M273.83 1v2.6M282.5 192.5v-2.6M282.5 1v2.6M291.17 192.5v-5M291.17 1v5M299.83 192.5v-2.6M299.83 1v2.6M308.5 192.5v-2.6M308.5 1v2.6M317.17 192.5v-2.6M317.17 1v2.6M325.83 192.5v-2.6M325.83 1v2.6M334.5 192.5v-5M334.5 1v5M343.17 192.5v-2.6M343.17 1v2.6M351.83 192.5v-2.6M351.83 1v2.6M360.5 192.5v-2.6M360.5 1v2.6M369.17 192.5v-2.6M369.17 1v2.6M377.83 192.5v-5M377.83 1v5M386.5 192.5v-2.6M386.5 1v2.6M395.17 192.5v-2.6M395.17 1v2.6M403.83 192.5v-2.6M403.83 1v2.6M412.5 192.5v-2.6M412.5 1v2.6M230.5 1h2.6M412.5 1h-2.6M230.5 6.18h2.6M412.5 6.18h-2.6M230.5 11.35h2.6M412.5 11.35h-2.6M230.5 16.53h2.6M412.5 16.53h-2.6M230.5 21.7h2.6M412.5 21.7h-2.6M230.5 26.88h5M412.5 26.88h-5M230.5 32.05h2.6M412.5 32.05h-2.6M230.5 37.23h2.6M412.5 37.23h-2.6M230.5 42.41h2.6M412.5 42.41h-2.6M230.5 47.58h2.6M412.5 47.58h-2.6M230.5 52.76h2.6M412.5 52.76h-2.6M230.5 57.93h2.6M412.5 57.93h-2.6M230.5 63.11h2.6M412.5 63.11h-2.6M230.5 68.28h2.6M412.5 68.28h-2.6M230.5 73.46h2.6M412.5 73.46h-2.6M230.5 78.64h5M412.5 78.64h-5M230.5 83.81h2.6M412.5 83.81h-2.6M230.5 88.99h2.6M412.5 88.99h-2.6M230.5 94.16h2.6M412.5 94.16h-2.6M230.5 99.34h2.6M412.5 99.34h-2.6M230.5 104.51h2.6M412.5 104.51h-2.6M230.5 109.69h2.6M412.5 109.69h-2.6M230.5 114.86h2.6M412.5 114.86h-2.6M230.5 120.04h2.6M412.5 120.04h-2.6M230.5 125.22h2.6M412.5 125.22h-2.6M230.5 130.39h5M412.5 130.39h-5M230.5 135.57h2.6M412.5 135.57h-2.6M230.5 140.74h2.6M412.5 140.74h-2.6M230.5 145.92h2.6M412.5 145.92h-2.6M230.5 151.09h2.6M412.5 151.09h-2.6M230.5 156.27h2.6M412.5 156.27h-2.6M230.5 161.45h2.6M412.5 161.45h-2.6M230.5 166.62h2.6M412.5 166.62h-2.6M230.5 171.8h2.6M412.5 171.8h-2.6M230.5 176.97h2.6M412.5 176.97h-2.6M230.5 182.15h5M412.5 182.15h-5M230.5 187.32h2.6M412.5 187.32h-2.6M230.5 192.5h2.6M412.5 192.5h-2.6" stroke="#1a1a1a" stroke-width="1.1" fill="none"/>
<rect x="230.5" y="1" width="182" height="191.5" stroke="#1a1a1a" stroke-width="1.15" fill="none"/>
<path d="M417.5 192.5v-2.6M417.5 1v2.6M428.21 192.5v-2.6M428.21 1v2.6M438.91 192.5v-2.6M438.91 1v2.6M449.62 192.5v-2.6M449.62 1v2.6M460.32 192.5v-5M460.32 1v5M471.03 192.5v-2.6M471.03 1v2.6M481.74 192.5v-2.6M481.74 1v2.6M492.44 192.5v-2.6M492.44 1v2.6M503.15 192.5v-2.6M503.15 1v2.6M513.85 192.5v-5M513.85 1v5M524.56 192.5v-2.6M524.56 1v2.6M535.26 192.5v-2.6M535.26 1v2.6M545.97 192.5v-2.6M545.97 1v2.6M556.68 192.5v-2.6M556.68 1v2.6M567.38 192.5v-5M567.38 1v5M578.09 192.5v-2.6M578.09 1v2.6M588.79 192.5v-2.6M588.79 1v2.6M599.5 192.5v-2.6M599.5 1v2.6M417.5 1h2.6M599.5 1h-2.6M417.5 6.18h2.6M599.5 6.18h-2.6M417.5 11.35h2.6M599.5 11.35h-2.6M417.5 16.53h2.6M599.5 16.53h-2.6M417.5 21.7h2.6M599.5 21.7h-2.6M417.5 26.88h5M599.5 26.88h-5M417.5 32.05h2.6M599.5 32.05h-2.6M417.5 37.23h2.6M599.5 37.23h-2.6M417.5 42.41h2.6M599.5 42.41h-2.6M417.5 47.58h2.6M599.5 47.58h-2.6M417.5 52.76h2.6M599.5 52.76h-2.6M417.5 57.93h2.6M599.5 57.93h-2.6M417.5 63.11h2.6M599.5 63.11h-2.6M417.5 68.28h2.6M599.5 68.28h-2.6M417.5 73.46h2.6M599.5 73.46h-2.6M417.5 78.64h5M599.5 78.64h-5M417.5 83.81h2.6M599.5 83.81h-2.6M417.5 88.99h2.6M599.5 88.99h-2.6M417.5 94.16h2.6M599.5 94.16h-2.6M417.5 99.34h2.6M599.5 99.34h-2.6M417.5 104.51h2.6M599.5 104.51h-2.6M417.5 109.69h2.6M599.5 109.69h-2.6M417.5 114.86h2.6M599.5 114.86h-2.6M417.5 120.04h2.6M599.5 120.04h-2.6M417.5 125.22h2.6M599.5 125.22h-2.6M417.5 130.39h5M599.5 130.39h-5M417.5 135.57h2.6M599.5 135.57h-2.6M417.5 140.74h2.6M599.5 140.74h-2.6M417.5 145.92h2.6M599.5 145.92h-2.6M417.5 151.09h2.6M599.5 151.09h-2.6M417.5 156.27h2.6M599.5 156.27h-2.6M417.5 161.45h2.6M599.5 161.45h-2.6M417.5 166.62h2.6M599.5 166.62h-2.6M417.5 171.8h2.6M599.5 171.8h-2.6M417.5 176.97h2.6M599.5 176.97h-2.6M417.5 182.15h5M599.5 182.15h-5M417.5 187.32h2.6M599.5 187.32h-2.6M417.5 192.5h2.6M599.5 192.5h-2.6" stroke="#1a1a1a" stroke-width="1.1" fill="none"/>
<rect x="417.5" y="1" width="182" height="191.5" stroke="#1a1a1a" stroke-width="1.15" fill="none"/>
<path d="M43.5 389.5v-2.6M43.5 198.5v2.6M51.77 389.5v-2.6M51.77 198.5v2.6M60.05 389.5v-2.6M60.05 198.5v2.6M68.32 389.5v-5M68.32 198.5v5M76.59 389.5v-2.6M76.59 198.5v2.6M84.86 389.5v-2.6M84.86 198.5v2.6M93.14 389.5v-2.6M93.14 198.5v2.6M101.41 389.5v-2.6M101.41 198.5v2.6M109.68 389.5v-5M109.68 198.5v5M117.95 389.5v-2.6M117.95 198.5v2.6M126.23 389.5v-2.6M126.23 198.5v2.6M134.5 389.5v-2.6M134.5 198.5v2.6M142.77 389.5v-2.6M142.77 198.5v2.6M151.05 389.5v-5M151.05 198.5v5M159.32 389.5v-2.6M159.32 198.5v2.6M167.59 389.5v-2.6M167.59 198.5v2.6M175.86 389.5v-2.6M175.86 198.5v2.6M184.14 389.5v-2.6M184.14 198.5v2.6M192.41 389.5v-5M192.41 198.5v5M200.68 389.5v-2.6M200.68 198.5v2.6M208.95 389.5v-2.6M208.95 198.5v2.6M217.23 389.5v-2.6M217.23 198.5v2.6M225.5 389.5v-2.6M225.5 198.5v2.6M43.5 198.5h2.6M225.5 198.5h-2.6M43.5 203.66h2.6M225.5 203.66h-2.6M43.5 208.82h5M225.5 208.82h-5M43.5 213.99h2.6M225.5 213.99h-2.6M43.5 219.15h2.6M225.5 219.15h-2.6M43.5 224.31h2.6M225.5 224.31h-2.6M43.5 229.47h2.6M225.5 229.47h-2.6M43.5 234.64h2.6M225.5 234.64h-2.6M43.5 239.8h2.6M225.5 239.8h-2.6M43.5 244.96h2.6M225.5 244.96h-2.6M43.5 250.12h2.6M225.5 250.12h-2.6M43.5 255.28h2.6M225.5 255.28h-2.6M43.5 260.45h5M225.5 260.45h-5M43.5 265.61h2.6M225.5 265.61h-2.6M43.5 270.77h2.6M225.5 270.77h-2.6M43.5 275.93h2.6M225.5 275.93h-2.6M43.5 281.09h2.6M225.5 281.09h-2.6M43.5 286.26h2.6M225.5 286.26h-2.6M43.5 291.42h2.6M225.5 291.42h-2.6M43.5 296.58h2.6M225.5 296.58h-2.6M43.5 301.74h2.6M225.5 301.74h-2.6M43.5 306.91h2.6M225.5 306.91h-2.6M43.5 312.07h5M225.5 312.07h-5M43.5 317.23h2.6M225.5 317.23h-2.6M43.5 322.39h2.6M225.5 322.39h-2.6M43.5 327.55h2.6M225.5 327.55h-2.6M43.5 332.72h2.6M225.5 332.72h-2.6M43.5 337.88h2.6M225.5 337.88h-2.6M43.5 343.04h2.6M225.5 343.04h-2.6M43.5 348.2h2.6M225.5 348.2h-2.6M43.5 353.36h2.6M225.5 353.36h-2.6M43.5 358.53h2.6M225.5 358.53h-2.6M43.5 363.69h5M225.5 363.69h-5M43.5 368.85h2.6M225.5 368.85h-2.6M43.5 374.01h2.6M225.5 374.01h-2.6M43.5 379.18h2.6M225.5 379.18h-2.6M43.5 384.34h2.6M225.5 384.34h-2.6M43.5 389.5h2.6M225.5 389.5h-2.6" stroke="#1a1a1a" stroke-width="1.1" fill="none"/>
<rect x="43.5" y="198.5" width="182" height="191" stroke="#1a1a1a" stroke-width="1.15" fill="none"/>
<path d="M230.5 389.5v-2.6M230.5 198.5v2.6M239.17 389.5v-2.6M239.17 198.5v2.6M247.83 389.5v-5M247.83 198.5v5M256.5 389.5v-2.6M256.5 198.5v2.6M265.17 389.5v-2.6M265.17 198.5v2.6M273.83 389.5v-2.6M273.83 198.5v2.6M282.5 389.5v-2.6M282.5 198.5v2.6M291.17 389.5v-5M291.17 198.5v5M299.83 389.5v-2.6M299.83 198.5v2.6M308.5 389.5v-2.6M308.5 198.5v2.6M317.17 389.5v-2.6M317.17 198.5v2.6M325.83 389.5v-2.6M325.83 198.5v2.6M334.5 389.5v-5M334.5 198.5v5M343.17 389.5v-2.6M343.17 198.5v2.6M351.83 389.5v-2.6M351.83 198.5v2.6M360.5 389.5v-2.6M360.5 198.5v2.6M369.17 389.5v-2.6M369.17 198.5v2.6M377.83 389.5v-5M377.83 198.5v5M386.5 389.5v-2.6M386.5 198.5v2.6M395.17 389.5v-2.6M395.17 198.5v2.6M403.83 389.5v-2.6M403.83 198.5v2.6M412.5 389.5v-2.6M412.5 198.5v2.6M230.5 198.5h2.6M412.5 198.5h-2.6M230.5 203.66h2.6M412.5 203.66h-2.6M230.5 208.82h5M412.5 208.82h-5M230.5 213.99h2.6M412.5 213.99h-2.6M230.5 219.15h2.6M412.5 219.15h-2.6M230.5 224.31h2.6M412.5 224.31h-2.6M230.5 229.47h2.6M412.5 229.47h-2.6M230.5 234.64h2.6M412.5 234.64h-2.6M230.5 239.8h2.6M412.5 239.8h-2.6M230.5 244.96h2.6M412.5 244.96h-2.6M230.5 250.12h2.6M412.5 250.12h-2.6M230.5 255.28h2.6M412.5 255.28h-2.6M230.5 260.45h5M412.5 260.45h-5M230.5 265.61h2.6M412.5 265.61h-2.6M230.5 270.77h2.6M412.5 270.77h-2.6M230.5 275.93h2.6M412.5 275.93h-2.6M230.5 281.09h2.6M412.5 281.09h-2.6M230.5 286.26h2.6M412.5 286.26h-2.6M230.5 291.42h2.6M412.5 291.42h-2.6M230.5 296.58h2.6M412.5 296.58h-2.6M230.5 301.74h2.6M412.5 301.74h-2.6M230.5 306.91h2.6M412.5 306.91h-2.6M230.5 312.07h5M412.5 312.07h-5M230.5 317.23h2.6M412.5 317.23h-2.6M230.5 322.39h2.6M412.5 322.39h-2.6M230.5 327.55h2.6M412.5 327.55h-2.6M230.5 332.72h2.6M412.5 332.72h-2.6M230.5 337.88h2.6M412.5 337.88h-2.6M230.5 343.04h2.6M412.5 343.04h-2.6M230.5 348.2h2.6M412.5 348.2h-2.6M230.5 353.36h2.6M412.5 353.36h-2.6M230.5 358.53h2.6M412.5 358.53h-2.6M230.5 363.69h5M412.5 363.69h-5M230.5 368.85h2.6M412.5 368.85h-2.6M230.5 374.01h2.6M412.5 374.01h-2.6M230.5 379.18h2.6M412.5 379.18h-2.6M230.5 384.34h2.6M412.5 384.34h-2.6M230.5 389.5h2.6M412.5 389.5h-2.6" stroke="#1a1a1a" stroke-width="1.1" fill="none"/>
<rect x="230.5" y="198.5" width="182" height="191" stroke="#1a1a1a" stroke-width="1.15" fill="none"/>
<path d="M417.5 389.5v-2.6M417.5 198.5v2.6M428.21 389.5v-2.6M428.21 198.5v2.6M438.91 389.5v-2.6M438.91 198.5v2.6M449.62 389.5v-2.6M449.62 198.5v2.6M460.32 389.5v-5M460.32 198.5v5M471.03 389.5v-2.6M471.03 198.5v2.6M481.74 389.5v-2.6M481.74 198.5v2.6M492.44 389.5v-2.6M492.44 198.5v2.6M503.15 389.5v-2.6M503.15 198.5v2.6M513.85 389.5v-5M513.85 198.5v5M524.56 389.5v-2.6M524.56 198.5v2.6M535.26 389.5v-2.6M535.26 198.5v2.6M545.97 389.5v-2.6M545.97 198.5v2.6M556.68 389.5v-2.6M556.68 198.5v2.6M567.38 389.5v-5M567.38 198.5v5M578.09 389.5v-2.6M578.09 198.5v2.6M588.79 389.5v-2.6M588.79 198.5v2.6M599.5 389.5v-2.6M599.5 198.5v2.6M417.5 198.5h2.6M599.5 198.5h-2.6M417.5 203.66h2.6M599.5 203.66h-2.6M417.5 208.82h5M599.5 208.82h-5M417.5 213.99h2.6M599.5 213.99h-2.6M417.5 219.15h2.6M599.5 219.15h-2.6M417.5 224.31h2.6M599.5 224.31h-2.6M417.5 229.47h2.6M599.5 229.47h-2.6M417.5 234.64h2.6M599.5 234.64h-2.6M417.5 239.8h2.6M599.5 239.8h-2.6M417.5 244.96h2.6M599.5 244.96h-2.6M417.5 250.12h2.6M599.5 250.12h-2.6M417.5 255.28h2.6M599.5 255.28h-2.6M417.5 260.45h5M599.5 260.45h-5M417.5 265.61h2.6M599.5 265.61h-2.6M417.5 270.77h2.6M599.5 270.77h-2.6M417.5 275.93h2.6M599.5 275.93h-2.6M417.5 281.09h2.6M599.5 281.09h-2.6M417.5 286.26h2.6M599.5 286.26h-2.6M417.5 291.42h2.6M599.5 291.42h-2.6M417.5 296.58h2.6M599.5 296.58h-2.6M417.5 301.74h2.6M599.5 301.74h-2.6M417.5 306.91h2.6M599.5 306.91h-2.6M417.5 312.07h5M599.5 312.07h-5M417.5 317.23h2.6M599.5 317.23h-2.6M417.5 322.39h2.6M599.5 322.39h-2.6M417.5 327.55h2.6M599.5 327.55h-2.6M417.5 332.72h2.6M599.5 332.72h-2.6M417.5 337.88h2.6M599.5 337.88h-2.6M417.5 343.04h2.6M599.5 343.04h-2.6M417.5 348.2h2.6M599.5 348.2h-2.6M417.5 353.36h2.6M599.5 353.36h-2.6M417.5 358.53h2.6M599.5 358.53h-2.6M417.5 363.69h5M599.5 363.69h-5M417.5 368.85h2.6M599.5 368.85h-2.6M417.5 374.01h2.6M599.5 374.01h-2.6M417.5 379.18h2.6M599.5 379.18h-2.6M417.5 384.34h2.6M599.5 384.34h-2.6M417.5 389.5h2.6M599.5 389.5h-2.6" stroke="#1a1a1a" stroke-width="1.1" fill="none"/>
<rect x="417.5" y="198.5" width="182" height="191" stroke="#1a1a1a" stroke-width="1.15" fill="none"/>
<path d="M43.5 587v-2.6M43.5 395.8v2.6M51.77 587v-2.6M51.77 395.8v2.6M60.05 587v-2.6M60.05 395.8v2.6M68.32 587v-5M68.32 395.8v5M76.59 587v-2.6M76.59 395.8v2.6M84.86 587v-2.6M84.86 395.8v2.6M93.14 587v-2.6M93.14 395.8v2.6M101.41 587v-2.6M101.41 395.8v2.6M109.68 587v-5M109.68 395.8v5M117.95 587v-2.6M117.95 395.8v2.6M126.23 587v-2.6M126.23 395.8v2.6M134.5 587v-2.6M134.5 395.8v2.6M142.77 587v-2.6M142.77 395.8v2.6M151.05 587v-5M151.05 395.8v5M159.32 587v-2.6M159.32 395.8v2.6M167.59 587v-2.6M167.59 395.8v2.6M175.86 587v-2.6M175.86 395.8v2.6M184.14 587v-2.6M184.14 395.8v2.6M192.41 587v-5M192.41 395.8v5M200.68 587v-2.6M200.68 395.8v2.6M208.95 587v-2.6M208.95 395.8v2.6M217.23 587v-2.6M217.23 395.8v2.6M225.5 587v-2.6M225.5 395.8v2.6M43.5 395.8h2.6M225.5 395.8h-2.6M43.5 400.58h2.6M225.5 400.58h-2.6M43.5 405.36h2.6M225.5 405.36h-2.6M43.5 410.14h2.6M225.5 410.14h-2.6M43.5 414.92h2.6M225.5 414.92h-2.6M43.5 419.7h5M225.5 419.7h-5M43.5 424.48h2.6M225.5 424.48h-2.6M43.5 429.26h2.6M225.5 429.26h-2.6M43.5 434.04h2.6M225.5 434.04h-2.6M43.5 438.82h2.6M225.5 438.82h-2.6M43.5 443.6h2.6M225.5 443.6h-2.6M43.5 448.38h2.6M225.5 448.38h-2.6M43.5 453.16h2.6M225.5 453.16h-2.6M43.5 457.94h2.6M225.5 457.94h-2.6M43.5 462.72h2.6M225.5 462.72h-2.6M43.5 467.5h5M225.5 467.5h-5M43.5 472.28h2.6M225.5 472.28h-2.6M43.5 477.06h2.6M225.5 477.06h-2.6M43.5 481.84h2.6M225.5 481.84h-2.6M43.5 486.62h2.6M225.5 486.62h-2.6M43.5 491.4h2.6M225.5 491.4h-2.6M43.5 496.18h2.6M225.5 496.18h-2.6M43.5 500.96h2.6M225.5 500.96h-2.6M43.5 505.74h2.6M225.5 505.74h-2.6M43.5 510.52h2.6M225.5 510.52h-2.6M43.5 515.3h5M225.5 515.3h-5M43.5 520.08h2.6M225.5 520.08h-2.6M43.5 524.86h2.6M225.5 524.86h-2.6M43.5 529.64h2.6M225.5 529.64h-2.6M43.5 534.42h2.6M225.5 534.42h-2.6M43.5 539.2h2.6M225.5 539.2h-2.6M43.5 543.98h2.6M225.5 543.98h-2.6M43.5 548.76h2.6M225.5 548.76h-2.6M43.5 553.54h2.6M225.5 553.54h-2.6M43.5 558.32h2.6M225.5 558.32h-2.6M43.5 563.1h5M225.5 563.1h-5M43.5 567.88h2.6M225.5 567.88h-2.6M43.5 572.66h2.6M225.5 572.66h-2.6M43.5 577.44h2.6M225.5 577.44h-2.6M43.5 582.22h2.6M225.5 582.22h-2.6M43.5 587h2.6M225.5 587h-2.6" stroke="#1a1a1a" stroke-width="1.1" fill="none"/>
<rect x="43.5" y="395.8" width="182" height="191.2" stroke="#1a1a1a" stroke-width="1.15" fill="none"/>
<path d="M230.5 587v-2.6M230.5 395.8v2.6M239.17 587v-2.6M239.17 395.8v2.6M247.83 587v-5M247.83 395.8v5M256.5 587v-2.6M256.5 395.8v2.6M265.17 587v-2.6M265.17 395.8v2.6M273.83 587v-2.6M273.83 395.8v2.6M282.5 587v-2.6M282.5 395.8v2.6M291.17 587v-5M291.17 395.8v5M299.83 587v-2.6M299.83 395.8v2.6M308.5 587v-2.6M308.5 395.8v2.6M317.17 587v-2.6M317.17 395.8v2.6M325.83 587v-2.6M325.83 395.8v2.6M334.5 587v-5M334.5 395.8v5M343.17 587v-2.6M343.17 395.8v2.6M351.83 587v-2.6M351.83 395.8v2.6M360.5 587v-2.6M360.5 395.8v2.6M369.17 587v-2.6M369.17 395.8v2.6M377.83 587v-5M377.83 395.8v5M386.5 587v-2.6M386.5 395.8v2.6M395.17 587v-2.6M395.17 395.8v2.6M403.83 587v-2.6M403.83 395.8v2.6M412.5 587v-2.6M412.5 395.8v2.6M230.5 395.8h2.6M412.5 395.8h-2.6M230.5 400.58h2.6M412.5 400.58h-2.6M230.5 405.36h2.6M412.5 405.36h-2.6M230.5 410.14h2.6M412.5 410.14h-2.6M230.5 414.92h2.6M412.5 414.92h-2.6M230.5 419.7h5M412.5 419.7h-5M230.5 424.48h2.6M412.5 424.48h-2.6M230.5 429.26h2.6M412.5 429.26h-2.6M230.5 434.04h2.6M412.5 434.04h-2.6M230.5 438.82h2.6M412.5 438.82h-2.6M230.5 443.6h2.6M412.5 443.6h-2.6M230.5 448.38h2.6M412.5 448.38h-2.6M230.5 453.16h2.6M412.5 453.16h-2.6M230.5 457.94h2.6M412.5 457.94h-2.6M230.5 462.72h2.6M412.5 462.72h-2.6M230.5 467.5h5M412.5 467.5h-5M230.5 472.28h2.6M412.5 472.28h-2.6M230.5 477.06h2.6M412.5 477.06h-2.6M230.5 481.84h2.6M412.5 481.84h-2.6M230.5 486.62h2.6M412.5 486.62h-2.6M230.5 491.4h2.6M412.5 491.4h-2.6M230.5 496.18h2.6M412.5 496.18h-2.6M230.5 500.96h2.6M412.5 500.96h-2.6M230.5 505.74h2.6M412.5 505.74h-2.6M230.5 510.52h2.6M412.5 510.52h-2.6M230.5 515.3h5M412.5 515.3h-5M230.5 520.08h2.6M412.5 520.08h-2.6M230.5 524.86h2.6M412.5 524.86h-2.6M230.5 529.64h2.6M412.5 529.64h-2.6M230.5 534.42h2.6M412.5 534.42h-2.6M230.5 539.2h2.6M412.5 539.2h-2.6M230.5 543.98h2.6M412.5 543.98h-2.6M230.5 548.76h2.6M412.5 548.76h-2.6M230.5 553.54h2.6M412.5 553.54h-2.6M230.5 558.32h2.6M412.5 558.32h-2.6M230.5 563.1h5M412.5 563.1h-5M230.5 567.88h2.6M412.5 567.88h-2.6M230.5 572.66h2.6M412.5 572.66h-2.6M230.5 577.44h2.6M412.5 577.44h-2.6M230.5 582.22h2.6M412.5 582.22h-2.6M230.5 587h2.6M412.5 587h-2.6" stroke="#1a1a1a" stroke-width="1.1" fill="none"/>
<rect x="230.5" y="395.8" width="182" height="191.2" stroke="#1a1a1a" stroke-width="1.15" fill="none"/>
<path d="M417.5 587v-2.6M417.5 395.8v2.6M428.21 587v-2.6M428.21 395.8v2.6M438.91 587v-2.6M438.91 395.8v2.6M449.62 587v-2.6M449.62 395.8v2.6M460.32 587v-5M460.32 395.8v5M471.03 587v-2.6M471.03 395.8v2.6M481.74 587v-2.6M481.74 395.8v2.6M492.44 587v-2.6M492.44 395.8v2.6M503.15 587v-2.6M503.15 395.8v2.6M513.85 587v-5M513.85 395.8v5M524.56 587v-2.6M524.56 395.8v2.6M535.26 587v-2.6M535.26 395.8v2.6M545.97 587v-2.6M545.97 395.8v2.6M556.68 587v-2.6M556.68 395.8v2.6M567.38 587v-5M567.38 395.8v5M578.09 587v-2.6M578.09 395.8v2.6M588.79 587v-2.6M588.79 395.8v2.6M599.5 587v-2.6M599.5 395.8v2.6M417.5 395.8h2.6M599.5 395.8h-2.6M417.5 400.58h2.6M599.5 400.58h-2.6M417.5 405.36h2.6M599.5 405.36h-2.6M417.5 410.14h2.6M599.5 410.14h-2.6M417.5 414.92h2.6M599.5 414.92h-2.6M417.5 419.7h5M599.5 419.7h-5M417.5 424.48h2.6M599.5 424.48h-2.6M417.5 429.26h2.6M599.5 429.26h-2.6M417.5 434.04h2.6M599.5 434.04h-2.6M417.5 438.82h2.6M599.5 438.82h-2.6M417.5 443.6h2.6M599.5 443.6h-2.6M417.5 448.38h2.6M599.5 448.38h-2.6M417.5 453.16h2.6M599.5 453.16h-2.6M417.5 457.94h2.6M599.5 457.94h-2.6M417.5 462.72h2.6M599.5 462.72h-2.6M417.5 467.5h5M599.5 467.5h-5M417.5 472.28h2.6M599.5 472.28h-2.6M417.5 477.06h2.6M599.5 477.06h-2.6M417.5 481.84h2.6M599.5 481.84h-2.6M417.5 486.62h2.6M599.5 486.62h-2.6M417.5 491.4h2.6M599.5 491.4h-2.6M417.5 496.18h2.6M599.5 496.18h-2.6M417.5 500.96h2.6M599.5 500.96h-2.6M417.5 505.74h2.6M599.5 505.74h-2.6M417.5 510.52h2.6M599.5 510.52h-2.6M417.5 515.3h5M599.5 515.3h-5M417.5 520.08h2.6M599.5 520.08h-2.6M417.5 524.86h2.6M599.5 524.86h-2.6M417.5 529.64h2.6M599.5 529.64h-2.6M417.5 534.42h2.6M599.5 534.42h-2.6M417.5 539.2h2.6M599.5 539.2h-2.6M417.5 543.98h2.6M599.5 543.98h-2.6M417.5 548.76h2.6M599.5 548.76h-2.6M417.5 553.54h2.6M599.5 553.54h-2.6M417.5 558.32h2.6M599.5 558.32h-2.6M417.5 563.1h5M599.5 563.1h-5M417.5 567.88h2.6M599.5 567.88h-2.6M417.5 572.66h2.6M599.5 572.66h-2.6M417.5 577.44h2.6M599.5 577.44h-2.6M417.5 582.22h2.6M599.5 582.22h-2.6M417.5 587h2.6M599.5 587h-2.6" stroke="#1a1a1a" stroke-width="1.1" fill="none"/>
<rect x="417.5" y="395.8" width="182" height="191.2" stroke="#1a1a1a" stroke-width="1.15" fill="none"/>
<text x="68.32" y="604.6" font-size="14" text-anchor="middle" font-family="Liberation Sans, sans-serif" fill="#111" stroke="#111" stroke-width="0.35">-0.5</text>
<text x="109.68" y="604.6" font-size="14" text-anchor="middle" font-family="Liberation Sans, sans-serif" fill="#111" stroke="#111" stroke-width="0.35">0.0</text>
<text x="151.05" y="604.6" font-size="14" text-anchor="middle" font-family="Liberation Sans, sans-serif" fill="#111" stroke="#111" stroke-width="0.35">0.5</text>
<text x="192.41" y="604.6" font-size="14" text-anchor="middle" font-family="Liberation Sans, sans-serif" fill="#111" stroke="#111" stroke-width="0.35">1.0</text>
<text x="247.83" y="604.6" font-size="14" text-anchor="middle" font-family="Liberation Sans, sans-serif" fill="#111" stroke="#111" stroke-width="0.35">-0.5</text>
<text x="291.17" y="604.6" font-size="14" text-anchor="middle" font-family="Liberation Sans, sans-serif" fill="#111" stroke="#111" stroke-width="0.35">0.0</text>
<text x="334.5" y="604.6" font-size="14" text-anchor="middle" font-family="Liberation Sans, sans-serif" fill="#111" stroke="#111" stroke-width="0.35">0.5</text>
<text x="377.83" y="604.6" font-size="14" text-anchor="middle" font-family="Liberation Sans, sans-serif" fill="#111" stroke="#111" stroke-width="0.35">1.0</text>
<text x="460.32" y="604.6" font-size="14" text-anchor="middle" font-family="Liberation Sans, sans-serif" fill="#111" stroke="#111" stroke-width="0.35">0</text>
<text x="513.85" y="604.6" font-size="14" text-anchor="middle" font-family="Liberation Sans, sans-serif" fill="#111" stroke="#111" stroke-width="0.35">1</text>
<text x="567.38" y="604.6" font-size="14" text-anchor="middle" font-family="Liberation Sans, sans-serif" fill="#111" stroke="#111" stroke-width="0.35">2</text>
<text x="39.6" y="31.88" font-size="14" text-anchor="end" font-family="Liberation Sans, sans-serif" fill="#111" stroke="#111" stroke-width="0.35">13</text>
<text x="39.6" y="83.64" font-size="14" text-anchor="end" font-family="Liberation Sans, sans-serif" fill="#111" stroke="#111" stroke-width="0.35">14</text>
<text x="39.6" y="135.39" font-size="14" text-anchor="end" font-family="Liberation Sans, sans-serif" fill="#111" stroke="#111" stroke-width="0.35">15</text>
<text x="39.6" y="187.15" font-size="14" text-anchor="end" font-family="Liberation Sans, sans-serif" fill="#111" stroke="#111" stroke-width="0.35">16</text>
<text x="39.6" y="213.82" font-size="14" text-anchor="end" font-family="Liberation Sans, sans-serif" fill="#111" stroke="#111" stroke-width="0.35">12</text>
<text x="39.6" y="265.45" font-size="14" text-anchor="end" font-family="Liberation Sans, sans-serif" fill="#111" stroke="#111" stroke-width="0.35">13</text>
<text x="39.6" y="317.07" font-size="14" text-anchor="end" font-family="Liberation Sans, sans-serif" fill="#111" stroke="#111" stroke-width="0.35">14</text>
<text x="39.6" y="368.69" font-size="14" text-anchor="end" font-family="Liberation Sans, sans-serif" fill="#111" stroke="#111" stroke-width="0.35">15</text>
<text x="39.6" y="424.7" font-size="14" text-anchor="end" font-family="Liberation Sans, sans-serif" fill="#111" stroke="#111" stroke-width="0.35">12</text>
<text x="39.6" y="472.5" font-size="14" text-anchor="end" font-family="Liberation Sans, sans-serif" fill="#111" stroke="#111" stroke-width="0.35">13</text>
<text x="39.6" y="520.3" font-size="14" text-anchor="end" font-family="Liberation Sans, sans-serif" fill="#111" stroke="#111" stroke-width="0.35">14</text>
<text x="39.6" y="568.1" font-size="14" text-anchor="end" font-family="Liberation Sans, sans-serif" fill="#111" stroke="#111" stroke-width="0.35">15</text>
<text x="134" y="621.6" font-size="14" text-anchor="middle" font-family="Liberation Sans, sans-serif" fill="#111" stroke="#111" stroke-width="0.35">J<tspan font-size="9.2" dy="2.2">2MASS</tspan><tspan dy="-2.2">-H</tspan><tspan font-size="9.2" dy="2.2">2MASS</tspan><tspan dy="-2.2"> (mag)</tspan></text>
<text x="321" y="621.6" font-size="14" text-anchor="middle" font-family="Liberation Sans, sans-serif" fill="#111" stroke="#111" stroke-width="0.35">H<tspan font-size="9.2" dy="2.2">2MASS</tspan><tspan dy="-2.2">-K</tspan><tspan font-size="9.2" dy="2.2">2MASS</tspan><tspan dy="-2.2"> (mag)</tspan></text>
<text x="508" y="621.6" font-size="14" text-anchor="middle" font-family="Liberation Sans, sans-serif" fill="#111" stroke="#111" stroke-width="0.35">J<tspan font-size="9.2" dy="2.2">2MASS</tspan><tspan dy="-2.2">-K</tspan><tspan font-size="9.2" dy="2.2">2MASS</tspan><tspan dy="-2.2"> (mag)</tspan></text>
<text transform="translate(11.7 96.8) rotate(-90)" x="0" y="0" font-size="14" text-anchor="middle" font-family="Liberation Sans, sans-serif" fill="#111" stroke="#111" stroke-width="0.35">M<tspan font-size="9.2" dy="2.2">J,2MASS</tspan><tspan dy="-2.2"> (mag)</tspan></text>
<text transform="translate(11.7 292) rotate(-90)" x="0" y="0" font-size="14" text-anchor="middle" font-family="Liberation Sans, sans-serif" fill="#111" stroke="#111" stroke-width="0.35">M<tspan font-size="9.2" dy="2.2">H,2MASS</tspan><tspan dy="-2.2"> (mag)</tspan></text>
<text transform="translate(11.7 491) rotate(-90)" x="0" y="0" font-size="14" text-anchor="middle" font-family="Liberation Sans, sans-serif" fill="#111" stroke="#111" stroke-width="0.35">M<tspan font-size="9.2" dy="2.2">K,2MASS</tspan><tspan dy="-2.2"> (mag)</tspan></text>
<text x="101.2" y="26.7" font-size="12" text-anchor="middle" font-family="Liberation Sans, sans-serif" fill="#111" stroke="#111" stroke-width="0.2">only binary</text>
<text x="101.2" y="39.3" font-size="12" text-anchor="middle" font-family="Liberation Sans, sans-serif" fill="#111" stroke="#111" stroke-width="0.2">components</text>
</svg>
</body></html>
